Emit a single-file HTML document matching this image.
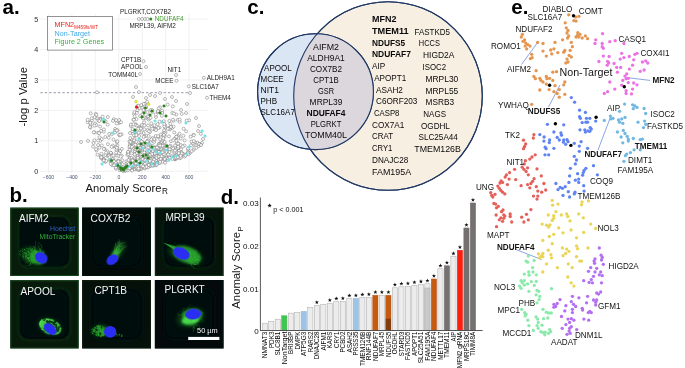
<!DOCTYPE html>
<html><head><meta charset="utf-8"><title>Figure</title>
<style>
html,body{margin:0;padding:0;background:#fff;}
body{width:685px;height:368px;overflow:hidden;font-family:"Liberation Sans",sans-serif;}
svg{display:block;font-family:"Liberation Sans",sans-serif;will-change:transform;}
</style></head><body>
<svg width="685" height="368" viewBox="0 0 685 368">
<rect width="685" height="368" fill="#fff"/>
<circle cx="388" cy="96" r="94.3" fill="#f8efe3" stroke="#1f3864" stroke-width="1.1"/>
<circle cx="315.5" cy="91.7" r="57.9" fill="#dbe6f5" stroke="#1f3864" stroke-width="1.1"/>
<clipPath id="vclip"><circle cx="388" cy="96" r="94.3"/></clipPath>
<circle cx="315.5" cy="91.7" r="57.9" fill="#dcd7dd" stroke="none" clip-path="url(#vclip)"/>
<circle cx="388" cy="96" r="94.3" fill="none" stroke="#1f3864" stroke-width="1.1"/>
<circle cx="315.5" cy="91.7" r="57.9" fill="none" stroke="#1f3864" stroke-width="1.1"/>
<text transform="translate(326.00,49.75)" font-size="8.8" text-anchor="middle" font-weight="normal" fill="#0a0a0a" textLength="26.0" lengthAdjust="spacingAndGlyphs">AIFM2</text>
<text transform="translate(326.00,60.75)" font-size="8.8" text-anchor="middle" font-weight="normal" fill="#0a0a0a" textLength="37.5" lengthAdjust="spacingAndGlyphs">ALDH9A1</text>
<text transform="translate(326.00,71.75)" font-size="8.8" text-anchor="middle" font-weight="normal" fill="#0a0a0a" textLength="32.1" lengthAdjust="spacingAndGlyphs">COX7B2</text>
<text transform="translate(326.00,82.75)" font-size="8.8" text-anchor="middle" font-weight="normal" fill="#0a0a0a" textLength="25.4" lengthAdjust="spacingAndGlyphs">CPT1B</text>
<text transform="translate(326.00,93.75)" font-size="8.8" text-anchor="middle" font-weight="normal" fill="#0a0a0a" textLength="16.0" lengthAdjust="spacingAndGlyphs">GSR</text>
<text transform="translate(326.00,104.75)" font-size="8.8" text-anchor="middle" font-weight="normal" fill="#0a0a0a" textLength="32.8" lengthAdjust="spacingAndGlyphs">MRPL39</text>
<text transform="translate(326.00,115.75)" font-size="8.8" text-anchor="middle" font-weight="bold" fill="#0a0a0a" textLength="38.9" lengthAdjust="spacingAndGlyphs">NDUFAF4</text>
<text transform="translate(326.00,126.75)" font-size="8.8" text-anchor="middle" font-weight="normal" fill="#0a0a0a" textLength="30.6" lengthAdjust="spacingAndGlyphs">PLGRKT</text>
<text transform="translate(326.00,137.75)" font-size="8.8" text-anchor="middle" font-weight="normal" fill="#0a0a0a" textLength="42.1" lengthAdjust="spacingAndGlyphs">TOMM40L</text>
<text transform="translate(264.00,71.15)" font-size="8.8" text-anchor="start" font-weight="normal" fill="#0a0a0a" textLength="27.8" lengthAdjust="spacingAndGlyphs">APOOL</text>
<text transform="translate(260.50,82.15)" font-size="8.8" text-anchor="start" font-weight="normal" fill="#0a0a0a" textLength="23.2" lengthAdjust="spacingAndGlyphs">MCEE</text>
<text transform="translate(260.50,93.15)" font-size="8.8" text-anchor="start" font-weight="normal" fill="#0a0a0a" textLength="18.5" lengthAdjust="spacingAndGlyphs">NIT1</text>
<text transform="translate(260.50,104.15)" font-size="8.8" text-anchor="start" font-weight="normal" fill="#0a0a0a" textLength="16.5" lengthAdjust="spacingAndGlyphs">PHB</text>
<text transform="translate(260.50,115.15)" font-size="8.8" text-anchor="start" font-weight="normal" fill="#0a0a0a" textLength="34.4" lengthAdjust="spacingAndGlyphs">SLC16A7</text>
<text transform="translate(372.00,21.75)" font-size="8.8" text-anchor="start" font-weight="bold" fill="#0a0a0a" textLength="24.5" lengthAdjust="spacingAndGlyphs">MFN2</text>
<text transform="translate(372.00,34.25)" font-size="8.8" text-anchor="start" font-weight="bold" fill="#0a0a0a" textLength="36.7" lengthAdjust="spacingAndGlyphs">TMEM11</text>
<text transform="translate(372.00,45.75)" font-size="8.8" text-anchor="start" font-weight="bold" fill="#0a0a0a" textLength="33.1" lengthAdjust="spacingAndGlyphs">NDUFS5</text>
<text transform="translate(372.00,57.25)" font-size="8.8" text-anchor="start" font-weight="bold" fill="#0a0a0a" textLength="38.9" lengthAdjust="spacingAndGlyphs">NDUFAF7</text>
<text transform="translate(372.00,69.25)" font-size="8.8" text-anchor="start" font-weight="normal" fill="#0a0a0a" textLength="13.2" lengthAdjust="spacingAndGlyphs">AIP</text>
<text transform="translate(374.20,81.25)" font-size="8.8" text-anchor="start" font-weight="normal" fill="#0a0a0a" textLength="32.0" lengthAdjust="spacingAndGlyphs">APOPT1</text>
<text transform="translate(376.00,92.75)" font-size="8.8" text-anchor="start" font-weight="normal" fill="#0a0a0a" textLength="26.9" lengthAdjust="spacingAndGlyphs">ASAH2</text>
<text transform="translate(376.00,104.25)" font-size="8.8" text-anchor="start" font-weight="normal" fill="#0a0a0a" textLength="41.4" lengthAdjust="spacingAndGlyphs">C6ORF203</text>
<text transform="translate(374.00,116.25)" font-size="8.8" text-anchor="start" font-weight="normal" fill="#0a0a0a" textLength="25.4" lengthAdjust="spacingAndGlyphs">CASP8</text>
<text transform="translate(372.00,127.75)" font-size="8.8" text-anchor="start" font-weight="normal" fill="#0a0a0a" textLength="32.4" lengthAdjust="spacingAndGlyphs">COX7A1</text>
<text transform="translate(372.00,139.25)" font-size="8.8" text-anchor="start" font-weight="normal" fill="#0a0a0a" textLength="21.0" lengthAdjust="spacingAndGlyphs">CRAT</text>
<text transform="translate(372.00,151.25)" font-size="8.8" text-anchor="start" font-weight="normal" fill="#0a0a0a" textLength="20.3" lengthAdjust="spacingAndGlyphs">CRY1</text>
<text transform="translate(372.00,163.25)" font-size="8.8" text-anchor="start" font-weight="normal" fill="#0a0a0a" textLength="36.3" lengthAdjust="spacingAndGlyphs">DNAJC28</text>
<text transform="translate(372.00,175.25)" font-size="8.8" text-anchor="start" font-weight="normal" fill="#0a0a0a" textLength="39.1" lengthAdjust="spacingAndGlyphs">FAM195A</text>
<text transform="translate(414.50,34.55)" font-size="8.8" text-anchor="start" font-weight="normal" fill="#0a0a0a" textLength="35.5" lengthAdjust="spacingAndGlyphs">FASTKD5</text>
<text transform="translate(418.80,46.35)" font-size="8.8" text-anchor="start" font-weight="normal" fill="#0a0a0a" textLength="21.1" lengthAdjust="spacingAndGlyphs">HCCS</text>
<text transform="translate(423.00,57.75)" font-size="8.8" text-anchor="start" font-weight="normal" fill="#0a0a0a" textLength="31.4" lengthAdjust="spacingAndGlyphs">HIGD2A</text>
<text transform="translate(422.50,69.75)" font-size="8.8" text-anchor="start" font-weight="normal" fill="#0a0a0a" textLength="23.6" lengthAdjust="spacingAndGlyphs">ISOC2</text>
<text transform="translate(425.50,81.75)" font-size="8.8" text-anchor="start" font-weight="normal" fill="#0a0a0a" textLength="32.8" lengthAdjust="spacingAndGlyphs">MRPL30</text>
<text transform="translate(425.50,93.75)" font-size="8.8" text-anchor="start" font-weight="normal" fill="#0a0a0a" textLength="32.8" lengthAdjust="spacingAndGlyphs">MRPL55</text>
<text transform="translate(425.50,105.25)" font-size="8.8" text-anchor="start" font-weight="normal" fill="#0a0a0a" textLength="28.5" lengthAdjust="spacingAndGlyphs">MSRB3</text>
<text transform="translate(423.30,116.75)" font-size="8.8" text-anchor="start" font-weight="normal" fill="#0a0a0a" textLength="22.7" lengthAdjust="spacingAndGlyphs">NAGS</text>
<text transform="translate(421.00,128.75)" font-size="8.8" text-anchor="start" font-weight="normal" fill="#0a0a0a" textLength="28.9" lengthAdjust="spacingAndGlyphs">OGDHL</text>
<text transform="translate(418.50,140.25)" font-size="8.8" text-anchor="start" font-weight="normal" fill="#0a0a0a" textLength="39.4" lengthAdjust="spacingAndGlyphs">SLC25A44</text>
<text transform="translate(414.30,151.75)" font-size="8.8" text-anchor="start" font-weight="normal" fill="#0a0a0a" textLength="46.6" lengthAdjust="spacingAndGlyphs">TMEM126B</text>
<text transform="translate(247.30,13.80)" font-size="20.5" text-anchor="start" font-weight="bold" fill="#000">c.</text>
<line x1="48.45" y1="14" x2="48.45" y2="173.30" stroke="#ebebeb" stroke-width="0.7"/>
<line x1="71.90" y1="14" x2="71.90" y2="173.30" stroke="#ebebeb" stroke-width="0.7"/>
<line x1="95.35" y1="14" x2="95.35" y2="173.30" stroke="#ebebeb" stroke-width="0.7"/>
<line x1="118.80" y1="14" x2="118.80" y2="173.30" stroke="#ebebeb" stroke-width="0.7"/>
<line x1="142.25" y1="14" x2="142.25" y2="173.30" stroke="#ebebeb" stroke-width="0.7"/>
<line x1="165.70" y1="14" x2="165.70" y2="173.30" stroke="#ebebeb" stroke-width="0.7"/>
<line x1="189.15" y1="14" x2="189.15" y2="173.30" stroke="#ebebeb" stroke-width="0.7"/>
 <line x1="39.7" y1="171.30" x2="208" y2="171.30" stroke="#ebebeb" stroke-width="0.7"/>
 <line x1="39.7" y1="140.85" x2="208" y2="140.85" stroke="#ebebeb" stroke-width="0.7"/>
 <line x1="39.7" y1="110.40" x2="208" y2="110.40" stroke="#ebebeb" stroke-width="0.7"/>
 <line x1="39.7" y1="79.95" x2="208" y2="79.95" stroke="#ebebeb" stroke-width="0.7"/>
 <line x1="39.7" y1="49.50" x2="208" y2="49.50" stroke="#ebebeb" stroke-width="0.7"/>
 <line x1="39.7" y1="19.05" x2="208" y2="19.05" stroke="#ebebeb" stroke-width="0.7"/>
<line x1="40.4" y1="92.6" x2="188.5" y2="92.6" stroke="#a9acb8" stroke-width="1.25" stroke-dasharray="2.3,2.1"/>
<text transform="translate(38.20,173.90)" font-size="7.2" text-anchor="end" font-weight="normal" fill="#2a2a2a">0</text>
<text transform="translate(38.20,143.45)" font-size="7.2" text-anchor="end" font-weight="normal" fill="#2a2a2a">1</text>
<text transform="translate(38.20,113.00)" font-size="7.2" text-anchor="end" font-weight="normal" fill="#2a2a2a">2</text>
<text transform="translate(38.20,82.55)" font-size="7.2" text-anchor="end" font-weight="normal" fill="#2a2a2a">3</text>
<text transform="translate(38.20,52.10)" font-size="7.2" text-anchor="end" font-weight="normal" fill="#2a2a2a">4</text>
<text transform="translate(38.20,21.65)" font-size="7.2" text-anchor="end" font-weight="normal" fill="#2a2a2a">5</text>
<text transform="translate(48.45,179.00)" font-size="5.1" text-anchor="middle" font-weight="normal" fill="#465672">−600</text>
<text transform="translate(71.90,179.00)" font-size="5.1" text-anchor="middle" font-weight="normal" fill="#465672">−400</text>
<text transform="translate(95.35,179.00)" font-size="5.1" text-anchor="middle" font-weight="normal" fill="#465672">−200</text>
<text transform="translate(118.80,179.00)" font-size="5.1" text-anchor="middle" font-weight="normal" fill="#465672">0</text>
<text transform="translate(142.25,179.00)" font-size="5.1" text-anchor="middle" font-weight="normal" fill="#465672">200</text>
<text transform="translate(165.70,179.00)" font-size="5.1" text-anchor="middle" font-weight="normal" fill="#465672">400</text>
<text transform="translate(189.15,179.00)" font-size="5.1" text-anchor="middle" font-weight="normal" fill="#465672">600</text>
<text transform="translate(27.30,96.80) rotate(-90)" font-size="11.3" text-anchor="middle" font-weight="normal" fill="#111">-log p Value</text>
<text transform="translate(85.50,192.10)" font-size="11.2" text-anchor="start" font-weight="normal" fill="#111">Anomaly Score<tspan font-size="8.2" dy="2.3" dx="0.6">R</tspan></text>
<circle cx="157.5" cy="159.1" r="1.5" fill="#fff" stroke="#707070" stroke-width="0.5"/>
<circle cx="126.3" cy="161.4" r="1.5" fill="#fff" stroke="#707070" stroke-width="0.5"/>
<circle cx="170.5" cy="145.7" r="1.5" fill="#fff" stroke="#707070" stroke-width="0.5"/>
<circle cx="167.7" cy="104.5" r="1.5" fill="#fff" stroke="#707070" stroke-width="0.5"/>
<circle cx="139.5" cy="148.6" r="1.5" fill="#fff" stroke="#707070" stroke-width="0.5"/>
<circle cx="148.4" cy="141.9" r="1.5" fill="#fff" stroke="#707070" stroke-width="0.5"/>
<circle cx="147.2" cy="156.8" r="1.5" fill="#fff" stroke="#707070" stroke-width="0.5"/>
<circle cx="135.0" cy="135.0" r="1.5" fill="#fff" stroke="#707070" stroke-width="0.5"/>
<circle cx="177.6" cy="154.7" r="1.5" fill="#fff" stroke="#707070" stroke-width="0.5"/>
<circle cx="160.1" cy="160.1" r="1.5" fill="#fff" stroke="#707070" stroke-width="0.5"/>
<circle cx="161.6" cy="147.5" r="1.5" fill="#fff" stroke="#707070" stroke-width="0.5"/>
<circle cx="154.3" cy="147.8" r="1.5" fill="#fff" stroke="#707070" stroke-width="0.5"/>
<circle cx="160.6" cy="112.0" r="1.5" fill="#fff" stroke="#707070" stroke-width="0.5"/>
<circle cx="127.4" cy="154.9" r="1.5" fill="#fff" stroke="#707070" stroke-width="0.5"/>
<circle cx="127.0" cy="164.3" r="1.5" fill="#fff" stroke="#707070" stroke-width="0.5"/>
<circle cx="154.9" cy="128.5" r="1.5" fill="#fff" stroke="#707070" stroke-width="0.5"/>
<circle cx="135.9" cy="124.3" r="1.5" fill="#fff" stroke="#707070" stroke-width="0.5"/>
<circle cx="130.9" cy="126.0" r="1.5" fill="#fff" stroke="#707070" stroke-width="0.5"/>
<circle cx="194.6" cy="143.9" r="1.5" fill="#fff" stroke="#707070" stroke-width="0.5"/>
<circle cx="160.9" cy="134.6" r="1.5" fill="#fff" stroke="#707070" stroke-width="0.5"/>
<circle cx="130.9" cy="124.5" r="1.5" fill="#fff" stroke="#707070" stroke-width="0.5"/>
<circle cx="124.4" cy="168.0" r="1.5" fill="#fff" stroke="#707070" stroke-width="0.5"/>
<circle cx="134.6" cy="138.8" r="1.5" fill="#fff" stroke="#707070" stroke-width="0.5"/>
<circle cx="193.7" cy="149.8" r="1.5" fill="#fff" stroke="#707070" stroke-width="0.5"/>
<circle cx="166.4" cy="155.7" r="1.5" fill="#fff" stroke="#707070" stroke-width="0.5"/>
<circle cx="190.0" cy="152.9" r="1.5" fill="#fff" stroke="#707070" stroke-width="0.5"/>
<circle cx="165.2" cy="125.4" r="1.5" fill="#fff" stroke="#707070" stroke-width="0.5"/>
<circle cx="187.0" cy="153.6" r="1.5" fill="#fff" stroke="#707070" stroke-width="0.5"/>
<circle cx="137.2" cy="156.4" r="1.5" fill="#fff" stroke="#707070" stroke-width="0.5"/>
<circle cx="158.3" cy="162.3" r="1.5" fill="#fff" stroke="#707070" stroke-width="0.5"/>
<circle cx="142.3" cy="141.9" r="1.5" fill="#fff" stroke="#707070" stroke-width="0.5"/>
<circle cx="161.6" cy="151.9" r="1.5" fill="#fff" stroke="#707070" stroke-width="0.5"/>
<circle cx="159.1" cy="143.8" r="1.5" fill="#fff" stroke="#707070" stroke-width="0.5"/>
<circle cx="164.8" cy="149.5" r="1.5" fill="#fff" stroke="#707070" stroke-width="0.5"/>
<circle cx="132.5" cy="131.6" r="1.5" fill="#fff" stroke="#707070" stroke-width="0.5"/>
<circle cx="135.2" cy="151.2" r="1.5" fill="#fff" stroke="#707070" stroke-width="0.5"/>
<circle cx="134.3" cy="163.1" r="1.5" fill="#fff" stroke="#707070" stroke-width="0.5"/>
<circle cx="140.6" cy="168.1" r="1.5" fill="#fff" stroke="#707070" stroke-width="0.5"/>
<circle cx="158.1" cy="136.9" r="1.5" fill="#fff" stroke="#707070" stroke-width="0.5"/>
<circle cx="149.8" cy="144.6" r="1.5" fill="#fff" stroke="#707070" stroke-width="0.5"/>
<circle cx="127.8" cy="170.4" r="1.5" fill="#fff" stroke="#707070" stroke-width="0.5"/>
<circle cx="169.6" cy="150.1" r="1.5" fill="#fff" stroke="#707070" stroke-width="0.5"/>
<circle cx="174.8" cy="157.3" r="1.5" fill="#fff" stroke="#707070" stroke-width="0.5"/>
<circle cx="142.2" cy="107.8" r="1.5" fill="#fff" stroke="#707070" stroke-width="0.5"/>
<circle cx="146.4" cy="135.8" r="1.5" fill="#fff" stroke="#707070" stroke-width="0.5"/>
<circle cx="150.8" cy="159.5" r="1.5" fill="#fff" stroke="#707070" stroke-width="0.5"/>
<circle cx="128.3" cy="153.0" r="1.5" fill="#fff" stroke="#707070" stroke-width="0.5"/>
<circle cx="194.3" cy="147.9" r="1.5" fill="#fff" stroke="#707070" stroke-width="0.5"/>
<circle cx="135.5" cy="131.9" r="1.5" fill="#fff" stroke="#707070" stroke-width="0.5"/>
<circle cx="148.0" cy="125.5" r="1.5" fill="#fff" stroke="#707070" stroke-width="0.5"/>
<circle cx="139.1" cy="136.1" r="1.5" fill="#fff" stroke="#707070" stroke-width="0.5"/>
<circle cx="166.2" cy="153.7" r="1.5" fill="#fff" stroke="#707070" stroke-width="0.5"/>
<circle cx="134.8" cy="151.8" r="1.5" fill="#fff" stroke="#707070" stroke-width="0.5"/>
<circle cx="178.8" cy="149.6" r="1.5" fill="#fff" stroke="#707070" stroke-width="0.5"/>
<circle cx="178.7" cy="135.0" r="1.5" fill="#fff" stroke="#707070" stroke-width="0.5"/>
<circle cx="188.3" cy="153.5" r="1.5" fill="#fff" stroke="#707070" stroke-width="0.5"/>
<circle cx="166.7" cy="147.1" r="1.5" fill="#fff" stroke="#707070" stroke-width="0.5"/>
<circle cx="144.4" cy="152.1" r="1.5" fill="#fff" stroke="#707070" stroke-width="0.5"/>
<circle cx="178.9" cy="154.8" r="1.5" fill="#fff" stroke="#707070" stroke-width="0.5"/>
<circle cx="147.6" cy="140.6" r="1.5" fill="#fff" stroke="#707070" stroke-width="0.5"/>
<circle cx="138.9" cy="169.9" r="1.5" fill="#fff" stroke="#707070" stroke-width="0.5"/>
<circle cx="159.7" cy="121.6" r="1.5" fill="#fff" stroke="#707070" stroke-width="0.5"/>
<circle cx="145.2" cy="103.5" r="1.5" fill="#fff" stroke="#707070" stroke-width="0.5"/>
<circle cx="144.4" cy="136.5" r="1.5" fill="#fff" stroke="#707070" stroke-width="0.5"/>
<circle cx="159.7" cy="153.8" r="1.5" fill="#fff" stroke="#707070" stroke-width="0.5"/>
<circle cx="133.0" cy="133.8" r="1.5" fill="#fff" stroke="#707070" stroke-width="0.5"/>
<circle cx="144.0" cy="146.9" r="1.5" fill="#fff" stroke="#707070" stroke-width="0.5"/>
<circle cx="168.5" cy="128.2" r="1.5" fill="#fff" stroke="#707070" stroke-width="0.5"/>
<circle cx="134.0" cy="113.8" r="1.5" fill="#fff" stroke="#707070" stroke-width="0.5"/>
<circle cx="161.5" cy="142.0" r="1.5" fill="#fff" stroke="#707070" stroke-width="0.5"/>
<circle cx="160.2" cy="139.4" r="1.5" fill="#fff" stroke="#707070" stroke-width="0.5"/>
<circle cx="198.4" cy="146.2" r="1.5" fill="#fff" stroke="#707070" stroke-width="0.5"/>
<circle cx="157.2" cy="148.8" r="1.5" fill="#fff" stroke="#707070" stroke-width="0.5"/>
<circle cx="188.3" cy="152.8" r="1.5" fill="#fff" stroke="#707070" stroke-width="0.5"/>
<circle cx="139.4" cy="169.3" r="1.5" fill="#fff" stroke="#707070" stroke-width="0.5"/>
<circle cx="140.8" cy="154.4" r="1.5" fill="#fff" stroke="#707070" stroke-width="0.5"/>
<circle cx="137.8" cy="166.9" r="1.5" fill="#fff" stroke="#707070" stroke-width="0.5"/>
<circle cx="132.7" cy="168.9" r="1.5" fill="#fff" stroke="#707070" stroke-width="0.5"/>
<circle cx="151.9" cy="158.7" r="1.5" fill="#fff" stroke="#707070" stroke-width="0.5"/>
<circle cx="153.2" cy="165.7" r="1.5" fill="#fff" stroke="#707070" stroke-width="0.5"/>
<circle cx="152.6" cy="164.1" r="1.5" fill="#fff" stroke="#707070" stroke-width="0.5"/>
<circle cx="156.4" cy="158.0" r="1.5" fill="#fff" stroke="#707070" stroke-width="0.5"/>
<circle cx="127.7" cy="165.8" r="1.5" fill="#fff" stroke="#707070" stroke-width="0.5"/>
<circle cx="148.6" cy="119.7" r="1.5" fill="#fff" stroke="#707070" stroke-width="0.5"/>
<circle cx="144.4" cy="106.0" r="1.5" fill="#fff" stroke="#707070" stroke-width="0.5"/>
<circle cx="163.6" cy="150.7" r="1.5" fill="#fff" stroke="#707070" stroke-width="0.5"/>
<circle cx="135.1" cy="163.2" r="1.5" fill="#fff" stroke="#707070" stroke-width="0.5"/>
<circle cx="153.2" cy="161.9" r="1.5" fill="#fff" stroke="#707070" stroke-width="0.5"/>
<circle cx="140.5" cy="126.4" r="1.5" fill="#fff" stroke="#707070" stroke-width="0.5"/>
<circle cx="176.3" cy="114.5" r="1.5" fill="#fff" stroke="#707070" stroke-width="0.5"/>
<circle cx="149.5" cy="148.5" r="1.5" fill="#fff" stroke="#707070" stroke-width="0.5"/>
<circle cx="148.3" cy="140.5" r="1.5" fill="#fff" stroke="#707070" stroke-width="0.5"/>
<circle cx="156.9" cy="161.8" r="1.5" fill="#fff" stroke="#707070" stroke-width="0.5"/>
<circle cx="156.0" cy="163.1" r="1.5" fill="#fff" stroke="#707070" stroke-width="0.5"/>
<circle cx="129.8" cy="144.5" r="1.5" fill="#fff" stroke="#707070" stroke-width="0.5"/>
<circle cx="132.9" cy="167.4" r="1.5" fill="#fff" stroke="#707070" stroke-width="0.5"/>
<circle cx="154.5" cy="164.7" r="1.5" fill="#fff" stroke="#707070" stroke-width="0.5"/>
<circle cx="155.9" cy="160.5" r="1.5" fill="#fff" stroke="#707070" stroke-width="0.5"/>
<circle cx="165.2" cy="127.4" r="1.5" fill="#fff" stroke="#707070" stroke-width="0.5"/>
<circle cx="157.6" cy="147.1" r="1.5" fill="#fff" stroke="#707070" stroke-width="0.5"/>
<circle cx="135.8" cy="167.0" r="1.5" fill="#fff" stroke="#707070" stroke-width="0.5"/>
<circle cx="166.3" cy="145.5" r="1.5" fill="#fff" stroke="#707070" stroke-width="0.5"/>
<circle cx="155.0" cy="157.0" r="1.5" fill="#fff" stroke="#707070" stroke-width="0.5"/>
<circle cx="152.2" cy="154.7" r="1.5" fill="#fff" stroke="#707070" stroke-width="0.5"/>
<circle cx="137.1" cy="153.2" r="1.5" fill="#fff" stroke="#707070" stroke-width="0.5"/>
<circle cx="170.8" cy="147.5" r="1.5" fill="#fff" stroke="#707070" stroke-width="0.5"/>
<circle cx="134.8" cy="144.0" r="1.5" fill="#fff" stroke="#707070" stroke-width="0.5"/>
<circle cx="139.3" cy="144.6" r="1.5" fill="#fff" stroke="#707070" stroke-width="0.5"/>
<circle cx="133.6" cy="167.0" r="1.5" fill="#fff" stroke="#707070" stroke-width="0.5"/>
<circle cx="156.0" cy="117.0" r="1.5" fill="#fff" stroke="#707070" stroke-width="0.5"/>
<circle cx="126.5" cy="163.6" r="1.5" fill="#fff" stroke="#707070" stroke-width="0.5"/>
<circle cx="160.9" cy="153.0" r="1.5" fill="#fff" stroke="#707070" stroke-width="0.5"/>
<circle cx="158.5" cy="156.4" r="1.5" fill="#fff" stroke="#707070" stroke-width="0.5"/>
<circle cx="140.4" cy="162.9" r="1.5" fill="#fff" stroke="#707070" stroke-width="0.5"/>
<circle cx="149.5" cy="162.9" r="1.5" fill="#fff" stroke="#707070" stroke-width="0.5"/>
<circle cx="142.2" cy="164.9" r="1.5" fill="#fff" stroke="#707070" stroke-width="0.5"/>
<circle cx="161.2" cy="160.0" r="1.5" fill="#fff" stroke="#707070" stroke-width="0.5"/>
<circle cx="152.5" cy="158.5" r="1.5" fill="#fff" stroke="#707070" stroke-width="0.5"/>
<circle cx="139.5" cy="108.0" r="1.5" fill="#fff" stroke="#707070" stroke-width="0.5"/>
<circle cx="174.8" cy="159.0" r="1.5" fill="#fff" stroke="#707070" stroke-width="0.5"/>
<circle cx="146.2" cy="107.1" r="1.5" fill="#fff" stroke="#707070" stroke-width="0.5"/>
<circle cx="148.8" cy="130.3" r="1.5" fill="#fff" stroke="#707070" stroke-width="0.5"/>
<circle cx="164.1" cy="160.9" r="1.5" fill="#fff" stroke="#707070" stroke-width="0.5"/>
<circle cx="158.5" cy="155.3" r="1.5" fill="#fff" stroke="#707070" stroke-width="0.5"/>
<circle cx="180.6" cy="138.5" r="1.5" fill="#fff" stroke="#707070" stroke-width="0.5"/>
<circle cx="163.0" cy="157.0" r="1.5" fill="#fff" stroke="#707070" stroke-width="0.5"/>
<circle cx="144.0" cy="167.5" r="1.5" fill="#fff" stroke="#707070" stroke-width="0.5"/>
<circle cx="140.2" cy="150.0" r="1.5" fill="#fff" stroke="#707070" stroke-width="0.5"/>
<circle cx="131.6" cy="145.5" r="1.5" fill="#fff" stroke="#707070" stroke-width="0.5"/>
<circle cx="155.1" cy="163.7" r="1.5" fill="#fff" stroke="#707070" stroke-width="0.5"/>
<circle cx="151.3" cy="123.4" r="1.5" fill="#fff" stroke="#707070" stroke-width="0.5"/>
<circle cx="138.1" cy="169.7" r="1.5" fill="#fff" stroke="#707070" stroke-width="0.5"/>
<circle cx="130.9" cy="168.8" r="1.5" fill="#fff" stroke="#707070" stroke-width="0.5"/>
<circle cx="188.1" cy="152.4" r="1.5" fill="#fff" stroke="#707070" stroke-width="0.5"/>
<circle cx="138.7" cy="145.6" r="1.5" fill="#fff" stroke="#707070" stroke-width="0.5"/>
<circle cx="139.5" cy="127.8" r="1.5" fill="#fff" stroke="#707070" stroke-width="0.5"/>
<circle cx="155.4" cy="156.6" r="1.5" fill="#fff" stroke="#707070" stroke-width="0.5"/>
<circle cx="163.8" cy="145.2" r="1.5" fill="#fff" stroke="#707070" stroke-width="0.5"/>
<circle cx="134.2" cy="143.2" r="1.5" fill="#fff" stroke="#707070" stroke-width="0.5"/>
<circle cx="148.3" cy="144.9" r="1.5" fill="#fff" stroke="#707070" stroke-width="0.5"/>
<circle cx="157.1" cy="155.9" r="1.5" fill="#fff" stroke="#707070" stroke-width="0.5"/>
<circle cx="160.1" cy="144.4" r="1.5" fill="#fff" stroke="#707070" stroke-width="0.5"/>
<circle cx="167.1" cy="151.3" r="1.5" fill="#fff" stroke="#707070" stroke-width="0.5"/>
<circle cx="175.2" cy="159.3" r="1.5" fill="#fff" stroke="#707070" stroke-width="0.5"/>
<circle cx="139.8" cy="148.9" r="1.5" fill="#fff" stroke="#707070" stroke-width="0.5"/>
<circle cx="157.2" cy="149.9" r="1.5" fill="#fff" stroke="#707070" stroke-width="0.5"/>
<circle cx="141.1" cy="168.9" r="1.5" fill="#fff" stroke="#707070" stroke-width="0.5"/>
<circle cx="175.2" cy="158.5" r="1.5" fill="#fff" stroke="#707070" stroke-width="0.5"/>
<circle cx="132.8" cy="159.6" r="1.5" fill="#fff" stroke="#707070" stroke-width="0.5"/>
<circle cx="175.1" cy="147.1" r="1.5" fill="#fff" stroke="#707070" stroke-width="0.5"/>
<circle cx="191.1" cy="145.3" r="1.5" fill="#fff" stroke="#707070" stroke-width="0.5"/>
<circle cx="138.8" cy="149.5" r="1.5" fill="#fff" stroke="#707070" stroke-width="0.5"/>
<circle cx="134.0" cy="135.3" r="1.5" fill="#fff" stroke="#707070" stroke-width="0.5"/>
<circle cx="175.1" cy="145.5" r="1.5" fill="#fff" stroke="#707070" stroke-width="0.5"/>
<circle cx="155.8" cy="136.0" r="1.5" fill="#fff" stroke="#707070" stroke-width="0.5"/>
<circle cx="176.5" cy="156.6" r="1.5" fill="#fff" stroke="#707070" stroke-width="0.5"/>
<circle cx="174.9" cy="156.1" r="1.5" fill="#fff" stroke="#707070" stroke-width="0.5"/>
<circle cx="140.0" cy="147.7" r="1.5" fill="#fff" stroke="#707070" stroke-width="0.5"/>
<circle cx="147.4" cy="130.2" r="1.5" fill="#fff" stroke="#707070" stroke-width="0.5"/>
<circle cx="130.9" cy="146.1" r="1.5" fill="#fff" stroke="#707070" stroke-width="0.5"/>
<circle cx="132.5" cy="169.1" r="1.5" fill="#fff" stroke="#707070" stroke-width="0.5"/>
<circle cx="142.5" cy="152.4" r="1.5" fill="#fff" stroke="#707070" stroke-width="0.5"/>
<circle cx="174.4" cy="150.7" r="1.5" fill="#fff" stroke="#707070" stroke-width="0.5"/>
<circle cx="176.2" cy="158.4" r="1.5" fill="#fff" stroke="#707070" stroke-width="0.5"/>
<circle cx="148.2" cy="152.2" r="1.5" fill="#fff" stroke="#707070" stroke-width="0.5"/>
<circle cx="193.5" cy="134.8" r="1.5" fill="#fff" stroke="#707070" stroke-width="0.5"/>
<circle cx="152.8" cy="141.1" r="1.5" fill="#fff" stroke="#707070" stroke-width="0.5"/>
<circle cx="169.3" cy="120.9" r="1.5" fill="#fff" stroke="#707070" stroke-width="0.5"/>
<circle cx="189.1" cy="120.3" r="1.5" fill="#fff" stroke="#707070" stroke-width="0.5"/>
<circle cx="184.5" cy="156.6" r="1.5" fill="#fff" stroke="#707070" stroke-width="0.5"/>
<circle cx="129.7" cy="157.7" r="1.5" fill="#fff" stroke="#707070" stroke-width="0.5"/>
<circle cx="137.4" cy="150.1" r="1.5" fill="#fff" stroke="#707070" stroke-width="0.5"/>
<circle cx="135.4" cy="142.7" r="1.5" fill="#fff" stroke="#707070" stroke-width="0.5"/>
<circle cx="125.3" cy="170.8" r="1.5" fill="#fff" stroke="#707070" stroke-width="0.5"/>
<circle cx="162.6" cy="140.6" r="1.5" fill="#fff" stroke="#707070" stroke-width="0.5"/>
<circle cx="137.4" cy="106.0" r="1.5" fill="#fff" stroke="#707070" stroke-width="0.5"/>
<circle cx="171.8" cy="128.4" r="1.5" fill="#fff" stroke="#707070" stroke-width="0.5"/>
<circle cx="135.7" cy="169.1" r="1.5" fill="#fff" stroke="#707070" stroke-width="0.5"/>
<circle cx="151.5" cy="164.5" r="1.5" fill="#fff" stroke="#707070" stroke-width="0.5"/>
<circle cx="149.2" cy="118.4" r="1.5" fill="#fff" stroke="#707070" stroke-width="0.5"/>
<circle cx="134.3" cy="148.5" r="1.5" fill="#fff" stroke="#707070" stroke-width="0.5"/>
<circle cx="181.7" cy="113.9" r="1.5" fill="#fff" stroke="#707070" stroke-width="0.5"/>
<circle cx="150.5" cy="158.8" r="1.5" fill="#fff" stroke="#707070" stroke-width="0.5"/>
<circle cx="144.5" cy="129.4" r="1.5" fill="#fff" stroke="#707070" stroke-width="0.5"/>
<circle cx="144.9" cy="160.0" r="1.5" fill="#fff" stroke="#707070" stroke-width="0.5"/>
<circle cx="136.3" cy="135.1" r="1.5" fill="#fff" stroke="#707070" stroke-width="0.5"/>
<circle cx="196.3" cy="147.8" r="1.5" fill="#fff" stroke="#707070" stroke-width="0.5"/>
<circle cx="150.6" cy="110.0" r="1.5" fill="#fff" stroke="#707070" stroke-width="0.5"/>
<circle cx="140.5" cy="140.9" r="1.5" fill="#fff" stroke="#707070" stroke-width="0.5"/>
<circle cx="137.4" cy="155.1" r="1.5" fill="#fff" stroke="#707070" stroke-width="0.5"/>
<circle cx="138.7" cy="105.7" r="1.5" fill="#fff" stroke="#707070" stroke-width="0.5"/>
<circle cx="127.9" cy="152.4" r="1.5" fill="#fff" stroke="#707070" stroke-width="0.5"/>
<circle cx="193.8" cy="135.3" r="1.5" fill="#fff" stroke="#707070" stroke-width="0.5"/>
<circle cx="130.5" cy="150.0" r="1.5" fill="#fff" stroke="#707070" stroke-width="0.5"/>
<circle cx="131.0" cy="162.2" r="1.5" fill="#fff" stroke="#707070" stroke-width="0.5"/>
<circle cx="163.2" cy="135.8" r="1.5" fill="#fff" stroke="#707070" stroke-width="0.5"/>
<circle cx="132.6" cy="129.0" r="1.5" fill="#fff" stroke="#707070" stroke-width="0.5"/>
<circle cx="152.6" cy="138.0" r="1.5" fill="#fff" stroke="#707070" stroke-width="0.5"/>
<circle cx="158.2" cy="136.1" r="1.5" fill="#fff" stroke="#707070" stroke-width="0.5"/>
<circle cx="134.0" cy="169.3" r="1.5" fill="#fff" stroke="#707070" stroke-width="0.5"/>
<circle cx="144.4" cy="148.5" r="1.5" fill="#fff" stroke="#707070" stroke-width="0.5"/>
<circle cx="146.3" cy="117.4" r="1.5" fill="#fff" stroke="#707070" stroke-width="0.5"/>
<circle cx="167.6" cy="160.0" r="1.5" fill="#fff" stroke="#707070" stroke-width="0.5"/>
<circle cx="169.5" cy="146.5" r="1.5" fill="#fff" stroke="#707070" stroke-width="0.5"/>
<circle cx="154.1" cy="141.9" r="1.5" fill="#fff" stroke="#707070" stroke-width="0.5"/>
<circle cx="151.6" cy="161.6" r="1.5" fill="#fff" stroke="#707070" stroke-width="0.5"/>
<circle cx="128.0" cy="162.3" r="1.5" fill="#fff" stroke="#707070" stroke-width="0.5"/>
<circle cx="158.8" cy="152.6" r="1.5" fill="#fff" stroke="#707070" stroke-width="0.5"/>
<circle cx="141.1" cy="168.6" r="1.5" fill="#fff" stroke="#707070" stroke-width="0.5"/>
<circle cx="183.8" cy="154.3" r="1.5" fill="#fff" stroke="#707070" stroke-width="0.5"/>
<circle cx="133.0" cy="162.3" r="1.5" fill="#fff" stroke="#707070" stroke-width="0.5"/>
<circle cx="160.3" cy="151.7" r="1.5" fill="#fff" stroke="#707070" stroke-width="0.5"/>
<circle cx="154.7" cy="139.7" r="1.5" fill="#fff" stroke="#707070" stroke-width="0.5"/>
<circle cx="149.1" cy="156.3" r="1.5" fill="#fff" stroke="#707070" stroke-width="0.5"/>
<circle cx="163.7" cy="131.7" r="1.5" fill="#fff" stroke="#707070" stroke-width="0.5"/>
<circle cx="149.2" cy="160.3" r="1.5" fill="#fff" stroke="#707070" stroke-width="0.5"/>
<circle cx="178.3" cy="137.6" r="1.5" fill="#fff" stroke="#707070" stroke-width="0.5"/>
<circle cx="190.6" cy="136.7" r="1.5" fill="#fff" stroke="#707070" stroke-width="0.5"/>
<circle cx="164.7" cy="136.1" r="1.5" fill="#fff" stroke="#707070" stroke-width="0.5"/>
<circle cx="156.4" cy="156.3" r="1.5" fill="#fff" stroke="#707070" stroke-width="0.5"/>
<circle cx="147.6" cy="160.2" r="1.5" fill="#fff" stroke="#707070" stroke-width="0.5"/>
<circle cx="169.9" cy="129.4" r="1.5" fill="#fff" stroke="#707070" stroke-width="0.5"/>
<circle cx="135.4" cy="154.3" r="1.5" fill="#fff" stroke="#707070" stroke-width="0.5"/>
<circle cx="165.6" cy="158.9" r="1.5" fill="#fff" stroke="#707070" stroke-width="0.5"/>
<circle cx="149.1" cy="151.2" r="1.5" fill="#fff" stroke="#707070" stroke-width="0.5"/>
<circle cx="136.5" cy="119.1" r="1.5" fill="#fff" stroke="#707070" stroke-width="0.5"/>
<circle cx="159.6" cy="127.6" r="1.5" fill="#fff" stroke="#707070" stroke-width="0.5"/>
<circle cx="158.8" cy="144.3" r="1.5" fill="#fff" stroke="#707070" stroke-width="0.5"/>
<circle cx="126.1" cy="166.6" r="1.5" fill="#fff" stroke="#707070" stroke-width="0.5"/>
<circle cx="148.5" cy="164.3" r="1.5" fill="#fff" stroke="#707070" stroke-width="0.5"/>
<circle cx="162.5" cy="156.7" r="1.5" fill="#fff" stroke="#707070" stroke-width="0.5"/>
<circle cx="136.8" cy="125.6" r="1.5" fill="#fff" stroke="#707070" stroke-width="0.5"/>
<circle cx="154.3" cy="128.8" r="1.5" fill="#fff" stroke="#707070" stroke-width="0.5"/>
<circle cx="132.7" cy="159.0" r="1.5" fill="#fff" stroke="#707070" stroke-width="0.5"/>
<circle cx="159.1" cy="159.8" r="1.5" fill="#fff" stroke="#707070" stroke-width="0.5"/>
<circle cx="139.7" cy="168.0" r="1.5" fill="#fff" stroke="#707070" stroke-width="0.5"/>
<circle cx="141.3" cy="132.4" r="1.5" fill="#fff" stroke="#707070" stroke-width="0.5"/>
<circle cx="144.8" cy="155.2" r="1.5" fill="#fff" stroke="#707070" stroke-width="0.5"/>
<circle cx="131.5" cy="140.2" r="1.5" fill="#fff" stroke="#707070" stroke-width="0.5"/>
<circle cx="163.8" cy="121.2" r="1.5" fill="#fff" stroke="#707070" stroke-width="0.5"/>
<circle cx="148.2" cy="116.2" r="1.5" fill="#fff" stroke="#707070" stroke-width="0.5"/>
<circle cx="133.4" cy="119.8" r="1.5" fill="#fff" stroke="#707070" stroke-width="0.5"/>
<circle cx="178.6" cy="147.4" r="1.5" fill="#fff" stroke="#707070" stroke-width="0.5"/>
<circle cx="143.0" cy="160.5" r="1.5" fill="#fff" stroke="#707070" stroke-width="0.5"/>
<circle cx="169.5" cy="151.2" r="1.5" fill="#fff" stroke="#707070" stroke-width="0.5"/>
<circle cx="158.4" cy="148.9" r="1.5" fill="#fff" stroke="#707070" stroke-width="0.5"/>
<circle cx="186.6" cy="120.5" r="1.5" fill="#fff" stroke="#707070" stroke-width="0.5"/>
<circle cx="193.0" cy="143.4" r="1.5" fill="#fff" stroke="#707070" stroke-width="0.5"/>
<circle cx="139.8" cy="165.4" r="1.5" fill="#fff" stroke="#707070" stroke-width="0.5"/>
<circle cx="129.6" cy="149.7" r="1.5" fill="#fff" stroke="#707070" stroke-width="0.5"/>
<circle cx="174.3" cy="132.4" r="1.5" fill="#fff" stroke="#707070" stroke-width="0.5"/>
<circle cx="180.5" cy="157.6" r="1.5" fill="#fff" stroke="#707070" stroke-width="0.5"/>
<circle cx="175.1" cy="138.9" r="1.5" fill="#fff" stroke="#707070" stroke-width="0.5"/>
<circle cx="134.2" cy="140.3" r="1.5" fill="#fff" stroke="#707070" stroke-width="0.5"/>
<circle cx="160.5" cy="154.8" r="1.5" fill="#fff" stroke="#707070" stroke-width="0.5"/>
<circle cx="138.8" cy="150.2" r="1.5" fill="#fff" stroke="#707070" stroke-width="0.5"/>
<circle cx="152.4" cy="112.0" r="1.5" fill="#fff" stroke="#707070" stroke-width="0.5"/>
<circle cx="123.4" cy="170.9" r="1.5" fill="#fff" stroke="#707070" stroke-width="0.5"/>
<circle cx="174.3" cy="158.6" r="1.5" fill="#fff" stroke="#707070" stroke-width="0.5"/>
<circle cx="163.3" cy="135.7" r="1.5" fill="#fff" stroke="#707070" stroke-width="0.5"/>
<circle cx="147.2" cy="141.5" r="1.5" fill="#fff" stroke="#707070" stroke-width="0.5"/>
<circle cx="138.2" cy="151.7" r="1.5" fill="#fff" stroke="#707070" stroke-width="0.5"/>
<circle cx="173.6" cy="158.0" r="1.5" fill="#fff" stroke="#707070" stroke-width="0.5"/>
<circle cx="178.3" cy="143.6" r="1.5" fill="#fff" stroke="#707070" stroke-width="0.5"/>
<circle cx="162.2" cy="146.3" r="1.5" fill="#fff" stroke="#707070" stroke-width="0.5"/>
<circle cx="150.8" cy="163.3" r="1.5" fill="#fff" stroke="#707070" stroke-width="0.5"/>
<circle cx="138.1" cy="148.5" r="1.5" fill="#fff" stroke="#707070" stroke-width="0.5"/>
<circle cx="129.5" cy="147.2" r="1.5" fill="#fff" stroke="#707070" stroke-width="0.5"/>
<circle cx="169.1" cy="128.3" r="1.5" fill="#fff" stroke="#707070" stroke-width="0.5"/>
<circle cx="137.4" cy="163.6" r="1.5" fill="#fff" stroke="#707070" stroke-width="0.5"/>
<circle cx="131.8" cy="161.6" r="1.5" fill="#fff" stroke="#707070" stroke-width="0.5"/>
<circle cx="130.3" cy="138.0" r="1.5" fill="#fff" stroke="#707070" stroke-width="0.5"/>
<circle cx="162.9" cy="139.6" r="1.5" fill="#fff" stroke="#707070" stroke-width="0.5"/>
<circle cx="130.9" cy="159.4" r="1.5" fill="#fff" stroke="#707070" stroke-width="0.5"/>
<circle cx="136.6" cy="168.6" r="1.5" fill="#fff" stroke="#707070" stroke-width="0.5"/>
<circle cx="142.0" cy="126.6" r="1.5" fill="#fff" stroke="#707070" stroke-width="0.5"/>
<circle cx="131.8" cy="166.2" r="1.5" fill="#fff" stroke="#707070" stroke-width="0.5"/>
<circle cx="191.6" cy="141.6" r="1.5" fill="#fff" stroke="#707070" stroke-width="0.5"/>
<circle cx="155.0" cy="162.4" r="1.5" fill="#fff" stroke="#707070" stroke-width="0.5"/>
<circle cx="140.3" cy="163.9" r="1.5" fill="#fff" stroke="#707070" stroke-width="0.5"/>
<circle cx="154.5" cy="125.3" r="1.5" fill="#fff" stroke="#707070" stroke-width="0.5"/>
<circle cx="170.3" cy="123.9" r="1.5" fill="#fff" stroke="#707070" stroke-width="0.5"/>
<circle cx="151.4" cy="139.4" r="1.5" fill="#fff" stroke="#707070" stroke-width="0.5"/>
<circle cx="141.9" cy="125.0" r="1.5" fill="#fff" stroke="#707070" stroke-width="0.5"/>
<circle cx="147.4" cy="112.1" r="1.5" fill="#fff" stroke="#707070" stroke-width="0.5"/>
<circle cx="150.6" cy="165.9" r="1.5" fill="#fff" stroke="#707070" stroke-width="0.5"/>
<circle cx="152.0" cy="155.4" r="1.5" fill="#fff" stroke="#707070" stroke-width="0.5"/>
<circle cx="145.3" cy="118.4" r="1.5" fill="#fff" stroke="#707070" stroke-width="0.5"/>
<circle cx="140.5" cy="128.6" r="1.5" fill="#fff" stroke="#707070" stroke-width="0.5"/>
<circle cx="202.0" cy="143.0" r="1.5" fill="#fff" stroke="#707070" stroke-width="0.5"/>
<circle cx="143.7" cy="133.1" r="1.5" fill="#fff" stroke="#707070" stroke-width="0.5"/>
<circle cx="129.9" cy="158.2" r="1.5" fill="#fff" stroke="#707070" stroke-width="0.5"/>
<circle cx="176.7" cy="143.0" r="1.5" fill="#fff" stroke="#707070" stroke-width="0.5"/>
<circle cx="185.5" cy="155.5" r="1.5" fill="#fff" stroke="#707070" stroke-width="0.5"/>
<circle cx="176.6" cy="155.4" r="1.5" fill="#fff" stroke="#707070" stroke-width="0.5"/>
<circle cx="163.7" cy="145.5" r="1.5" fill="#fff" stroke="#707070" stroke-width="0.5"/>
<circle cx="200.5" cy="144.8" r="1.5" fill="#fff" stroke="#707070" stroke-width="0.5"/>
<circle cx="140.4" cy="140.7" r="1.5" fill="#fff" stroke="#707070" stroke-width="0.5"/>
<circle cx="139.8" cy="163.2" r="1.5" fill="#fff" stroke="#707070" stroke-width="0.5"/>
<circle cx="147.1" cy="101.7" r="1.5" fill="#fff" stroke="#707070" stroke-width="0.5"/>
<circle cx="136.4" cy="148.8" r="1.5" fill="#fff" stroke="#707070" stroke-width="0.5"/>
<circle cx="150.5" cy="165.7" r="1.5" fill="#fff" stroke="#707070" stroke-width="0.5"/>
<circle cx="187.8" cy="149.3" r="1.5" fill="#fff" stroke="#707070" stroke-width="0.5"/>
<circle cx="137.3" cy="149.0" r="1.5" fill="#fff" stroke="#707070" stroke-width="0.5"/>
<circle cx="183.4" cy="135.8" r="1.5" fill="#fff" stroke="#707070" stroke-width="0.5"/>
<circle cx="154.3" cy="129.3" r="1.5" fill="#fff" stroke="#707070" stroke-width="0.5"/>
<circle cx="143.5" cy="143.7" r="1.5" fill="#fff" stroke="#707070" stroke-width="0.5"/>
<circle cx="142.4" cy="114.2" r="1.5" fill="#fff" stroke="#707070" stroke-width="0.5"/>
<circle cx="174.4" cy="153.1" r="1.5" fill="#fff" stroke="#707070" stroke-width="0.5"/>
<circle cx="173.1" cy="148.4" r="1.5" fill="#fff" stroke="#707070" stroke-width="0.5"/>
<circle cx="174.4" cy="138.8" r="1.5" fill="#fff" stroke="#707070" stroke-width="0.5"/>
<circle cx="161.5" cy="151.6" r="1.5" fill="#fff" stroke="#707070" stroke-width="0.5"/>
<circle cx="161.8" cy="115.8" r="1.5" fill="#fff" stroke="#707070" stroke-width="0.5"/>
<circle cx="166.0" cy="158.2" r="1.5" fill="#fff" stroke="#707070" stroke-width="0.5"/>
<circle cx="136.7" cy="158.8" r="1.5" fill="#fff" stroke="#707070" stroke-width="0.5"/>
<circle cx="154.0" cy="159.5" r="1.5" fill="#fff" stroke="#707070" stroke-width="0.5"/>
<circle cx="165.5" cy="132.4" r="1.5" fill="#fff" stroke="#707070" stroke-width="0.5"/>
<circle cx="188.4" cy="154.3" r="1.5" fill="#fff" stroke="#707070" stroke-width="0.5"/>
<circle cx="142.5" cy="159.6" r="1.5" fill="#fff" stroke="#707070" stroke-width="0.5"/>
<circle cx="173.5" cy="126.6" r="1.5" fill="#fff" stroke="#707070" stroke-width="0.5"/>
<circle cx="138.3" cy="169.5" r="1.5" fill="#fff" stroke="#707070" stroke-width="0.5"/>
<circle cx="153.2" cy="147.6" r="1.5" fill="#fff" stroke="#707070" stroke-width="0.5"/>
<circle cx="128.3" cy="154.1" r="1.5" fill="#fff" stroke="#707070" stroke-width="0.5"/>
<circle cx="164.7" cy="159.0" r="1.5" fill="#fff" stroke="#707070" stroke-width="0.5"/>
<circle cx="183.6" cy="128.7" r="1.5" fill="#fff" stroke="#707070" stroke-width="0.5"/>
<circle cx="184.6" cy="140.4" r="1.5" fill="#fff" stroke="#707070" stroke-width="0.5"/>
<circle cx="178.7" cy="150.8" r="1.5" fill="#fff" stroke="#707070" stroke-width="0.5"/>
<circle cx="123.0" cy="170.7" r="1.5" fill="#fff" stroke="#707070" stroke-width="0.5"/>
<circle cx="144.1" cy="122.4" r="1.5" fill="#fff" stroke="#707070" stroke-width="0.5"/>
<circle cx="139.0" cy="165.7" r="1.5" fill="#fff" stroke="#707070" stroke-width="0.5"/>
<circle cx="159.2" cy="162.8" r="1.5" fill="#fff" stroke="#707070" stroke-width="0.5"/>
<circle cx="158.3" cy="145.7" r="1.5" fill="#fff" stroke="#707070" stroke-width="0.5"/>
<circle cx="168.8" cy="157.2" r="1.5" fill="#fff" stroke="#707070" stroke-width="0.5"/>
<circle cx="178.1" cy="148.3" r="1.5" fill="#fff" stroke="#707070" stroke-width="0.5"/>
<circle cx="139.9" cy="159.9" r="1.5" fill="#fff" stroke="#707070" stroke-width="0.5"/>
<circle cx="156.7" cy="147.1" r="1.5" fill="#fff" stroke="#707070" stroke-width="0.5"/>
<circle cx="141.7" cy="141.6" r="1.5" fill="#fff" stroke="#707070" stroke-width="0.5"/>
<circle cx="149.3" cy="160.2" r="1.5" fill="#fff" stroke="#707070" stroke-width="0.5"/>
<circle cx="158.0" cy="148.5" r="1.5" fill="#fff" stroke="#707070" stroke-width="0.5"/>
<circle cx="151.2" cy="153.7" r="1.5" fill="#fff" stroke="#707070" stroke-width="0.5"/>
<circle cx="162.5" cy="161.8" r="1.5" fill="#fff" stroke="#707070" stroke-width="0.5"/>
<circle cx="144.9" cy="163.9" r="1.5" fill="#fff" stroke="#707070" stroke-width="0.5"/>
<circle cx="141.2" cy="166.1" r="1.5" fill="#fff" stroke="#707070" stroke-width="0.5"/>
<circle cx="150.0" cy="132.1" r="1.5" fill="#fff" stroke="#707070" stroke-width="0.5"/>
<circle cx="130.5" cy="146.2" r="1.5" fill="#fff" stroke="#707070" stroke-width="0.5"/>
<circle cx="162.1" cy="110.7" r="1.5" fill="#fff" stroke="#707070" stroke-width="0.5"/>
<circle cx="163.4" cy="138.3" r="1.5" fill="#fff" stroke="#707070" stroke-width="0.5"/>
<circle cx="164.3" cy="126.2" r="1.5" fill="#fff" stroke="#707070" stroke-width="0.5"/>
<circle cx="155.8" cy="114.5" r="1.5" fill="#fff" stroke="#707070" stroke-width="0.5"/>
<circle cx="142.3" cy="162.3" r="1.5" fill="#fff" stroke="#707070" stroke-width="0.5"/>
<circle cx="169.6" cy="149.3" r="1.5" fill="#fff" stroke="#707070" stroke-width="0.5"/>
<circle cx="129.5" cy="141.4" r="1.5" fill="#fff" stroke="#707070" stroke-width="0.5"/>
<circle cx="171.6" cy="156.1" r="1.5" fill="#fff" stroke="#707070" stroke-width="0.5"/>
<circle cx="179.6" cy="158.2" r="1.5" fill="#fff" stroke="#707070" stroke-width="0.5"/>
<circle cx="156.5" cy="129.1" r="1.5" fill="#fff" stroke="#707070" stroke-width="0.5"/>
<circle cx="142.7" cy="152.5" r="1.5" fill="#fff" stroke="#707070" stroke-width="0.5"/>
<circle cx="135.0" cy="124.6" r="1.5" fill="#fff" stroke="#707070" stroke-width="0.5"/>
<circle cx="184.5" cy="145.5" r="1.5" fill="#fff" stroke="#707070" stroke-width="0.5"/>
<circle cx="132.1" cy="169.2" r="1.5" fill="#fff" stroke="#707070" stroke-width="0.5"/>
<circle cx="143.3" cy="159.9" r="1.5" fill="#fff" stroke="#707070" stroke-width="0.5"/>
<circle cx="138.8" cy="132.7" r="1.5" fill="#fff" stroke="#707070" stroke-width="0.5"/>
<circle cx="179.0" cy="150.8" r="1.5" fill="#fff" stroke="#707070" stroke-width="0.5"/>
<circle cx="131.6" cy="158.1" r="1.5" fill="#fff" stroke="#707070" stroke-width="0.5"/>
<circle cx="173.6" cy="120.9" r="1.5" fill="#fff" stroke="#707070" stroke-width="0.5"/>
<circle cx="144.9" cy="150.1" r="1.5" fill="#fff" stroke="#707070" stroke-width="0.5"/>
<circle cx="177.0" cy="157.7" r="1.5" fill="#fff" stroke="#707070" stroke-width="0.5"/>
<circle cx="144.9" cy="168.5" r="1.5" fill="#fff" stroke="#707070" stroke-width="0.5"/>
<circle cx="141.0" cy="163.6" r="1.5" fill="#fff" stroke="#707070" stroke-width="0.5"/>
<circle cx="138.1" cy="159.4" r="1.5" fill="#fff" stroke="#707070" stroke-width="0.5"/>
<circle cx="137.0" cy="167.6" r="1.5" fill="#fff" stroke="#707070" stroke-width="0.5"/>
<circle cx="182.6" cy="153.6" r="1.5" fill="#fff" stroke="#707070" stroke-width="0.5"/>
<circle cx="171.0" cy="141.2" r="1.5" fill="#fff" stroke="#707070" stroke-width="0.5"/>
<circle cx="154.9" cy="153.4" r="1.5" fill="#fff" stroke="#707070" stroke-width="0.5"/>
<circle cx="145.7" cy="154.5" r="1.5" fill="#fff" stroke="#707070" stroke-width="0.5"/>
<circle cx="176.0" cy="157.6" r="1.5" fill="#fff" stroke="#707070" stroke-width="0.5"/>
<circle cx="181.1" cy="149.4" r="1.5" fill="#fff" stroke="#707070" stroke-width="0.5"/>
<circle cx="165.1" cy="162.7" r="1.5" fill="#fff" stroke="#707070" stroke-width="0.5"/>
<circle cx="148.0" cy="167.5" r="1.5" fill="#fff" stroke="#707070" stroke-width="0.5"/>
<circle cx="149.0" cy="131.3" r="1.5" fill="#fff" stroke="#707070" stroke-width="0.5"/>
<circle cx="139.3" cy="165.0" r="1.5" fill="#fff" stroke="#707070" stroke-width="0.5"/>
<circle cx="144.4" cy="117.4" r="1.5" fill="#fff" stroke="#707070" stroke-width="0.5"/>
<circle cx="167.8" cy="153.9" r="1.5" fill="#fff" stroke="#707070" stroke-width="0.5"/>
<circle cx="156.6" cy="157.8" r="1.5" fill="#fff" stroke="#707070" stroke-width="0.5"/>
<circle cx="133.5" cy="124.2" r="1.5" fill="#fff" stroke="#707070" stroke-width="0.5"/>
<circle cx="173.0" cy="119.7" r="1.5" fill="#fff" stroke="#707070" stroke-width="0.5"/>
<circle cx="172.3" cy="158.9" r="1.5" fill="#fff" stroke="#707070" stroke-width="0.5"/>
<circle cx="140.1" cy="116.0" r="1.5" fill="#fff" stroke="#707070" stroke-width="0.5"/>
<circle cx="128.5" cy="160.0" r="1.5" fill="#fff" stroke="#707070" stroke-width="0.5"/>
<circle cx="133.9" cy="119.7" r="1.5" fill="#fff" stroke="#707070" stroke-width="0.5"/>
<circle cx="140.5" cy="156.7" r="1.5" fill="#fff" stroke="#707070" stroke-width="0.5"/>
<circle cx="164.1" cy="130.3" r="1.5" fill="#fff" stroke="#707070" stroke-width="0.5"/>
<circle cx="174.5" cy="151.8" r="1.5" fill="#fff" stroke="#707070" stroke-width="0.5"/>
<circle cx="138.2" cy="128.8" r="1.5" fill="#fff" stroke="#707070" stroke-width="0.5"/>
<circle cx="138.5" cy="152.6" r="1.5" fill="#fff" stroke="#707070" stroke-width="0.5"/>
<circle cx="144.3" cy="125.4" r="1.5" fill="#fff" stroke="#707070" stroke-width="0.5"/>
<circle cx="151.8" cy="164.3" r="1.5" fill="#fff" stroke="#707070" stroke-width="0.5"/>
<circle cx="160.0" cy="107.3" r="1.5" fill="#fff" stroke="#707070" stroke-width="0.5"/>
<circle cx="135.2" cy="155.6" r="1.5" fill="#fff" stroke="#707070" stroke-width="0.5"/>
<circle cx="169.0" cy="136.3" r="1.5" fill="#fff" stroke="#707070" stroke-width="0.5"/>
<circle cx="170.8" cy="127.1" r="1.5" fill="#fff" stroke="#707070" stroke-width="0.5"/>
<circle cx="162.5" cy="145.7" r="1.5" fill="#fff" stroke="#707070" stroke-width="0.5"/>
<circle cx="142.6" cy="164.8" r="1.5" fill="#fff" stroke="#707070" stroke-width="0.5"/>
<circle cx="131.1" cy="142.3" r="1.5" fill="#fff" stroke="#707070" stroke-width="0.5"/>
<circle cx="175.0" cy="150.5" r="1.5" fill="#fff" stroke="#707070" stroke-width="0.5"/>
<circle cx="128.1" cy="151.8" r="1.5" fill="#fff" stroke="#707070" stroke-width="0.5"/>
<circle cx="179.6" cy="133.7" r="1.5" fill="#fff" stroke="#707070" stroke-width="0.5"/>
<circle cx="197.5" cy="142.8" r="1.5" fill="#fff" stroke="#707070" stroke-width="0.5"/>
<circle cx="142.3" cy="166.5" r="1.5" fill="#fff" stroke="#707070" stroke-width="0.5"/>
<circle cx="144.2" cy="111.0" r="1.5" fill="#fff" stroke="#707070" stroke-width="0.5"/>
<circle cx="137.9" cy="157.7" r="1.5" fill="#fff" stroke="#707070" stroke-width="0.5"/>
<circle cx="168.4" cy="158.7" r="1.5" fill="#fff" stroke="#707070" stroke-width="0.5"/>
<circle cx="131.6" cy="169.8" r="1.5" fill="#fff" stroke="#707070" stroke-width="0.5"/>
<circle cx="191.6" cy="151.2" r="1.5" fill="#fff" stroke="#707070" stroke-width="0.5"/>
<circle cx="158.0" cy="162.8" r="1.5" fill="#fff" stroke="#707070" stroke-width="0.5"/>
<circle cx="149.6" cy="155.1" r="1.5" fill="#fff" stroke="#707070" stroke-width="0.5"/>
<circle cx="148.4" cy="144.8" r="1.5" fill="#fff" stroke="#707070" stroke-width="0.5"/>
<circle cx="156.1" cy="165.3" r="1.5" fill="#fff" stroke="#707070" stroke-width="0.5"/>
<circle cx="143.0" cy="118.4" r="1.5" fill="#fff" stroke="#707070" stroke-width="0.5"/>
<circle cx="179.8" cy="121.7" r="1.5" fill="#fff" stroke="#707070" stroke-width="0.5"/>
<circle cx="152.3" cy="110.2" r="1.5" fill="#fff" stroke="#707070" stroke-width="0.5"/>
<circle cx="156.2" cy="149.3" r="1.5" fill="#fff" stroke="#707070" stroke-width="0.5"/>
<circle cx="177.8" cy="119.9" r="1.5" fill="#fff" stroke="#707070" stroke-width="0.5"/>
<circle cx="138.2" cy="164.7" r="1.5" fill="#fff" stroke="#707070" stroke-width="0.5"/>
<circle cx="137.4" cy="110.3" r="1.5" fill="#fff" stroke="#707070" stroke-width="0.5"/>
<circle cx="176.3" cy="140.7" r="1.5" fill="#fff" stroke="#707070" stroke-width="0.5"/>
<circle cx="152.6" cy="145.9" r="1.5" fill="#fff" stroke="#707070" stroke-width="0.5"/>
<circle cx="158.8" cy="108.5" r="1.5" fill="#fff" stroke="#707070" stroke-width="0.5"/>
<circle cx="131.6" cy="167.5" r="1.5" fill="#fff" stroke="#707070" stroke-width="0.5"/>
<circle cx="162.2" cy="112.9" r="1.5" fill="#fff" stroke="#707070" stroke-width="0.5"/>
<circle cx="176.4" cy="136.8" r="1.5" fill="#fff" stroke="#707070" stroke-width="0.5"/>
<circle cx="161.3" cy="152.9" r="1.5" fill="#fff" stroke="#707070" stroke-width="0.5"/>
<circle cx="155.7" cy="148.6" r="1.5" fill="#fff" stroke="#707070" stroke-width="0.5"/>
<circle cx="136.3" cy="141.9" r="1.5" fill="#fff" stroke="#707070" stroke-width="0.5"/>
<circle cx="156.2" cy="163.5" r="1.5" fill="#fff" stroke="#707070" stroke-width="0.5"/>
<circle cx="144.7" cy="167.4" r="1.5" fill="#fff" stroke="#707070" stroke-width="0.5"/>
<circle cx="126.8" cy="165.4" r="1.5" fill="#fff" stroke="#707070" stroke-width="0.5"/>
<circle cx="176.4" cy="136.7" r="1.5" fill="#fff" stroke="#707070" stroke-width="0.5"/>
<circle cx="142.6" cy="147.1" r="1.5" fill="#fff" stroke="#707070" stroke-width="0.5"/>
<circle cx="128.8" cy="164.2" r="1.5" fill="#fff" stroke="#707070" stroke-width="0.5"/>
<circle cx="137.5" cy="149.5" r="1.5" fill="#fff" stroke="#707070" stroke-width="0.5"/>
<circle cx="177.9" cy="157.2" r="1.5" fill="#fff" stroke="#707070" stroke-width="0.5"/>
<circle cx="156.0" cy="130.1" r="1.5" fill="#fff" stroke="#707070" stroke-width="0.5"/>
<circle cx="194.7" cy="142.1" r="1.5" fill="#fff" stroke="#707070" stroke-width="0.5"/>
<circle cx="131.9" cy="166.8" r="1.5" fill="#fff" stroke="#707070" stroke-width="0.5"/>
<circle cx="143.8" cy="103.9" r="1.5" fill="#fff" stroke="#707070" stroke-width="0.5"/>
<circle cx="138.0" cy="166.4" r="1.5" fill="#fff" stroke="#707070" stroke-width="0.5"/>
<circle cx="141.4" cy="157.0" r="1.5" fill="#fff" stroke="#707070" stroke-width="0.5"/>
<circle cx="130.3" cy="141.9" r="1.5" fill="#fff" stroke="#707070" stroke-width="0.5"/>
<circle cx="180.9" cy="157.5" r="1.5" fill="#fff" stroke="#707070" stroke-width="0.5"/>
<circle cx="166.5" cy="151.8" r="1.5" fill="#fff" stroke="#707070" stroke-width="0.5"/>
<circle cx="148.2" cy="147.4" r="1.5" fill="#fff" stroke="#707070" stroke-width="0.5"/>
<circle cx="172.8" cy="106.4" r="1.5" fill="#fff" stroke="#707070" stroke-width="0.5"/>
<circle cx="152.4" cy="151.2" r="1.5" fill="#fff" stroke="#707070" stroke-width="0.5"/>
<circle cx="181.3" cy="155.1" r="1.5" fill="#fff" stroke="#707070" stroke-width="0.5"/>
<circle cx="199.5" cy="144.2" r="1.5" fill="#fff" stroke="#707070" stroke-width="0.5"/>
<circle cx="160.1" cy="145.5" r="1.5" fill="#fff" stroke="#707070" stroke-width="0.5"/>
<circle cx="125.6" cy="170.2" r="1.5" fill="#fff" stroke="#707070" stroke-width="0.5"/>
<circle cx="186.1" cy="131.3" r="1.5" fill="#fff" stroke="#707070" stroke-width="0.5"/>
<circle cx="157.6" cy="124.2" r="1.5" fill="#fff" stroke="#707070" stroke-width="0.5"/>
<circle cx="181.6" cy="152.5" r="1.5" fill="#fff" stroke="#707070" stroke-width="0.5"/>
<circle cx="138.5" cy="168.5" r="1.5" fill="#fff" stroke="#707070" stroke-width="0.5"/>
<circle cx="134.8" cy="161.1" r="1.5" fill="#fff" stroke="#707070" stroke-width="0.5"/>
<circle cx="136.8" cy="153.2" r="1.5" fill="#fff" stroke="#707070" stroke-width="0.5"/>
<circle cx="193.7" cy="141.1" r="1.5" fill="#fff" stroke="#707070" stroke-width="0.5"/>
<circle cx="151.6" cy="127.0" r="1.5" fill="#fff" stroke="#707070" stroke-width="0.5"/>
<circle cx="141.2" cy="165.0" r="1.5" fill="#fff" stroke="#707070" stroke-width="0.5"/>
<circle cx="143.4" cy="146.9" r="1.5" fill="#fff" stroke="#707070" stroke-width="0.5"/>
<circle cx="151.0" cy="160.3" r="1.5" fill="#fff" stroke="#707070" stroke-width="0.5"/>
<circle cx="178.3" cy="146.7" r="1.5" fill="#fff" stroke="#707070" stroke-width="0.5"/>
<circle cx="150.5" cy="156.0" r="1.5" fill="#fff" stroke="#707070" stroke-width="0.5"/>
<circle cx="150.6" cy="117.8" r="1.5" fill="#fff" stroke="#707070" stroke-width="0.5"/>
<circle cx="141.2" cy="105.1" r="1.5" fill="#fff" stroke="#707070" stroke-width="0.5"/>
<circle cx="156.9" cy="163.0" r="1.5" fill="#fff" stroke="#707070" stroke-width="0.5"/>
<circle cx="132.8" cy="165.4" r="1.5" fill="#fff" stroke="#707070" stroke-width="0.5"/>
<circle cx="164.8" cy="133.5" r="1.5" fill="#fff" stroke="#707070" stroke-width="0.5"/>
<circle cx="181.6" cy="153.5" r="1.5" fill="#fff" stroke="#707070" stroke-width="0.5"/>
<circle cx="143.6" cy="136.9" r="1.5" fill="#fff" stroke="#707070" stroke-width="0.5"/>
<circle cx="145.0" cy="159.9" r="1.5" fill="#fff" stroke="#707070" stroke-width="0.5"/>
<circle cx="126.8" cy="167.5" r="1.5" fill="#fff" stroke="#707070" stroke-width="0.5"/>
<circle cx="188.2" cy="148.5" r="1.5" fill="#fff" stroke="#707070" stroke-width="0.5"/>
<circle cx="150.2" cy="154.8" r="1.5" fill="#fff" stroke="#707070" stroke-width="0.5"/>
<circle cx="148.6" cy="136.1" r="1.5" fill="#fff" stroke="#707070" stroke-width="0.5"/>
<circle cx="134.4" cy="112.1" r="1.5" fill="#fff" stroke="#707070" stroke-width="0.5"/>
<circle cx="151.5" cy="149.4" r="1.5" fill="#fff" stroke="#707070" stroke-width="0.5"/>
<circle cx="135.1" cy="161.8" r="1.5" fill="#fff" stroke="#707070" stroke-width="0.5"/>
<circle cx="167.8" cy="128.8" r="1.5" fill="#fff" stroke="#707070" stroke-width="0.5"/>
<circle cx="132.0" cy="164.2" r="1.5" fill="#fff" stroke="#707070" stroke-width="0.5"/>
<circle cx="152.4" cy="165.3" r="1.5" fill="#fff" stroke="#707070" stroke-width="0.5"/>
<circle cx="135.7" cy="149.3" r="1.5" fill="#fff" stroke="#707070" stroke-width="0.5"/>
<circle cx="134.6" cy="116.3" r="1.5" fill="#fff" stroke="#707070" stroke-width="0.5"/>
<circle cx="144.3" cy="152.4" r="1.5" fill="#fff" stroke="#707070" stroke-width="0.5"/>
<circle cx="129.9" cy="166.1" r="1.5" fill="#fff" stroke="#707070" stroke-width="0.5"/>
<circle cx="180.9" cy="145.1" r="1.5" fill="#fff" stroke="#707070" stroke-width="0.5"/>
<circle cx="158.3" cy="127.9" r="1.5" fill="#fff" stroke="#707070" stroke-width="0.5"/>
<circle cx="136.9" cy="112.9" r="1.5" fill="#fff" stroke="#707070" stroke-width="0.5"/>
<circle cx="151.5" cy="152.7" r="1.5" fill="#fff" stroke="#707070" stroke-width="0.5"/>
<circle cx="166.2" cy="148.7" r="1.5" fill="#fff" stroke="#707070" stroke-width="0.5"/>
<circle cx="158.8" cy="156.6" r="1.5" fill="#fff" stroke="#707070" stroke-width="0.5"/>
<circle cx="159.8" cy="163.0" r="1.5" fill="#fff" stroke="#707070" stroke-width="0.5"/>
<circle cx="154.1" cy="149.4" r="1.5" fill="#fff" stroke="#707070" stroke-width="0.5"/>
<circle cx="169.5" cy="152.1" r="1.5" fill="#fff" stroke="#707070" stroke-width="0.5"/>
<circle cx="199.1" cy="144.0" r="1.5" fill="#fff" stroke="#707070" stroke-width="0.5"/>
<circle cx="144.1" cy="143.7" r="1.5" fill="#fff" stroke="#707070" stroke-width="0.5"/>
<circle cx="134.8" cy="154.4" r="1.5" fill="#fff" stroke="#707070" stroke-width="0.5"/>
<circle cx="158.9" cy="151.9" r="1.5" fill="#fff" stroke="#707070" stroke-width="0.5"/>
<circle cx="182.8" cy="146.4" r="1.5" fill="#fff" stroke="#707070" stroke-width="0.5"/>
<circle cx="163.2" cy="151.6" r="1.5" fill="#fff" stroke="#707070" stroke-width="0.5"/>
<circle cx="169.7" cy="157.8" r="1.5" fill="#fff" stroke="#707070" stroke-width="0.5"/>
<circle cx="160.1" cy="161.7" r="1.5" fill="#fff" stroke="#707070" stroke-width="0.5"/>
<circle cx="200.9" cy="133.8" r="1.5" fill="#fff" stroke="#707070" stroke-width="0.5"/>
<circle cx="133.3" cy="145.5" r="1.5" fill="#fff" stroke="#707070" stroke-width="0.5"/>
<circle cx="143.1" cy="158.3" r="1.5" fill="#fff" stroke="#707070" stroke-width="0.5"/>
<circle cx="161.6" cy="156.2" r="1.5" fill="#fff" stroke="#707070" stroke-width="0.5"/>
<circle cx="178.8" cy="153.2" r="1.5" fill="#fff" stroke="#707070" stroke-width="0.5"/>
<circle cx="160.7" cy="158.8" r="1.5" fill="#fff" stroke="#707070" stroke-width="0.5"/>
<circle cx="168.2" cy="154.5" r="1.5" fill="#fff" stroke="#707070" stroke-width="0.5"/>
<circle cx="135.9" cy="163.4" r="1.5" fill="#fff" stroke="#707070" stroke-width="0.5"/>
<circle cx="154.3" cy="139.1" r="1.5" fill="#fff" stroke="#707070" stroke-width="0.5"/>
<circle cx="132.2" cy="159.8" r="1.5" fill="#fff" stroke="#707070" stroke-width="0.5"/>
<circle cx="156.8" cy="164.5" r="1.5" fill="#fff" stroke="#707070" stroke-width="0.5"/>
<circle cx="130.9" cy="166.6" r="1.5" fill="#fff" stroke="#707070" stroke-width="0.5"/>
<circle cx="131.6" cy="153.4" r="1.5" fill="#fff" stroke="#707070" stroke-width="0.5"/>
<circle cx="143.5" cy="110.1" r="1.5" fill="#fff" stroke="#707070" stroke-width="0.5"/>
<circle cx="142.5" cy="158.9" r="1.5" fill="#fff" stroke="#707070" stroke-width="0.5"/>
<circle cx="150.2" cy="154.7" r="1.5" fill="#fff" stroke="#707070" stroke-width="0.5"/>
<circle cx="172.3" cy="112.9" r="1.5" fill="#fff" stroke="#707070" stroke-width="0.5"/>
<circle cx="129.8" cy="146.4" r="1.5" fill="#fff" stroke="#707070" stroke-width="0.5"/>
<circle cx="149.3" cy="165.1" r="1.5" fill="#fff" stroke="#707070" stroke-width="0.5"/>
<circle cx="157.9" cy="111.9" r="1.5" fill="#fff" stroke="#707070" stroke-width="0.5"/>
<circle cx="132.6" cy="160.6" r="1.5" fill="#fff" stroke="#707070" stroke-width="0.5"/>
<circle cx="135.4" cy="144.7" r="1.5" fill="#fff" stroke="#707070" stroke-width="0.5"/>
<circle cx="164.3" cy="124.0" r="1.5" fill="#fff" stroke="#707070" stroke-width="0.5"/>
<circle cx="136.4" cy="147.9" r="1.5" fill="#fff" stroke="#707070" stroke-width="0.5"/>
<circle cx="140.9" cy="128.5" r="1.5" fill="#fff" stroke="#707070" stroke-width="0.5"/>
<circle cx="158.0" cy="111.1" r="1.5" fill="#fff" stroke="#707070" stroke-width="0.5"/>
<circle cx="163.9" cy="134.9" r="1.5" fill="#fff" stroke="#707070" stroke-width="0.5"/>
<circle cx="146.6" cy="166.8" r="1.5" fill="#fff" stroke="#707070" stroke-width="0.5"/>
<circle cx="152.8" cy="150.9" r="1.5" fill="#fff" stroke="#707070" stroke-width="0.5"/>
<circle cx="153.9" cy="148.0" r="1.5" fill="#fff" stroke="#707070" stroke-width="0.5"/>
<circle cx="148.8" cy="165.0" r="1.5" fill="#fff" stroke="#707070" stroke-width="0.5"/>
<circle cx="164.6" cy="142.0" r="1.5" fill="#fff" stroke="#707070" stroke-width="0.5"/>
<circle cx="157.0" cy="147.5" r="1.5" fill="#fff" stroke="#707070" stroke-width="0.5"/>
<circle cx="180.6" cy="155.8" r="1.5" fill="#fff" stroke="#707070" stroke-width="0.5"/>
<circle cx="143.0" cy="166.2" r="1.5" fill="#fff" stroke="#707070" stroke-width="0.5"/>
<circle cx="162.3" cy="152.3" r="1.5" fill="#fff" stroke="#707070" stroke-width="0.5"/>
<circle cx="152.2" cy="154.0" r="1.5" fill="#fff" stroke="#707070" stroke-width="0.5"/>
<circle cx="179.7" cy="119.5" r="1.5" fill="#fff" stroke="#707070" stroke-width="0.5"/>
<circle cx="149.8" cy="160.9" r="1.5" fill="#fff" stroke="#707070" stroke-width="0.5"/>
<circle cx="174.0" cy="113.5" r="1.5" fill="#fff" stroke="#707070" stroke-width="0.5"/>
<circle cx="178.1" cy="143.7" r="1.5" fill="#fff" stroke="#707070" stroke-width="0.5"/>
<circle cx="139.0" cy="161.2" r="1.5" fill="#fff" stroke="#707070" stroke-width="0.5"/>
<circle cx="132.1" cy="170.5" r="1.5" fill="#fff" stroke="#707070" stroke-width="0.5"/>
<circle cx="170.9" cy="127.0" r="1.5" fill="#fff" stroke="#707070" stroke-width="0.5"/>
<circle cx="144.7" cy="155.5" r="1.5" fill="#fff" stroke="#707070" stroke-width="0.5"/>
<circle cx="130.0" cy="133.0" r="1.5" fill="#fff" stroke="#707070" stroke-width="0.5"/>
<circle cx="153.2" cy="161.6" r="1.5" fill="#fff" stroke="#707070" stroke-width="0.5"/>
<circle cx="173.2" cy="140.3" r="1.5" fill="#fff" stroke="#707070" stroke-width="0.5"/>
<circle cx="129.5" cy="168.3" r="1.5" fill="#fff" stroke="#707070" stroke-width="0.5"/>
<circle cx="131.9" cy="146.9" r="1.5" fill="#fff" stroke="#707070" stroke-width="0.5"/>
<circle cx="152.3" cy="128.7" r="1.5" fill="#fff" stroke="#707070" stroke-width="0.5"/>
<circle cx="100.4" cy="155.8" r="1.5" fill="#fff" stroke="#707070" stroke-width="0.5"/>
<circle cx="110.8" cy="153.4" r="1.5" fill="#fff" stroke="#707070" stroke-width="0.5"/>
<circle cx="98.1" cy="145.0" r="1.5" fill="#fff" stroke="#707070" stroke-width="0.5"/>
<circle cx="104.6" cy="148.9" r="1.5" fill="#fff" stroke="#707070" stroke-width="0.5"/>
<circle cx="117.7" cy="151.0" r="1.5" fill="#fff" stroke="#707070" stroke-width="0.5"/>
<circle cx="122.0" cy="169.9" r="1.5" fill="#fff" stroke="#707070" stroke-width="0.5"/>
<circle cx="90.7" cy="121.9" r="1.5" fill="#fff" stroke="#707070" stroke-width="0.5"/>
<circle cx="102.9" cy="159.5" r="1.5" fill="#fff" stroke="#707070" stroke-width="0.5"/>
<circle cx="103.9" cy="158.9" r="1.5" fill="#fff" stroke="#707070" stroke-width="0.5"/>
<circle cx="105.6" cy="121.3" r="1.5" fill="#fff" stroke="#707070" stroke-width="0.5"/>
<circle cx="119.4" cy="135.4" r="1.5" fill="#fff" stroke="#707070" stroke-width="0.5"/>
<circle cx="93.0" cy="146.6" r="1.5" fill="#fff" stroke="#707070" stroke-width="0.5"/>
<circle cx="105.4" cy="161.9" r="1.5" fill="#fff" stroke="#707070" stroke-width="0.5"/>
<circle cx="107.9" cy="144.2" r="1.5" fill="#fff" stroke="#707070" stroke-width="0.5"/>
<circle cx="100.3" cy="140.8" r="1.5" fill="#fff" stroke="#707070" stroke-width="0.5"/>
<circle cx="110.8" cy="153.3" r="1.5" fill="#fff" stroke="#707070" stroke-width="0.5"/>
<circle cx="107.2" cy="155.8" r="1.5" fill="#fff" stroke="#707070" stroke-width="0.5"/>
<circle cx="118.3" cy="163.9" r="1.5" fill="#fff" stroke="#707070" stroke-width="0.5"/>
<circle cx="95.6" cy="117.5" r="1.5" fill="#fff" stroke="#707070" stroke-width="0.5"/>
<circle cx="113.8" cy="119.2" r="1.5" fill="#fff" stroke="#707070" stroke-width="0.5"/>
<circle cx="101.1" cy="130.9" r="1.5" fill="#fff" stroke="#707070" stroke-width="0.5"/>
<circle cx="119.9" cy="170.2" r="1.5" fill="#fff" stroke="#707070" stroke-width="0.5"/>
<circle cx="104.1" cy="120.2" r="1.5" fill="#fff" stroke="#707070" stroke-width="0.5"/>
<circle cx="113.4" cy="155.5" r="1.5" fill="#fff" stroke="#707070" stroke-width="0.5"/>
<circle cx="105.3" cy="137.0" r="1.5" fill="#fff" stroke="#707070" stroke-width="0.5"/>
<circle cx="110.9" cy="161.6" r="1.5" fill="#fff" stroke="#707070" stroke-width="0.5"/>
<circle cx="115.1" cy="128.9" r="1.5" fill="#fff" stroke="#707070" stroke-width="0.5"/>
<circle cx="97.6" cy="154.7" r="1.5" fill="#fff" stroke="#707070" stroke-width="0.5"/>
<circle cx="94.6" cy="117.3" r="1.5" fill="#fff" stroke="#707070" stroke-width="0.5"/>
<circle cx="93.5" cy="143.0" r="1.5" fill="#fff" stroke="#707070" stroke-width="0.5"/>
<circle cx="108.6" cy="155.0" r="1.5" fill="#fff" stroke="#707070" stroke-width="0.5"/>
<circle cx="96.6" cy="150.4" r="1.5" fill="#fff" stroke="#707070" stroke-width="0.5"/>
<circle cx="116.8" cy="141.7" r="1.5" fill="#fff" stroke="#707070" stroke-width="0.5"/>
<circle cx="105.4" cy="155.0" r="1.5" fill="#fff" stroke="#707070" stroke-width="0.5"/>
<circle cx="117.4" cy="148.6" r="1.5" fill="#fff" stroke="#707070" stroke-width="0.5"/>
<circle cx="117.2" cy="145.4" r="1.5" fill="#fff" stroke="#707070" stroke-width="0.5"/>
<circle cx="119.2" cy="122.9" r="1.5" fill="#fff" stroke="#707070" stroke-width="0.5"/>
<circle cx="111.0" cy="153.1" r="1.5" fill="#fff" stroke="#707070" stroke-width="0.5"/>
<circle cx="118.1" cy="164.4" r="1.5" fill="#fff" stroke="#707070" stroke-width="0.5"/>
<circle cx="94.2" cy="132.4" r="1.5" fill="#fff" stroke="#707070" stroke-width="0.5"/>
<circle cx="119.2" cy="134.6" r="1.5" fill="#fff" stroke="#707070" stroke-width="0.5"/>
<circle cx="95.7" cy="113.9" r="1.5" fill="#fff" stroke="#707070" stroke-width="0.5"/>
<circle cx="121.7" cy="134.4" r="1.5" fill="#fff" stroke="#707070" stroke-width="0.5"/>
<circle cx="115.2" cy="131.2" r="1.5" fill="#fff" stroke="#707070" stroke-width="0.5"/>
<circle cx="109.9" cy="160.2" r="1.5" fill="#fff" stroke="#707070" stroke-width="0.5"/>
<circle cx="112.3" cy="165.2" r="1.5" fill="#fff" stroke="#707070" stroke-width="0.5"/>
<circle cx="116.5" cy="149.8" r="1.5" fill="#fff" stroke="#707070" stroke-width="0.5"/>
<circle cx="116.0" cy="147.1" r="1.5" fill="#fff" stroke="#707070" stroke-width="0.5"/>
<circle cx="93.8" cy="132.3" r="1.5" fill="#fff" stroke="#707070" stroke-width="0.5"/>
<circle cx="96.1" cy="149.1" r="1.5" fill="#fff" stroke="#707070" stroke-width="0.5"/>
<circle cx="116.8" cy="147.8" r="1.5" fill="#fff" stroke="#707070" stroke-width="0.5"/>
<circle cx="119.8" cy="151.7" r="1.5" fill="#fff" stroke="#707070" stroke-width="0.5"/>
<circle cx="111.0" cy="159.7" r="1.5" fill="#fff" stroke="#707070" stroke-width="0.5"/>
<circle cx="116.0" cy="168.7" r="1.5" fill="#fff" stroke="#707070" stroke-width="0.5"/>
<circle cx="115.8" cy="167.7" r="1.5" fill="#fff" stroke="#707070" stroke-width="0.5"/>
<circle cx="92.0" cy="120.4" r="1.5" fill="#fff" stroke="#707070" stroke-width="0.5"/>
<circle cx="113.0" cy="146.7" r="1.5" fill="#fff" stroke="#707070" stroke-width="0.5"/>
<circle cx="116.9" cy="142.4" r="1.5" fill="#fff" stroke="#707070" stroke-width="0.5"/>
<circle cx="117.6" cy="160.9" r="1.5" fill="#fff" stroke="#707070" stroke-width="0.5"/>
<circle cx="122.2" cy="160.3" r="1.5" fill="#fff" stroke="#707070" stroke-width="0.5"/>
<circle cx="112.3" cy="162.6" r="1.5" fill="#fff" stroke="#707070" stroke-width="0.5"/>
<circle cx="115.5" cy="130.6" r="1.5" fill="#fff" stroke="#707070" stroke-width="0.5"/>
<circle cx="104.0" cy="160.6" r="1.5" fill="#fff" stroke="#707070" stroke-width="0.5"/>
<circle cx="119.9" cy="122.1" r="1.5" fill="#fff" stroke="#707070" stroke-width="0.5"/>
<circle cx="101.8" cy="139.0" r="1.5" fill="#fff" stroke="#707070" stroke-width="0.5"/>
<circle cx="113.5" cy="158.8" r="1.5" fill="#fff" stroke="#707070" stroke-width="0.5"/>
<circle cx="120.3" cy="134.7" r="1.5" fill="#fff" stroke="#707070" stroke-width="0.5"/>
<circle cx="110.7" cy="164.0" r="1.5" fill="#fff" stroke="#707070" stroke-width="0.5"/>
<circle cx="118.6" cy="160.8" r="1.5" fill="#fff" stroke="#707070" stroke-width="0.5"/>
<circle cx="116.8" cy="155.6" r="1.5" fill="#fff" stroke="#707070" stroke-width="0.5"/>
<circle cx="120.3" cy="168.3" r="1.5" fill="#fff" stroke="#707070" stroke-width="0.5"/>
<circle cx="100.1" cy="118.8" r="1.5" fill="#fff" stroke="#707070" stroke-width="0.5"/>
<circle cx="99.5" cy="137.2" r="1.5" fill="#fff" stroke="#707070" stroke-width="0.5"/>
<circle cx="107.7" cy="124.7" r="1.5" fill="#fff" stroke="#707070" stroke-width="0.5"/>
<circle cx="116.1" cy="165.0" r="1.5" fill="#fff" stroke="#707070" stroke-width="0.5"/>
<circle cx="117.6" cy="130.3" r="1.5" fill="#fff" stroke="#707070" stroke-width="0.5"/>
<circle cx="107.3" cy="151.1" r="1.5" fill="#fff" stroke="#707070" stroke-width="0.5"/>
<circle cx="95.0" cy="123.5" r="1.5" fill="#fff" stroke="#707070" stroke-width="0.5"/>
<circle cx="100.9" cy="157.9" r="1.5" fill="#fff" stroke="#707070" stroke-width="0.5"/>
<circle cx="94.4" cy="140.3" r="1.5" fill="#fff" stroke="#707070" stroke-width="0.5"/>
<circle cx="109.0" cy="155.5" r="1.5" fill="#fff" stroke="#707070" stroke-width="0.5"/>
<circle cx="98.0" cy="132.7" r="1.5" fill="#fff" stroke="#707070" stroke-width="0.5"/>
<circle cx="91.7" cy="118.2" r="1.5" fill="#fff" stroke="#707070" stroke-width="0.5"/>
<circle cx="112.8" cy="145.6" r="1.5" fill="#fff" stroke="#707070" stroke-width="0.5"/>
<circle cx="122.6" cy="168.9" r="1.5" fill="#fff" stroke="#707070" stroke-width="0.5"/>
<circle cx="96.5" cy="125.0" r="1.5" fill="#fff" stroke="#707070" stroke-width="0.5"/>
<circle cx="100.1" cy="119.6" r="1.5" fill="#fff" stroke="#707070" stroke-width="0.5"/>
<circle cx="119.1" cy="120.0" r="1.5" fill="#fff" stroke="#707070" stroke-width="0.5"/>
<circle cx="101.8" cy="156.8" r="1.5" fill="#fff" stroke="#707070" stroke-width="0.5"/>
<circle cx="104.2" cy="160.4" r="1.5" fill="#fff" stroke="#707070" stroke-width="0.5"/>
<circle cx="122.4" cy="168.9" r="1.5" fill="#fff" stroke="#707070" stroke-width="0.5"/>
<circle cx="96.4" cy="114.9" r="1.5" fill="#fff" stroke="#707070" stroke-width="0.5"/>
<circle cx="111.6" cy="146.9" r="1.5" fill="#fff" stroke="#707070" stroke-width="0.5"/>
<circle cx="118.4" cy="155.7" r="1.5" fill="#fff" stroke="#707070" stroke-width="0.5"/>
<circle cx="90.6" cy="124.9" r="1.5" fill="#fff" stroke="#707070" stroke-width="0.5"/>
<circle cx="100.1" cy="126.6" r="1.5" fill="#fff" stroke="#707070" stroke-width="0.5"/>
<circle cx="119.6" cy="167.9" r="1.5" fill="#fff" stroke="#707070" stroke-width="0.5"/>
<circle cx="103.9" cy="131.6" r="1.5" fill="#fff" stroke="#707070" stroke-width="0.5"/>
<circle cx="120.4" cy="161.9" r="1.5" fill="#fff" stroke="#707070" stroke-width="0.5"/>
<circle cx="119.2" cy="163.1" r="1.5" fill="#fff" stroke="#707070" stroke-width="0.5"/>
<circle cx="113.5" cy="139.6" r="1.5" fill="#fff" stroke="#707070" stroke-width="0.5"/>
<circle cx="121.9" cy="148.9" r="1.5" fill="#fff" stroke="#707070" stroke-width="0.5"/>
<circle cx="121.8" cy="155.6" r="1.5" fill="#fff" stroke="#707070" stroke-width="0.5"/>
<circle cx="121.0" cy="122.3" r="1.5" fill="#fff" stroke="#707070" stroke-width="0.5"/>
<circle cx="101.2" cy="157.3" r="1.5" fill="#fff" stroke="#707070" stroke-width="0.5"/>
<circle cx="106.2" cy="152.7" r="1.5" fill="#fff" stroke="#707070" stroke-width="0.5"/>
<circle cx="102.7" cy="116.6" r="1.5" fill="#fff" stroke="#707070" stroke-width="0.5"/>
<circle cx="120.1" cy="151.1" r="1.5" fill="#fff" stroke="#707070" stroke-width="0.5"/>
<circle cx="87.7" cy="122.2" r="1.5" fill="#fff" stroke="#707070" stroke-width="0.5"/>
<circle cx="106.3" cy="161.0" r="1.5" fill="#fff" stroke="#707070" stroke-width="0.5"/>
<circle cx="115.0" cy="132.6" r="1.5" fill="#fff" stroke="#707070" stroke-width="0.5"/>
<circle cx="97.4" cy="118.4" r="1.5" fill="#fff" stroke="#707070" stroke-width="0.5"/>
<circle cx="110.8" cy="152.7" r="1.5" fill="#fff" stroke="#707070" stroke-width="0.5"/>
<circle cx="90.3" cy="122.8" r="1.5" fill="#fff" stroke="#707070" stroke-width="0.5"/>
<circle cx="114.0" cy="165.2" r="1.5" fill="#fff" stroke="#707070" stroke-width="0.5"/>
<circle cx="116.1" cy="120.1" r="1.5" fill="#fff" stroke="#707070" stroke-width="0.5"/>
<circle cx="118.8" cy="153.2" r="1.5" fill="#fff" stroke="#707070" stroke-width="0.5"/>
<circle cx="112.4" cy="159.3" r="1.5" fill="#fff" stroke="#707070" stroke-width="0.5"/>
<circle cx="98.3" cy="120.4" r="1.5" fill="#fff" stroke="#707070" stroke-width="0.5"/>
<circle cx="119.3" cy="166.8" r="1.5" fill="#fff" stroke="#707070" stroke-width="0.5"/>
<circle cx="90.5" cy="127.6" r="1.5" fill="#fff" stroke="#707070" stroke-width="0.5"/>
<circle cx="103.7" cy="160.4" r="1.5" fill="#fff" stroke="#707070" stroke-width="0.5"/>
<circle cx="116.8" cy="130.5" r="1.5" fill="#fff" stroke="#707070" stroke-width="0.5"/>
<circle cx="101.8" cy="145.4" r="1.5" fill="#fff" stroke="#707070" stroke-width="0.5"/>
<circle cx="120.7" cy="156.6" r="1.5" fill="#fff" stroke="#707070" stroke-width="0.5"/>
<circle cx="116.1" cy="152.6" r="1.5" fill="#fff" stroke="#707070" stroke-width="0.5"/>
<circle cx="113.5" cy="161.1" r="1.5" fill="#fff" stroke="#707070" stroke-width="0.5"/>
<circle cx="87.7" cy="119.8" r="1.5" fill="#fff" stroke="#707070" stroke-width="0.5"/>
<circle cx="114.0" cy="161.2" r="1.5" fill="#fff" stroke="#707070" stroke-width="0.5"/>
<circle cx="94.5" cy="125.6" r="1.5" fill="#fff" stroke="#707070" stroke-width="0.5"/>
<circle cx="103.9" cy="129.4" r="1.5" fill="#fff" stroke="#707070" stroke-width="0.5"/>
<circle cx="103.9" cy="148.9" r="1.5" fill="#fff" stroke="#707070" stroke-width="0.5"/>
<circle cx="117.4" cy="141.3" r="1.5" fill="#fff" stroke="#707070" stroke-width="0.5"/>
<circle cx="99.4" cy="147.8" r="1.5" fill="#fff" stroke="#707070" stroke-width="0.5"/>
<circle cx="122.5" cy="164.2" r="1.5" fill="#fff" stroke="#707070" stroke-width="0.5"/>
<circle cx="99.4" cy="121.0" r="1.5" fill="#fff" stroke="#707070" stroke-width="0.5"/>
<circle cx="108.8" cy="137.8" r="1.5" fill="#fff" stroke="#707070" stroke-width="0.5"/>
<circle cx="119.2" cy="164.5" r="1.5" fill="#fff" stroke="#707070" stroke-width="0.5"/>
<circle cx="109.1" cy="134.0" r="1.5" fill="#fff" stroke="#707070" stroke-width="0.5"/>
<circle cx="98.2" cy="140.5" r="1.5" fill="#fff" stroke="#707070" stroke-width="0.5"/>
<circle cx="101.5" cy="153.8" r="1.5" fill="#fff" stroke="#707070" stroke-width="0.5"/>
<circle cx="116.7" cy="123.4" r="1.5" fill="#fff" stroke="#707070" stroke-width="0.5"/>
<circle cx="111.8" cy="134.4" r="1.5" fill="#fff" stroke="#707070" stroke-width="0.5"/>
<circle cx="109.6" cy="157.2" r="1.5" fill="#fff" stroke="#707070" stroke-width="0.5"/>
<circle cx="121.4" cy="166.7" r="1.5" fill="#fff" stroke="#707070" stroke-width="0.5"/>
<circle cx="113.0" cy="120.9" r="1.5" fill="#fff" stroke="#707070" stroke-width="0.5"/>
<circle cx="99.1" cy="133.1" r="1.5" fill="#fff" stroke="#707070" stroke-width="0.5"/>
<circle cx="90.7" cy="113.3" r="1.5" fill="#fff" stroke="#707070" stroke-width="0.5"/>
<circle cx="118.4" cy="161.4" r="1.5" fill="#fff" stroke="#707070" stroke-width="0.5"/>
<circle cx="107.8" cy="117.0" r="1.5" fill="#fff" stroke="#707070" stroke-width="0.5"/>
<circle cx="136.0" cy="87.0" r="1.5" fill="#fff" stroke="#707070" stroke-width="0.5"/>
<circle cx="139.0" cy="92.0" r="1.5" fill="#fff" stroke="#707070" stroke-width="0.5"/>
<circle cx="143.5" cy="61.2" r="1.5" fill="#fff" stroke="#707070" stroke-width="0.5"/>
<circle cx="146.0" cy="67.0" r="1.5" fill="#fff" stroke="#707070" stroke-width="0.5"/>
<circle cx="140.0" cy="74.0" r="1.5" fill="#fff" stroke="#707070" stroke-width="0.5"/>
<circle cx="176.0" cy="75.0" r="1.5" fill="#fff" stroke="#707070" stroke-width="0.5"/>
<circle cx="176.5" cy="80.8" r="1.5" fill="#fff" stroke="#707070" stroke-width="0.5"/>
<circle cx="203.8" cy="77.8" r="1.5" fill="#fff" stroke="#707070" stroke-width="0.5"/>
<circle cx="188.8" cy="86.3" r="1.5" fill="#fff" stroke="#707070" stroke-width="0.5"/>
<circle cx="207.0" cy="97.8" r="1.5" fill="#fff" stroke="#707070" stroke-width="0.5"/>
<circle cx="138.8" cy="19.0" r="1.5" fill="#fff" stroke="#707070" stroke-width="0.5"/>
<circle cx="142.0" cy="19.0" r="1.5" fill="#fff" stroke="#707070" stroke-width="0.5"/>
<circle cx="145.0" cy="19.0" r="1.5" fill="#fff" stroke="#707070" stroke-width="0.5"/>
<circle cx="147.5" cy="19.0" r="1.5" fill="#fff" stroke="#707070" stroke-width="0.5"/>
<circle cx="150.0" cy="95.0" r="1.5" fill="#fff" stroke="#707070" stroke-width="0.5"/>
<circle cx="160.0" cy="93.0" r="1.5" fill="#fff" stroke="#707070" stroke-width="0.5"/>
<circle cx="172.0" cy="97.0" r="1.5" fill="#fff" stroke="#707070" stroke-width="0.5"/>
<circle cx="190.0" cy="93.0" r="1.5" fill="#fff" stroke="#707070" stroke-width="0.5"/>
<circle cx="187.0" cy="104.0" r="1.5" fill="#fff" stroke="#707070" stroke-width="0.5"/>
<circle cx="196.0" cy="118.0" r="1.5" fill="#fff" stroke="#707070" stroke-width="0.5"/>
<circle cx="199.0" cy="126.0" r="1.5" fill="#fff" stroke="#707070" stroke-width="0.5"/>
<circle cx="203.0" cy="139.0" r="1.5" fill="#fff" stroke="#707070" stroke-width="0.5"/>
<circle cx="201.0" cy="145.0" r="1.5" fill="#fff" stroke="#707070" stroke-width="0.5"/>
<circle cx="198.0" cy="131.0" r="1.5" fill="#fff" stroke="#707070" stroke-width="0.5"/>
<circle cx="88.0" cy="141.0" r="1.5" fill="#fff" stroke="#707070" stroke-width="0.5"/>
<circle cx="90.0" cy="127.0" r="1.5" fill="#fff" stroke="#707070" stroke-width="0.5"/>
<circle cx="81.0" cy="142.0" r="1.5" fill="#fff" stroke="#707070" stroke-width="0.5"/>
<circle cx="97.0" cy="92.3" r="1.5" fill="#fff" stroke="#707070" stroke-width="0.5"/>
<circle cx="133.0" cy="97.0" r="1.5" fill="#fff" stroke="#707070" stroke-width="0.5"/>
<circle cx="146.0" cy="98.0" r="1.5" fill="#fff" stroke="#707070" stroke-width="0.5"/>
<circle cx="155.0" cy="96.0" r="1.5" fill="#fff" stroke="#707070" stroke-width="0.5"/>
<circle cx="165.0" cy="99.0" r="1.5" fill="#fff" stroke="#707070" stroke-width="0.5"/>
<circle cx="176.0" cy="101.0" r="1.5" fill="#fff" stroke="#707070" stroke-width="0.5"/>
<circle cx="181.0" cy="110.0" r="1.5" fill="#fff" stroke="#707070" stroke-width="0.5"/>
<circle cx="186.0" cy="113.0" r="1.5" fill="#fff" stroke="#707070" stroke-width="0.5"/>
<circle cx="103.5" cy="119.5" r="1.3" fill="#7fe9ee" stroke="#5ccdd6" stroke-width="0.4"/>
<circle cx="112.0" cy="133.0" r="1.3" fill="#7fe9ee" stroke="#5ccdd6" stroke-width="0.4"/>
<circle cx="110.0" cy="160.0" r="1.3" fill="#7fe9ee" stroke="#5ccdd6" stroke-width="0.4"/>
<circle cx="102.0" cy="164.0" r="1.3" fill="#7fe9ee" stroke="#5ccdd6" stroke-width="0.4"/>
<circle cx="117.0" cy="165.0" r="1.3" fill="#7fe9ee" stroke="#5ccdd6" stroke-width="0.4"/>
<circle cx="120.0" cy="166.5" r="1.3" fill="#7fe9ee" stroke="#5ccdd6" stroke-width="0.4"/>
<circle cx="128.0" cy="166.5" r="1.3" fill="#7fe9ee" stroke="#5ccdd6" stroke-width="0.4"/>
<circle cx="132.0" cy="166.0" r="1.3" fill="#7fe9ee" stroke="#5ccdd6" stroke-width="0.4"/>
<circle cx="138.0" cy="164.5" r="1.3" fill="#7fe9ee" stroke="#5ccdd6" stroke-width="0.4"/>
<circle cx="141.0" cy="162.0" r="1.3" fill="#7fe9ee" stroke="#5ccdd6" stroke-width="0.4"/>
<circle cx="147.0" cy="161.0" r="1.3" fill="#7fe9ee" stroke="#5ccdd6" stroke-width="0.4"/>
<circle cx="152.0" cy="164.0" r="1.3" fill="#7fe9ee" stroke="#5ccdd6" stroke-width="0.4"/>
<circle cx="157.0" cy="163.0" r="1.3" fill="#7fe9ee" stroke="#5ccdd6" stroke-width="0.4"/>
<circle cx="135.0" cy="132.0" r="1.3" fill="#7fe9ee" stroke="#5ccdd6" stroke-width="0.4"/>
<circle cx="139.0" cy="139.0" r="1.3" fill="#7fe9ee" stroke="#5ccdd6" stroke-width="0.4"/>
<circle cx="143.0" cy="148.0" r="1.3" fill="#7fe9ee" stroke="#5ccdd6" stroke-width="0.4"/>
<circle cx="149.0" cy="144.0" r="1.3" fill="#7fe9ee" stroke="#5ccdd6" stroke-width="0.4"/>
<circle cx="153.0" cy="149.0" r="1.3" fill="#7fe9ee" stroke="#5ccdd6" stroke-width="0.4"/>
<circle cx="156.0" cy="152.0" r="1.3" fill="#7fe9ee" stroke="#5ccdd6" stroke-width="0.4"/>
<circle cx="160.0" cy="153.0" r="1.3" fill="#7fe9ee" stroke="#5ccdd6" stroke-width="0.4"/>
<circle cx="166.0" cy="150.0" r="1.3" fill="#7fe9ee" stroke="#5ccdd6" stroke-width="0.4"/>
<circle cx="172.0" cy="157.0" r="1.3" fill="#7fe9ee" stroke="#5ccdd6" stroke-width="0.4"/>
<circle cx="176.0" cy="156.0" r="1.3" fill="#7fe9ee" stroke="#5ccdd6" stroke-width="0.4"/>
<circle cx="169.0" cy="160.0" r="1.3" fill="#7fe9ee" stroke="#5ccdd6" stroke-width="0.4"/>
<circle cx="186.0" cy="123.0" r="1.3" fill="#7fe9ee" stroke="#5ccdd6" stroke-width="0.4"/>
<circle cx="202.0" cy="131.0" r="1.3" fill="#7fe9ee" stroke="#5ccdd6" stroke-width="0.4"/>
<circle cx="205.0" cy="136.0" r="1.3" fill="#7fe9ee" stroke="#5ccdd6" stroke-width="0.4"/>
<circle cx="189.0" cy="147.0" r="1.3" fill="#7fe9ee" stroke="#5ccdd6" stroke-width="0.4"/>
<circle cx="187.0" cy="154.0" r="1.3" fill="#7fe9ee" stroke="#5ccdd6" stroke-width="0.4"/>
<circle cx="162.0" cy="122.0" r="1.3" fill="#7fe9ee" stroke="#5ccdd6" stroke-width="0.4"/>
<circle cx="155.0" cy="121.0" r="1.3" fill="#7fe9ee" stroke="#5ccdd6" stroke-width="0.4"/>
<circle cx="148.0" cy="151.0" r="1.3" fill="#7fe9ee" stroke="#5ccdd6" stroke-width="0.4"/>
<circle cx="104.0" cy="122.0" r="1.35" fill="#2f8a1f" stroke="#226b16" stroke-width="0.3"/>
<circle cx="111.5" cy="160.5" r="1.35" fill="#2f8a1f" stroke="#226b16" stroke-width="0.3"/>
<circle cx="118.0" cy="165.5" r="1.35" fill="#2f8a1f" stroke="#226b16" stroke-width="0.3"/>
<circle cx="120.5" cy="167.5" r="1.35" fill="#2f8a1f" stroke="#226b16" stroke-width="0.3"/>
<circle cx="122.0" cy="168.5" r="1.35" fill="#2f8a1f" stroke="#226b16" stroke-width="0.3"/>
<circle cx="123.5" cy="169.5" r="1.35" fill="#2f8a1f" stroke="#226b16" stroke-width="0.3"/>
<circle cx="125.0" cy="168.0" r="1.35" fill="#2f8a1f" stroke="#226b16" stroke-width="0.3"/>
<circle cx="126.0" cy="167.0" r="1.35" fill="#2f8a1f" stroke="#226b16" stroke-width="0.3"/>
<circle cx="121.0" cy="169.5" r="1.35" fill="#2f8a1f" stroke="#226b16" stroke-width="0.3"/>
<circle cx="124.0" cy="170.0" r="1.35" fill="#2f8a1f" stroke="#226b16" stroke-width="0.3"/>
<circle cx="127.0" cy="166.0" r="1.35" fill="#2f8a1f" stroke="#226b16" stroke-width="0.3"/>
<circle cx="131.0" cy="163.0" r="1.35" fill="#2f8a1f" stroke="#226b16" stroke-width="0.3"/>
<circle cx="136.0" cy="161.0" r="1.35" fill="#2f8a1f" stroke="#226b16" stroke-width="0.3"/>
<circle cx="140.0" cy="163.0" r="1.35" fill="#2f8a1f" stroke="#226b16" stroke-width="0.3"/>
<circle cx="139.0" cy="152.0" r="1.35" fill="#2f8a1f" stroke="#226b16" stroke-width="0.3"/>
<circle cx="143.0" cy="156.0" r="1.35" fill="#2f8a1f" stroke="#226b16" stroke-width="0.3"/>
<circle cx="146.0" cy="155.0" r="1.35" fill="#2f8a1f" stroke="#226b16" stroke-width="0.3"/>
<circle cx="137.0" cy="148.0" r="1.35" fill="#2f8a1f" stroke="#226b16" stroke-width="0.3"/>
<circle cx="141.0" cy="144.0" r="1.35" fill="#2f8a1f" stroke="#226b16" stroke-width="0.3"/>
<circle cx="145.0" cy="143.0" r="1.35" fill="#2f8a1f" stroke="#226b16" stroke-width="0.3"/>
<circle cx="148.0" cy="158.0" r="1.35" fill="#2f8a1f" stroke="#226b16" stroke-width="0.3"/>
<circle cx="152.0" cy="147.0" r="1.35" fill="#2f8a1f" stroke="#226b16" stroke-width="0.3"/>
<circle cx="135.0" cy="130.0" r="1.35" fill="#2f8a1f" stroke="#226b16" stroke-width="0.3"/>
<circle cx="142.0" cy="117.0" r="1.35" fill="#2f8a1f" stroke="#226b16" stroke-width="0.3"/>
<circle cx="144.0" cy="113.0" r="1.35" fill="#2f8a1f" stroke="#226b16" stroke-width="0.3"/>
<circle cx="145.5" cy="108.0" r="1.35" fill="#2f8a1f" stroke="#226b16" stroke-width="0.3"/>
<circle cx="152.0" cy="111.0" r="1.35" fill="#2f8a1f" stroke="#226b16" stroke-width="0.3"/>
<circle cx="150.0" cy="115.0" r="1.35" fill="#2f8a1f" stroke="#226b16" stroke-width="0.3"/>
<circle cx="164.0" cy="106.0" r="1.35" fill="#2f8a1f" stroke="#226b16" stroke-width="0.3"/>
<circle cx="166.0" cy="116.0" r="1.35" fill="#2f8a1f" stroke="#226b16" stroke-width="0.3"/>
<circle cx="167.0" cy="146.0" r="1.35" fill="#2f8a1f" stroke="#226b16" stroke-width="0.3"/>
<circle cx="160.0" cy="113.0" r="1.35" fill="#2f8a1f" stroke="#226b16" stroke-width="0.3"/>
<circle cx="136.0" cy="101.6" r="1.35" fill="#f2ee2e" stroke="#b5b020" stroke-width="0.4"/>
<circle cx="148.7" cy="104.2" r="1.35" fill="#f2ee2e" stroke="#b5b020" stroke-width="0.4"/>
<circle cx="136.6" cy="107.2" r="1.4" fill="#ee1c14" stroke="#b01010" stroke-width="0.3"/>
<circle cx="150.75" cy="19" r="1.5" fill="#2f8a1f"/>
<text transform="translate(120.00,14.30)" font-size="6.3" text-anchor="start" font-weight="normal" fill="#222">PLGRKT,COX7B2</text>
<text transform="translate(154.80,21.40)" font-size="6.3" text-anchor="start" font-weight="normal" fill="#3e9a2a">NDUFAF4</text>
<text transform="translate(129.50,27.80)" font-size="6.3" text-anchor="start" font-weight="normal" fill="#222">MRPL39, AIFM2</text>
<text transform="translate(141.30,62.20)" font-size="6.3" text-anchor="end" font-weight="normal" fill="#222">CPT1B</text>
<text transform="translate(142.80,69.30)" font-size="6.3" text-anchor="end" font-weight="normal" fill="#222">APOOL</text>
<text transform="translate(138.00,76.50)" font-size="6.3" text-anchor="end" font-weight="normal" fill="#222">TOMM40L</text>
<text transform="translate(167.50,72.00)" font-size="6.3" text-anchor="start" font-weight="normal" fill="#222">NIT1</text>
<text transform="translate(173.50,83.20)" font-size="6.3" text-anchor="end" font-weight="normal" fill="#222">MCEE</text>
<text transform="translate(206.80,80.00)" font-size="6.3" text-anchor="start" font-weight="normal" fill="#222">ALDH9A1</text>
<text transform="translate(191.80,88.50)" font-size="6.3" text-anchor="start" font-weight="normal" fill="#222">SLC16A7</text>
<text transform="translate(209.50,100.00)" font-size="6.3" text-anchor="start" font-weight="normal" fill="#222">THEM4</text>
<rect x="47.6" y="16.5" width="64.8" height="33.6" fill="#fff" stroke="#666" stroke-width="0.7"/>
<text transform="translate(54.50,27.30)" font-size="7.2" text-anchor="start" font-weight="normal" fill="#e8201a">MFN2<tspan font-size="4.7" dy="1.5">M459fs/WT</tspan></text>
<text transform="translate(54.50,35.70)" font-size="7.2" text-anchor="start" font-weight="normal" fill="#3fa9e8">Non-Target</text>
<text transform="translate(54.50,44.20)" font-size="7.2" text-anchor="start" font-weight="normal" fill="#36b338">Figure 2 Genes</text>
<text transform="translate(2.50,13.80)" font-size="20.5" text-anchor="start" font-weight="bold" fill="#000">a.</text>
<defs>
<filter id="bl1" x="-50%" y="-50%" width="200%" height="200%"><feGaussianBlur stdDeviation="1.0"/></filter>
<filter id="bl2" x="-50%" y="-50%" width="200%" height="200%"><feGaussianBlur stdDeviation="0.55"/></filter>
<filter id="bl3" x="-50%" y="-50%" width="200%" height="200%"><feGaussianBlur stdDeviation="2.0"/></filter>
<filter id="bl4" x="-50%" y="-50%" width="200%" height="200%"><feGaussianBlur stdDeviation="1.4"/></filter>
<filter id="bl5" x="-50%" y="-50%" width="200%" height="200%"><feGaussianBlur stdDeviation="0.5"/></filter>
</defs>
<clipPath id="clip0"><rect x="10.2" y="207.6" width="68.55" height="68.50"/></clipPath>
<g clip-path="url(#clip0)">
<rect x="10.2" y="207.6" width="68.55" height="68.50" fill="#081c0b"/>
<rect x="10.2" y="207.6" width="68.55" height="68.50" fill="none" stroke="#16441c" stroke-width="2.4" filter="url(#bl2)"/>
<rect x="18.7" y="216.1" width="51.55" height="51.50" rx="9" ry="9" fill="#03080a" stroke="#103616" stroke-width="1.3" filter="url(#bl1)"/>
<rect x="21.2" y="218.6" width="46.55" height="46.50" rx="8" ry="8" fill="#02070a" filter="url(#bl4)"/>
</g>
<clipPath id="clip1"><rect x="82.1" y="207.6" width="68.90" height="68.50"/></clipPath>
<g clip-path="url(#clip1)">
<rect x="82.1" y="207.6" width="68.90" height="68.50" fill="#040c0a"/>
<rect x="82.1" y="207.6" width="68.90" height="68.50" fill="none" stroke="#06130d" stroke-width="2.4" filter="url(#bl2)"/>
<rect x="90.6" y="216.1" width="51.90" height="51.50" rx="9" ry="9" fill="#03080a" stroke="#05100c" stroke-width="1.3" filter="url(#bl1)"/>
<rect x="93.1" y="218.6" width="46.90" height="46.50" rx="8" ry="8" fill="#02070a" filter="url(#bl4)"/>
</g>
<clipPath id="clip2"><rect x="154.8" y="207.6" width="68.80" height="68.50"/></clipPath>
<g clip-path="url(#clip2)">
<rect x="154.8" y="207.6" width="68.80" height="68.50" fill="#06140b"/>
<rect x="154.8" y="207.6" width="68.80" height="68.50" fill="none" stroke="#0f2d15" stroke-width="2.4" filter="url(#bl2)"/>
<rect x="163.3" y="216.1" width="51.80" height="51.50" rx="9" ry="9" fill="#03080a" stroke="#0b2511" stroke-width="1.3" filter="url(#bl1)"/>
<rect x="165.8" y="218.6" width="46.80" height="46.50" rx="8" ry="8" fill="#02070a" filter="url(#bl4)"/>
</g>
<clipPath id="clip3"><rect x="10.2" y="280.1" width="68.55" height="68.50"/></clipPath>
<g clip-path="url(#clip3)">
<rect x="10.2" y="280.1" width="68.55" height="68.50" fill="#081b0b"/>
<rect x="10.2" y="280.1" width="68.55" height="68.50" fill="none" stroke="#15411b" stroke-width="2.4" filter="url(#bl2)"/>
<rect x="18.7" y="288.6" width="51.55" height="51.50" rx="9" ry="9" fill="#03080a" stroke="#0f3415" stroke-width="1.3" filter="url(#bl1)"/>
<rect x="21.2" y="291.1" width="46.55" height="46.50" rx="8" ry="8" fill="#02070a" filter="url(#bl4)"/>
</g>
<clipPath id="clip4"><rect x="82.1" y="280.1" width="68.90" height="68.50"/></clipPath>
<g clip-path="url(#clip4)">
<rect x="82.1" y="280.1" width="68.90" height="68.50" fill="#05100a"/>
<rect x="82.1" y="280.1" width="68.90" height="68.50" fill="none" stroke="#0a1f11" stroke-width="2.4" filter="url(#bl2)"/>
<rect x="90.6" y="288.6" width="51.90" height="51.50" rx="9" ry="9" fill="#03080a" stroke="#08190f" stroke-width="1.3" filter="url(#bl1)"/>
<rect x="93.1" y="291.1" width="46.90" height="46.50" rx="8" ry="8" fill="#02070a" filter="url(#bl4)"/>
</g>
<clipPath id="clip5"><rect x="154.8" y="280.1" width="68.80" height="68.50"/></clipPath>
<g clip-path="url(#clip5)">
<rect x="154.8" y="280.1" width="68.80" height="68.50" fill="#040a0a"/>
<rect x="154.8" y="280.1" width="68.80" height="68.50" fill="none" stroke="#050f0c" stroke-width="2.4" filter="url(#bl2)"/>
<rect x="163.3" y="288.6" width="51.80" height="51.50" rx="9" ry="9" fill="#03080a" stroke="#050e0b" stroke-width="1.3" filter="url(#bl1)"/>
<rect x="165.8" y="291.1" width="46.80" height="46.50" rx="8" ry="8" fill="#02070a" filter="url(#bl4)"/>
</g>
<g clip-path="url(#clip0)">
<ellipse cx="33" cy="256" rx="13" ry="8.5" fill="#186a1c" opacity="0.55" filter="url(#bl3)" transform="rotate(18 33 256)"/>
<ellipse cx="37.5" cy="257.5" rx="8.5" ry="6.8" fill="#2fae31" opacity="0.75" filter="url(#bl1)" transform="rotate(20 37.5 257.5)"/>
<g filter="url(#bl5)">
<path d="M35.4 256.2 L32.5 255.9 L30.0 252.5 L27.4 255.0 L24.9 255.1" fill="none" stroke="#2fae31" stroke-width="0.66" stroke-opacity="0.45" stroke-linecap="round"/>
<path d="M37.5 257.8 L35.9 259.6 L33.0 259.6 L31.3 261.1 L30.0 263.9" fill="none" stroke="#2fae31" stroke-width="0.74" stroke-opacity="0.48" stroke-linecap="round"/>
<path d="M37.2 257.7 L34.9 257.7 L32.7 256.2 L31.8 257.0 L29.4 258.0" fill="none" stroke="#2fae31" stroke-width="0.71" stroke-opacity="0.31" stroke-linecap="round"/>
<path d="M36.0 258.5 L34.1 262.2 L32.4 263.8 L30.3 265.4 L25.2 265.8" fill="none" stroke="#2fae31" stroke-width="0.49" stroke-opacity="0.31" stroke-linecap="round"/>
<path d="M40.6 252.7 L41.6 251.3 L41.7 250.8 L41.7 249.7 L39.2 248.6" fill="none" stroke="#2fae31" stroke-width="0.50" stroke-opacity="0.44" stroke-linecap="round"/>
<path d="M35.8 257.6 L32.0 257.9 L29.5 254.3 L27.6 253.8 L24.9 252.4" fill="none" stroke="#2fae31" stroke-width="0.57" stroke-opacity="0.24" stroke-linecap="round"/>
<path d="M34.1 261.7 L33.8 261.3 L32.8 261.5 L33.9 262.9 L34.2 263.3" fill="none" stroke="#2fae31" stroke-width="0.41" stroke-opacity="0.31" stroke-linecap="round"/>
<path d="M37.7 256.4 L36.7 257.3 L35.1 255.7 L32.2 255.3 L32.6 254.3" fill="none" stroke="#2fae31" stroke-width="0.41" stroke-opacity="0.45" stroke-linecap="round"/>
<path d="M34.6 254.6 L34.7 254.7 L33.6 254.5 L31.9 254.9 L31.4 252.6" fill="none" stroke="#2fae31" stroke-width="0.75" stroke-opacity="0.43" stroke-linecap="round"/>
<path d="M36.5 255.3 L37.1 253.3 L34.3 252.2 L33.2 249.6 L31.6 247.9" fill="none" stroke="#2fae31" stroke-width="0.59" stroke-opacity="0.29" stroke-linecap="round"/>
<path d="M37.5 253.3 L36.2 252.2 L35.0 251.4 L34.7 248.5 L33.5 246.3" fill="none" stroke="#2fae31" stroke-width="0.72" stroke-opacity="0.57" stroke-linecap="round"/>
<path d="M38.2 254.5 L40.3 252.7 L40.1 249.7 L38.6 247.4 L39.0 245.7" fill="none" stroke="#2fae31" stroke-width="0.53" stroke-opacity="0.54" stroke-linecap="round"/>
<path d="M40.0 253.4 L40.7 253.3 L40.3 252.3 L39.9 252.4 L39.7 250.2" fill="none" stroke="#2fae31" stroke-width="0.65" stroke-opacity="0.38" stroke-linecap="round"/>
<path d="M37.2 253.2 L34.2 251.5 L33.4 249.9 L30.6 249.5 L30.4 246.9" fill="none" stroke="#2fae31" stroke-width="0.56" stroke-opacity="0.52" stroke-linecap="round"/>
<path d="M38.7 255.8 L40.3 252.3 L40.6 249.6 L42.1 246.3 L38.9 242.7" fill="none" stroke="#2fae31" stroke-width="0.66" stroke-opacity="0.49" stroke-linecap="round"/>
<path d="M33.6 258.4 L32.1 260.8 L28.3 260.9 L26.6 260.8 L25.4 263.9" fill="none" stroke="#2fae31" stroke-width="0.72" stroke-opacity="0.27" stroke-linecap="round"/>
<path d="M34.1 258.2 L33.8 257.1 L33.5 256.5 L32.3 257.5 L31.9 256.4" fill="none" stroke="#2fae31" stroke-width="0.74" stroke-opacity="0.42" stroke-linecap="round"/>
<path d="M35.5 257.6 L33.3 256.5 L30.4 258.6 L26.7 257.8 L24.4 257.9" fill="none" stroke="#2fae31" stroke-width="0.63" stroke-opacity="0.40" stroke-linecap="round"/>
<path d="M38.9 256.9 L36.7 253.6 L36.2 252.6 L34.3 249.3 L34.6 246.7" fill="none" stroke="#2fae31" stroke-width="0.71" stroke-opacity="0.21" stroke-linecap="round"/>
<path d="M36.7 258.6 L35.0 259.2 L31.4 259.4 L29.2 260.5 L27.0 261.6" fill="none" stroke="#2fae31" stroke-width="0.48" stroke-opacity="0.45" stroke-linecap="round"/>
<path d="M37.4 254.0 L36.1 252.7 L32.6 251.4 L31.5 249.7 L28.1 247.8" fill="none" stroke="#2fae31" stroke-width="0.50" stroke-opacity="0.24" stroke-linecap="round"/>
<path d="M38.0 254.7 L36.7 252.2 L40.1 248.3 L38.1 246.4 L37.9 242.9" fill="none" stroke="#2fae31" stroke-width="0.44" stroke-opacity="0.21" stroke-linecap="round"/>
<path d="M35.3 255.2 L35.8 254.1 L31.6 254.5 L31.7 251.3 L29.8 250.3" fill="none" stroke="#2fae31" stroke-width="0.64" stroke-opacity="0.21" stroke-linecap="round"/>
<path d="M36.8 252.7 L35.1 252.7 L35.5 252.9 L36.8 251.1 L35.3 250.7" fill="none" stroke="#2fae31" stroke-width="0.79" stroke-opacity="0.52" stroke-linecap="round"/>
<path d="M33.9 257.6 L32.1 257.8 L29.9 257.8 L26.9 258.0 L25.0 259.5" fill="none" stroke="#2fae31" stroke-width="0.66" stroke-opacity="0.45" stroke-linecap="round"/>
<path d="M33.8 259.2 L31.5 259.9 L30.3 259.5 L27.3 258.0 L26.1 259.0" fill="none" stroke="#2fae31" stroke-width="0.42" stroke-opacity="0.28" stroke-linecap="round"/>
<path d="M37.5 257.0 L35.9 257.1 L34.5 255.7 L32.8 255.3 L30.5 254.5" fill="none" stroke="#2fae31" stroke-width="0.47" stroke-opacity="0.40" stroke-linecap="round"/>
<path d="M38.0 256.6 L35.1 254.2 L33.1 251.4 L29.5 248.9 L26.2 248.5" fill="none" stroke="#2fae31" stroke-width="0.56" stroke-opacity="0.56" stroke-linecap="round"/>
<path d="M38.1 256.7 L37.1 253.6 L35.2 250.4 L35.7 246.4 L35.6 241.4" fill="none" stroke="#2fae31" stroke-width="0.65" stroke-opacity="0.38" stroke-linecap="round"/>
<path d="M37.6 258.4 L34.9 258.9 L33.4 259.6 L30.9 258.8 L28.0 262.6" fill="none" stroke="#2fae31" stroke-width="0.71" stroke-opacity="0.45" stroke-linecap="round"/>
<path d="M36.7 257.3 L33.5 255.9 L32.4 255.7 L28.0 257.7 L26.4 255.6" fill="none" stroke="#2fae31" stroke-width="0.62" stroke-opacity="0.23" stroke-linecap="round"/>
<path d="M35.1 259.9 L34.2 262.1 L31.3 260.7 L30.7 262.7 L30.4 264.9" fill="none" stroke="#2fae31" stroke-width="0.72" stroke-opacity="0.35" stroke-linecap="round"/>
<path d="M36.0 253.3 L34.7 251.5 L34.9 250.0 L34.3 250.8 L33.5 249.7" fill="none" stroke="#2fae31" stroke-width="0.49" stroke-opacity="0.46" stroke-linecap="round"/>
<path d="M36.4 258.4 L35.3 260.7 L33.8 263.3 L30.3 263.0 L29.1 265.4" fill="none" stroke="#2fae31" stroke-width="0.53" stroke-opacity="0.36" stroke-linecap="round"/>
<path d="M37.6 261.7 L37.5 261.8 L37.7 262.5 L36.6 262.1 L37.2 262.6" fill="none" stroke="#2fae31" stroke-width="0.41" stroke-opacity="0.41" stroke-linecap="round"/>
<path d="M41.9 259.0 L43.1 259.8 L44.7 261.0 L45.8 260.5 L45.7 263.2" fill="none" stroke="#2fae31" stroke-width="0.49" stroke-opacity="0.51" stroke-linecap="round"/>
<path d="M43.3 259.8 L43.0 260.5 L43.8 260.7 L43.7 262.0 L44.5 262.4" fill="none" stroke="#2fae31" stroke-width="0.78" stroke-opacity="0.46" stroke-linecap="round"/>
<path d="M42.1 259.0 L43.6 260.5 L43.9 260.1 L45.9 260.3 L45.5 261.8" fill="none" stroke="#2fae31" stroke-width="0.71" stroke-opacity="0.27" stroke-linecap="round"/>
<path d="M40.4 255.1 L40.8 253.8 L42.8 253.5 L42.1 251.8 L44.1 252.6" fill="none" stroke="#2fae31" stroke-width="0.73" stroke-opacity="0.39" stroke-linecap="round"/>
<path d="M43.4 256.9 L44.0 255.5 L46.1 257.0 L46.5 255.5 L47.9 256.8" fill="none" stroke="#2fae31" stroke-width="0.40" stroke-opacity="0.39" stroke-linecap="round"/>
<path d="M42.6 257.6 L43.7 258.3 L45.2 259.0 L46.0 257.1 L45.9 259.8" fill="none" stroke="#2fae31" stroke-width="0.74" stroke-opacity="0.53" stroke-linecap="round"/>
<path d="M40.2 255.8 L42.0 256.1 L42.7 253.6 L43.6 254.3 L43.9 251.4" fill="none" stroke="#2fae31" stroke-width="0.46" stroke-opacity="0.53" stroke-linecap="round"/>
<path d="M41.2 257.5 L42.3 256.5 L42.7 257.8 L43.8 257.0 L44.6 256.5" fill="none" stroke="#2fae31" stroke-width="0.63" stroke-opacity="0.38" stroke-linecap="round"/>
<path d="M41.3 252.7 L41.9 252.1 L41.9 252.0 L41.8 251.2 L43.6 250.4" fill="none" stroke="#2fae31" stroke-width="0.69" stroke-opacity="0.33" stroke-linecap="round"/>
<path d="M39.5 259.2 L39.2 260.4 L38.3 260.5 L39.1 261.8 L40.7 262.8" fill="none" stroke="#2fae31" stroke-width="0.60" stroke-opacity="0.46" stroke-linecap="round"/>
<path d="M40.0 260.8 L40.5 263.0 L39.8 263.1 L41.1 262.8 L39.3 263.8" fill="none" stroke="#2fae31" stroke-width="0.60" stroke-opacity="0.52" stroke-linecap="round"/>
<path d="M39.4 261.0 L39.3 260.9 L39.5 262.1 L39.2 262.1 L38.3 262.6" fill="none" stroke="#2fae31" stroke-width="0.43" stroke-opacity="0.30" stroke-linecap="round"/>
<path d="M41.0 260.5 L43.4 259.5 L42.1 261.6 L42.6 262.2 L43.1 262.8" fill="none" stroke="#2fae31" stroke-width="0.45" stroke-opacity="0.53" stroke-linecap="round"/>
<circle cx="23.7" cy="258.6" r="0.46" fill="#2fae31" fill-opacity="0.72"/>
<circle cx="38.3" cy="253.4" r="0.60" fill="#2fae31" fill-opacity="0.44"/>
<circle cx="34.2" cy="253.7" r="0.65" fill="#2fae31" fill-opacity="0.81"/>
<circle cx="27.1" cy="255.3" r="0.71" fill="#2fae31" fill-opacity="0.41"/>
<circle cx="23.9" cy="252.3" r="0.41" fill="#2fae31" fill-opacity="0.61"/>
<circle cx="33.0" cy="251.2" r="0.58" fill="#2fae31" fill-opacity="0.55"/>
<circle cx="32.2" cy="253.3" r="0.64" fill="#2fae31" fill-opacity="0.42"/>
<circle cx="35.2" cy="251.6" r="0.78" fill="#2fae31" fill-opacity="0.73"/>
<circle cx="29.8" cy="253.6" r="0.63" fill="#2fae31" fill-opacity="0.78"/>
<circle cx="34.1" cy="260.3" r="0.57" fill="#2fae31" fill-opacity="0.95"/>
<circle cx="35.3" cy="262.2" r="0.53" fill="#2fae31" fill-opacity="0.64"/>
<circle cx="29.4" cy="260.8" r="0.59" fill="#2fae31" fill-opacity="0.69"/>
<circle cx="26.7" cy="259.8" r="0.49" fill="#2fae31" fill-opacity="0.43"/>
<circle cx="32.7" cy="262.0" r="0.68" fill="#2fae31" fill-opacity="0.73"/>
<circle cx="36.1" cy="254.3" r="0.62" fill="#2fae31" fill-opacity="0.44"/>
<circle cx="22.5" cy="251.5" r="0.58" fill="#2fae31" fill-opacity="0.62"/>
<circle cx="19.8" cy="254.2" r="0.59" fill="#2fae31" fill-opacity="0.53"/>
<circle cx="26.5" cy="252.2" r="0.46" fill="#2fae31" fill-opacity="0.44"/>
<circle cx="31.7" cy="261.1" r="0.54" fill="#2fae31" fill-opacity="0.84"/>
<circle cx="23.1" cy="256.2" r="0.61" fill="#2fae31" fill-opacity="0.90"/>
<circle cx="20.3" cy="255.8" r="0.41" fill="#2fae31" fill-opacity="0.70"/>
<circle cx="25.7" cy="250.4" r="0.50" fill="#2fae31" fill-opacity="0.43"/>
<circle cx="28.6" cy="252.3" r="0.61" fill="#2fae31" fill-opacity="0.43"/>
<circle cx="26.0" cy="253.5" r="0.77" fill="#2fae31" fill-opacity="0.94"/>
<circle cx="30.8" cy="250.9" r="0.48" fill="#2fae31" fill-opacity="0.91"/>
<circle cx="37.7" cy="255.6" r="0.56" fill="#2fae31" fill-opacity="0.49"/>
<circle cx="23.2" cy="254.5" r="0.44" fill="#2fae31" fill-opacity="0.88"/>
<circle cx="35.6" cy="254.2" r="0.76" fill="#2fae31" fill-opacity="0.88"/>
<circle cx="36.2" cy="251.8" r="0.66" fill="#2fae31" fill-opacity="0.92"/>
<circle cx="30.9" cy="249.0" r="0.45" fill="#2fae31" fill-opacity="0.57"/>
<circle cx="35.8" cy="252.6" r="0.43" fill="#2fae31" fill-opacity="0.53"/>
<circle cx="32.0" cy="260.1" r="0.52" fill="#2fae31" fill-opacity="0.76"/>
<circle cx="37.5" cy="259.1" r="0.45" fill="#2fae31" fill-opacity="0.57"/>
<circle cx="38.0" cy="260.4" r="0.47" fill="#2fae31" fill-opacity="0.75"/>
<circle cx="28.6" cy="254.9" r="0.59" fill="#2fae31" fill-opacity="0.42"/>
<circle cx="33.1" cy="252.9" r="0.46" fill="#2fae31" fill-opacity="0.84"/>
<circle cx="22.5" cy="249.1" r="0.69" fill="#2fae31" fill-opacity="0.54"/>
<circle cx="25.2" cy="254.0" r="0.43" fill="#2fae31" fill-opacity="0.89"/>
<circle cx="28.0" cy="258.0" r="0.52" fill="#2fae31" fill-opacity="0.91"/>
<circle cx="31.5" cy="250.8" r="0.60" fill="#2fae31" fill-opacity="0.75"/>
<circle cx="26.3" cy="256.0" r="0.70" fill="#2fae31" fill-opacity="0.68"/>
<circle cx="28.5" cy="259.6" r="0.66" fill="#2fae31" fill-opacity="0.69"/>
<circle cx="37.4" cy="252.7" r="0.62" fill="#2fae31" fill-opacity="0.53"/>
<circle cx="27.5" cy="258.1" r="0.70" fill="#2fae31" fill-opacity="0.84"/>
<circle cx="24.6" cy="252.9" r="0.45" fill="#2fae31" fill-opacity="0.72"/>
<circle cx="32.2" cy="248.9" r="0.62" fill="#2fae31" fill-opacity="0.79"/>
<circle cx="29.7" cy="260.5" r="0.43" fill="#2fae31" fill-opacity="0.48"/>
<circle cx="20.0" cy="251.3" r="0.55" fill="#2fae31" fill-opacity="0.64"/>
<circle cx="23.7" cy="257.1" r="0.38" fill="#2fae31" fill-opacity="0.90"/>
<circle cx="31.2" cy="256.1" r="0.71" fill="#2fae31" fill-opacity="0.53"/>
<circle cx="23.6" cy="249.9" r="0.37" fill="#2fae31" fill-opacity="0.57"/>
<circle cx="32.4" cy="256.2" r="0.47" fill="#2fae31" fill-opacity="0.72"/>
<circle cx="24.4" cy="249.3" r="0.42" fill="#2fae31" fill-opacity="0.78"/>
<circle cx="35.5" cy="261.3" r="0.38" fill="#2fae31" fill-opacity="0.63"/>
<circle cx="28.6" cy="250.2" r="0.79" fill="#2fae31" fill-opacity="0.42"/>
<circle cx="28.5" cy="258.4" r="0.79" fill="#2fae31" fill-opacity="0.48"/>
<circle cx="27.9" cy="257.9" r="0.37" fill="#2fae31" fill-opacity="0.53"/>
<circle cx="28.8" cy="251.5" r="0.54" fill="#2fae31" fill-opacity="0.44"/>
<circle cx="34.3" cy="260.1" r="0.45" fill="#2fae31" fill-opacity="0.54"/>
<circle cx="32.3" cy="252.0" r="0.56" fill="#2fae31" fill-opacity="0.91"/>
<circle cx="28.0" cy="251.8" r="0.79" fill="#2fae31" fill-opacity="0.74"/>
<circle cx="20.9" cy="250.3" r="0.64" fill="#2fae31" fill-opacity="0.43"/>
<circle cx="25.8" cy="256.4" r="0.74" fill="#2fae31" fill-opacity="0.72"/>
<circle cx="38.2" cy="257.4" r="0.53" fill="#2fae31" fill-opacity="0.86"/>
<circle cx="26.2" cy="257.8" r="0.45" fill="#2fae31" fill-opacity="0.59"/>
<circle cx="23.2" cy="253.3" r="0.42" fill="#2fae31" fill-opacity="0.51"/>
<circle cx="24.3" cy="252.4" r="0.49" fill="#2fae31" fill-opacity="0.65"/>
<circle cx="38.9" cy="253.8" r="0.52" fill="#2fae31" fill-opacity="0.44"/>
<circle cx="34.6" cy="254.6" r="0.47" fill="#2fae31" fill-opacity="0.41"/>
<circle cx="24.6" cy="249.5" r="0.53" fill="#2fae31" fill-opacity="0.91"/>
</g>
<ellipse cx="41.2" cy="257.8" rx="6.6" ry="5.3" fill="#2b2ff2" filter="url(#bl2)" transform="rotate(35 41.2 257.8)"/>
</g>
<g clip-path="url(#clip1)">
<ellipse cx="118.5" cy="250.5" rx="10" ry="4.6" fill="#186a1c" opacity="0.55" filter="url(#bl3)" transform="rotate(-58 118.5 250.5)"/>
<ellipse cx="115.5" cy="254.5" rx="5.5" ry="3.8" fill="#2fae31" opacity="0.7" filter="url(#bl1)" transform="rotate(-55 115.5 254.5)"/>
<g filter="url(#bl5)">
<path d="M114.3 256.7 L116.0 255.6 L116.1 252.4 L118.0 250.2 L120.7 249.1" fill="none" stroke="#3cae3c" stroke-width="0.49" stroke-opacity="0.36" stroke-linecap="round"/>
<path d="M112.6 257.0 L113.7 253.8 L114.6 250.0 L114.5 246.0 L117.7 243.0" fill="none" stroke="#3cae3c" stroke-width="0.65" stroke-opacity="0.35" stroke-linecap="round"/>
<path d="M112.8 256.4 L114.7 255.3 L114.9 253.5 L115.4 251.5 L117.8 250.2" fill="none" stroke="#3cae3c" stroke-width="0.57" stroke-opacity="0.29" stroke-linecap="round"/>
<path d="M113.7 256.2 L113.9 255.2 L114.5 254.6 L114.6 253.3 L115.3 252.7" fill="none" stroke="#3cae3c" stroke-width="0.60" stroke-opacity="0.50" stroke-linecap="round"/>
<path d="M112.8 257.8 L114.6 255.4 L116.5 252.9 L117.3 250.6 L120.2 248.8" fill="none" stroke="#3cae3c" stroke-width="0.42" stroke-opacity="0.46" stroke-linecap="round"/>
<path d="M116.2 254.5 L117.0 252.8 L117.2 251.6 L119.2 251.0 L117.8 247.9" fill="none" stroke="#3cae3c" stroke-width="0.46" stroke-opacity="0.41" stroke-linecap="round"/>
<path d="M113.9 257.3 L114.9 255.9 L116.3 254.9 L118.1 253.8 L120.2 252.8" fill="none" stroke="#3cae3c" stroke-width="0.47" stroke-opacity="0.65" stroke-linecap="round"/>
<path d="M115.0 255.2 L115.3 251.3 L117.3 248.3 L119.5 245.4 L118.8 241.3" fill="none" stroke="#3cae3c" stroke-width="0.53" stroke-opacity="0.31" stroke-linecap="round"/>
<path d="M112.6 257.5 L113.5 255.7 L114.6 254.2 L113.9 253.2 L114.7 251.2" fill="none" stroke="#3cae3c" stroke-width="0.60" stroke-opacity="0.40" stroke-linecap="round"/>
<path d="M114.9 254.7 L116.8 251.4 L118.4 247.5 L120.0 243.5 L119.0 239.3" fill="none" stroke="#3cae3c" stroke-width="0.69" stroke-opacity="0.31" stroke-linecap="round"/>
<path d="M114.8 256.8 L116.0 252.7 L117.3 250.3 L121.6 248.7 L121.0 243.8" fill="none" stroke="#3cae3c" stroke-width="0.48" stroke-opacity="0.39" stroke-linecap="round"/>
<path d="M115.8 255.2 L117.2 254.6 L118.1 252.4 L117.6 251.5 L119.0 249.6" fill="none" stroke="#3cae3c" stroke-width="0.46" stroke-opacity="0.26" stroke-linecap="round"/>
<path d="M113.1 257.3 L115.1 253.6 L117.1 250.2 L118.1 246.9 L123.1 246.0" fill="none" stroke="#3cae3c" stroke-width="0.52" stroke-opacity="0.44" stroke-linecap="round"/>
<path d="M114.7 256.8 L115.4 256.1 L116.1 255.9 L116.3 254.1 L116.2 252.8" fill="none" stroke="#3cae3c" stroke-width="0.48" stroke-opacity="0.59" stroke-linecap="round"/>
<path d="M114.2 255.1 L114.6 255.4 L114.7 254.9 L115.4 254.6 L114.9 253.0" fill="none" stroke="#3cae3c" stroke-width="0.60" stroke-opacity="0.36" stroke-linecap="round"/>
<path d="M113.2 257.9 L116.4 255.3 L118.6 252.5 L121.8 250.3 L123.4 246.3" fill="none" stroke="#3cae3c" stroke-width="0.61" stroke-opacity="0.50" stroke-linecap="round"/>
<path d="M113.4 257.2 L114.2 255.8 L115.3 255.3 L116.2 253.3 L117.1 253.4" fill="none" stroke="#3cae3c" stroke-width="0.50" stroke-opacity="0.68" stroke-linecap="round"/>
<path d="M113.2 256.1 L115.6 252.4 L116.5 248.3 L118.2 245.5 L118.1 241.5" fill="none" stroke="#3cae3c" stroke-width="0.65" stroke-opacity="0.53" stroke-linecap="round"/>
<path d="M114.9 255.7 L115.1 254.7 L115.3 253.7 L115.6 253.1 L116.5 252.1" fill="none" stroke="#3cae3c" stroke-width="0.68" stroke-opacity="0.32" stroke-linecap="round"/>
<path d="M115.4 254.1 L117.2 250.4 L119.9 248.5 L121.5 246.2 L123.5 243.0" fill="none" stroke="#3cae3c" stroke-width="0.70" stroke-opacity="0.28" stroke-linecap="round"/>
<path d="M115.8 255.8 L116.7 254.6 L117.3 253.6 L119.0 252.5 L120.4 252.0" fill="none" stroke="#3cae3c" stroke-width="0.54" stroke-opacity="0.66" stroke-linecap="round"/>
<path d="M113.1 257.2 L116.1 255.4 L116.5 253.4 L119.4 251.1 L121.3 250.5" fill="none" stroke="#3cae3c" stroke-width="0.66" stroke-opacity="0.58" stroke-linecap="round"/>
<path d="M113.4 254.5 L114.8 252.9 L115.7 250.3 L116.9 248.1 L116.5 245.8" fill="none" stroke="#3cae3c" stroke-width="0.48" stroke-opacity="0.34" stroke-linecap="round"/>
<path d="M115.4 255.6 L118.0 252.7 L121.6 251.4 L124.1 248.0 L126.7 246.4" fill="none" stroke="#3cae3c" stroke-width="0.45" stroke-opacity="0.64" stroke-linecap="round"/>
<path d="M115.0 254.0 L116.4 251.3 L115.8 247.5 L118.6 245.0 L120.6 242.4" fill="none" stroke="#3cae3c" stroke-width="0.49" stroke-opacity="0.31" stroke-linecap="round"/>
<path d="M114.4 257.5 L116.2 254.9 L118.1 253.6 L119.8 251.0 L121.7 249.1" fill="none" stroke="#3cae3c" stroke-width="0.36" stroke-opacity="0.53" stroke-linecap="round"/>
<path d="M114.0 256.5 L116.4 254.8 L116.8 251.5 L119.1 248.8 L119.3 246.5" fill="none" stroke="#3cae3c" stroke-width="0.43" stroke-opacity="0.70" stroke-linecap="round"/>
<path d="M113.7 255.8 L113.8 254.9 L114.6 254.0 L115.7 252.1 L115.0 251.3" fill="none" stroke="#3cae3c" stroke-width="0.68" stroke-opacity="0.65" stroke-linecap="round"/>
<path d="M112.9 256.5 L113.8 252.7 L114.6 249.7 L115.5 247.2 L115.4 243.2" fill="none" stroke="#3cae3c" stroke-width="0.43" stroke-opacity="0.45" stroke-linecap="round"/>
<path d="M114.4 255.6 L117.4 252.7 L119.7 249.2 L120.6 244.2 L125.4 242.1" fill="none" stroke="#3cae3c" stroke-width="0.40" stroke-opacity="0.49" stroke-linecap="round"/>
<path d="M113.3 257.7 L113.0 254.5 L113.4 253.0 L114.4 250.4 L116.9 248.4" fill="none" stroke="#3cae3c" stroke-width="0.53" stroke-opacity="0.66" stroke-linecap="round"/>
<path d="M113.4 256.5 L115.4 252.8 L116.8 249.5 L117.8 244.9 L120.4 241.1" fill="none" stroke="#3cae3c" stroke-width="0.48" stroke-opacity="0.39" stroke-linecap="round"/>
<path d="M113.1 256.9 L115.9 253.8 L118.8 250.3 L119.3 245.6 L122.3 242.3" fill="none" stroke="#3cae3c" stroke-width="0.53" stroke-opacity="0.59" stroke-linecap="round"/>
<path d="M113.1 257.3 L113.8 255.2 L114.0 253.7 L115.2 251.0 L116.4 249.3" fill="none" stroke="#3cae3c" stroke-width="0.37" stroke-opacity="0.59" stroke-linecap="round"/>
<path d="M114.2 254.6 L115.4 252.5 L114.2 249.0 L117.0 247.1 L115.4 243.2" fill="none" stroke="#3cae3c" stroke-width="0.61" stroke-opacity="0.42" stroke-linecap="round"/>
<path d="M114.2 255.6 L114.6 255.0 L114.9 253.6 L115.9 252.8 L116.8 252.2" fill="none" stroke="#3cae3c" stroke-width="0.54" stroke-opacity="0.63" stroke-linecap="round"/>
<path d="M113.5 253.6 L115.6 251.8 L115.9 250.0 L115.3 246.7 L117.0 245.1" fill="none" stroke="#3cae3c" stroke-width="0.41" stroke-opacity="0.41" stroke-linecap="round"/>
<path d="M114.9 255.8 L115.9 254.5 L116.9 251.5 L118.0 249.8 L118.5 248.0" fill="none" stroke="#3cae3c" stroke-width="0.48" stroke-opacity="0.57" stroke-linecap="round"/>
<path d="M115.3 255.5 L115.5 252.9 L116.1 250.0 L117.4 246.9 L120.0 244.5" fill="none" stroke="#3cae3c" stroke-width="0.68" stroke-opacity="0.59" stroke-linecap="round"/>
<path d="M113.2 257.7 L116.3 254.6 L120.0 251.2 L122.8 248.0 L126.0 244.6" fill="none" stroke="#3cae3c" stroke-width="0.60" stroke-opacity="0.37" stroke-linecap="round"/>
</g>
<ellipse cx="112.4" cy="259.7" rx="6.5" ry="4.6" fill="#2b2ff2" filter="url(#bl2)" transform="rotate(-35 112.4 259.7)"/>
</g>
<g clip-path="url(#clip2)">
<ellipse cx="185.5" cy="254.5" rx="18" ry="7.5" fill="#186a1c" opacity="0.55" filter="url(#bl3)" transform="rotate(17 185.5 254.5)"/>
<ellipse cx="187" cy="254.8" rx="14.5" ry="8" fill="#2fae31" opacity="0.78" filter="url(#bl1)" transform="rotate(20 187 254.8)"/>
<path d="M163 242.6 L175.5 246.6 L176.5 251.5 Z" fill="#2fae31" opacity="0.85" filter="url(#bl2)"/>
<g filter="url(#bl5)">
<path d="M184.0 254.0 L187.4 253.5 L190.3 253.8 L193.2 256.7 L197.1 256.5" fill="none" stroke="#2fae31" stroke-width="0.69" stroke-opacity="0.41" stroke-linecap="round"/>
<path d="M187.3 257.8 L190.9 258.3 L192.7 261.0 L193.7 264.6 L197.9 263.9" fill="none" stroke="#2fae31" stroke-width="0.44" stroke-opacity="0.58" stroke-linecap="round"/>
<path d="M184.5 254.5 L187.1 259.3 L193.0 257.8 L197.1 260.9 L199.2 266.7" fill="none" stroke="#2fae31" stroke-width="0.61" stroke-opacity="0.23" stroke-linecap="round"/>
<path d="M185.0 254.7 L187.4 256.8 L190.8 256.3 L192.3 259.9 L196.0 259.0" fill="none" stroke="#2fae31" stroke-width="0.78" stroke-opacity="0.59" stroke-linecap="round"/>
<path d="M184.5 259.6 L188.0 262.3 L190.1 264.3 L192.3 266.7 L196.4 269.1" fill="none" stroke="#2fae31" stroke-width="0.41" stroke-opacity="0.21" stroke-linecap="round"/>
<path d="M186.4 258.4 L187.9 258.9 L188.5 262.1 L191.2 261.5 L191.0 265.6" fill="none" stroke="#2fae31" stroke-width="0.61" stroke-opacity="0.33" stroke-linecap="round"/>
<path d="M185.0 256.2 L187.3 257.3 L188.2 258.0 L190.1 257.9 L189.5 260.5" fill="none" stroke="#2fae31" stroke-width="0.52" stroke-opacity="0.33" stroke-linecap="round"/>
<path d="M185.8 257.7 L189.1 258.5 L190.1 262.7 L193.6 265.0 L199.0 263.8" fill="none" stroke="#2fae31" stroke-width="0.54" stroke-opacity="0.52" stroke-linecap="round"/>
<path d="M185.4 255.7 L188.7 254.2 L192.4 254.0 L195.4 256.0 L196.7 260.3" fill="none" stroke="#2fae31" stroke-width="0.46" stroke-opacity="0.49" stroke-linecap="round"/>
<path d="M184.7 256.7 L184.4 257.6 L186.1 258.9 L187.1 259.0 L188.3 259.7" fill="none" stroke="#2fae31" stroke-width="0.45" stroke-opacity="0.41" stroke-linecap="round"/>
<path d="M187.3 255.4 L189.3 256.3 L193.0 259.7 L196.3 258.4 L200.0 260.8" fill="none" stroke="#2fae31" stroke-width="0.58" stroke-opacity="0.44" stroke-linecap="round"/>
<path d="M185.6 256.6 L185.7 257.6 L187.2 258.8 L187.9 259.0 L188.1 262.0" fill="none" stroke="#2fae31" stroke-width="0.59" stroke-opacity="0.27" stroke-linecap="round"/>
<path d="M185.6 253.2 L186.6 253.0 L187.9 252.9 L188.3 252.4 L189.8 251.5" fill="none" stroke="#2fae31" stroke-width="0.77" stroke-opacity="0.54" stroke-linecap="round"/>
<path d="M183.6 255.7 L185.3 258.7 L189.5 259.4 L191.4 261.3 L191.4 265.9" fill="none" stroke="#2fae31" stroke-width="0.61" stroke-opacity="0.35" stroke-linecap="round"/>
<path d="M186.6 253.3 L187.5 251.9 L190.3 252.2 L190.2 251.9 L192.6 250.6" fill="none" stroke="#2fae31" stroke-width="0.50" stroke-opacity="0.56" stroke-linecap="round"/>
<path d="M185.8 256.1 L189.3 256.1 L190.9 256.6 L193.7 260.7 L195.7 262.1" fill="none" stroke="#2fae31" stroke-width="0.68" stroke-opacity="0.52" stroke-linecap="round"/>
<path d="M184.2 256.5 L188.1 257.6 L189.6 263.0 L191.6 265.3 L194.6 268.8" fill="none" stroke="#2fae31" stroke-width="0.75" stroke-opacity="0.32" stroke-linecap="round"/>
<path d="M187.7 254.4 L190.0 255.1 L194.4 255.3 L197.8 253.8 L200.1 252.7" fill="none" stroke="#2fae31" stroke-width="0.41" stroke-opacity="0.26" stroke-linecap="round"/>
<path d="M184.8 256.3 L187.0 257.6 L189.5 261.8 L193.2 263.1 L196.0 264.6" fill="none" stroke="#2fae31" stroke-width="0.79" stroke-opacity="0.51" stroke-linecap="round"/>
<path d="M184.8 255.4 L188.3 255.6 L190.7 254.8 L193.7 254.0 L196.6 253.7" fill="none" stroke="#2fae31" stroke-width="0.78" stroke-opacity="0.46" stroke-linecap="round"/>
<path d="M186.8 254.6 L187.9 255.9 L189.4 256.8 L189.9 257.6 L191.7 258.0" fill="none" stroke="#2fae31" stroke-width="0.71" stroke-opacity="0.22" stroke-linecap="round"/>
<path d="M187.2 254.0 L188.6 254.7 L189.8 252.8 L192.2 253.9 L191.9 251.0" fill="none" stroke="#2fae31" stroke-width="0.68" stroke-opacity="0.38" stroke-linecap="round"/>
<path d="M186.1 254.5 L189.2 253.2 L191.3 253.0 L193.8 251.7 L197.2 250.8" fill="none" stroke="#2fae31" stroke-width="0.78" stroke-opacity="0.54" stroke-linecap="round"/>
<path d="M185.9 256.2 L189.1 255.8 L189.9 257.3 L192.3 256.9 L193.0 257.7" fill="none" stroke="#2fae31" stroke-width="0.58" stroke-opacity="0.33" stroke-linecap="round"/>
<path d="M185.5 256.3 L186.8 257.4 L189.1 259.3 L191.0 258.9 L192.9 259.7" fill="none" stroke="#2fae31" stroke-width="0.66" stroke-opacity="0.47" stroke-linecap="round"/>
<path d="M187.1 256.8 L188.8 254.8 L190.1 255.6 L190.3 256.8 L190.9 259.3" fill="none" stroke="#2fae31" stroke-width="0.42" stroke-opacity="0.43" stroke-linecap="round"/>
<path d="M186.8 258.8 L187.4 259.5 L188.5 261.2 L188.0 263.5 L192.2 263.1" fill="none" stroke="#2fae31" stroke-width="0.51" stroke-opacity="0.43" stroke-linecap="round"/>
<path d="M186.9 256.3 L188.1 255.8 L189.0 255.9 L190.5 257.4 L189.9 259.5" fill="none" stroke="#2fae31" stroke-width="0.43" stroke-opacity="0.32" stroke-linecap="round"/>
<path d="M186.4 256.7 L188.7 259.0 L191.4 261.4 L194.5 264.5 L198.7 262.5" fill="none" stroke="#2fae31" stroke-width="0.72" stroke-opacity="0.50" stroke-linecap="round"/>
<path d="M187.0 254.5 L190.1 254.2 L193.6 253.6 L195.9 254.5 L199.4 257.0" fill="none" stroke="#2fae31" stroke-width="0.79" stroke-opacity="0.29" stroke-linecap="round"/>
<path d="M177.3 253.3 L177.5 254.8 L175.9 253.4 L175.4 254.2 L174.9 252.9" fill="none" stroke="#2fae31" stroke-width="0.49" stroke-opacity="0.49" stroke-linecap="round"/>
<path d="M177.3 254.7 L176.5 255.5 L176.6 254.9 L175.9 255.4 L175.3 254.7" fill="none" stroke="#2fae31" stroke-width="0.67" stroke-opacity="0.48" stroke-linecap="round"/>
<path d="M177.9 253.3 L176.9 253.4 L176.1 254.3 L174.9 254.2 L174.8 252.8" fill="none" stroke="#2fae31" stroke-width="0.75" stroke-opacity="0.50" stroke-linecap="round"/>
<path d="M177.9 251.7 L177.1 251.2 L176.8 251.1 L174.2 250.2 L174.1 250.7" fill="none" stroke="#2fae31" stroke-width="0.51" stroke-opacity="0.28" stroke-linecap="round"/>
<path d="M179.4 250.1 L178.1 250.2 L179.5 248.7 L175.9 249.4 L176.9 246.8" fill="none" stroke="#2fae31" stroke-width="0.74" stroke-opacity="0.41" stroke-linecap="round"/>
<path d="M179.7 252.7 L179.4 250.9 L179.9 249.1 L178.7 246.4 L178.1 245.5" fill="none" stroke="#2fae31" stroke-width="0.49" stroke-opacity="0.38" stroke-linecap="round"/>
<path d="M178.2 252.3 L177.5 251.3 L176.7 251.9 L174.9 251.1 L174.5 251.3" fill="none" stroke="#2fae31" stroke-width="0.70" stroke-opacity="0.22" stroke-linecap="round"/>
<path d="M176.4 255.2 L177.4 255.1 L177.0 255.4 L176.1 256.0 L176.1 256.4" fill="none" stroke="#2fae31" stroke-width="0.73" stroke-opacity="0.30" stroke-linecap="round"/>
<path d="M179.6 252.2 L179.4 250.8 L177.0 251.0 L177.7 250.1 L176.4 248.4" fill="none" stroke="#2fae31" stroke-width="0.69" stroke-opacity="0.40" stroke-linecap="round"/>
<path d="M177.4 254.0 L176.9 254.0 L176.7 256.5 L175.6 256.2 L174.5 254.6" fill="none" stroke="#2fae31" stroke-width="0.48" stroke-opacity="0.49" stroke-linecap="round"/>
<path d="M176.8 256.1 L176.8 255.2 L175.5 255.2 L175.8 255.0 L176.9 255.9" fill="none" stroke="#2fae31" stroke-width="0.43" stroke-opacity="0.22" stroke-linecap="round"/>
<path d="M178.0 251.2 L177.2 249.9 L177.3 248.1 L176.6 247.0 L176.1 246.1" fill="none" stroke="#2fae31" stroke-width="0.59" stroke-opacity="0.22" stroke-linecap="round"/>
<circle cx="194.5" cy="254.2" r="0.50" fill="#2fae31" fill-opacity="0.41"/>
<circle cx="198.7" cy="260.3" r="0.53" fill="#2fae31" fill-opacity="0.70"/>
<circle cx="187.8" cy="257.8" r="0.52" fill="#2fae31" fill-opacity="0.79"/>
<circle cx="187.3" cy="252.7" r="0.69" fill="#2fae31" fill-opacity="0.83"/>
<circle cx="193.5" cy="262.4" r="0.43" fill="#2fae31" fill-opacity="0.62"/>
<circle cx="197.3" cy="261.9" r="0.40" fill="#2fae31" fill-opacity="0.94"/>
<circle cx="194.6" cy="262.1" r="0.51" fill="#2fae31" fill-opacity="0.73"/>
<circle cx="191.1" cy="261.1" r="0.80" fill="#2fae31" fill-opacity="0.86"/>
<circle cx="192.5" cy="262.4" r="0.41" fill="#2fae31" fill-opacity="0.62"/>
<circle cx="193.7" cy="253.2" r="0.70" fill="#2fae31" fill-opacity="0.43"/>
<circle cx="194.5" cy="255.2" r="0.50" fill="#2fae31" fill-opacity="0.73"/>
<circle cx="184.8" cy="253.6" r="0.74" fill="#2fae31" fill-opacity="0.94"/>
<circle cx="186.6" cy="253.3" r="0.66" fill="#2fae31" fill-opacity="0.50"/>
<circle cx="199.4" cy="256.0" r="0.60" fill="#2fae31" fill-opacity="0.59"/>
<circle cx="195.5" cy="253.0" r="0.67" fill="#2fae31" fill-opacity="0.53"/>
<circle cx="189.8" cy="258.7" r="0.74" fill="#2fae31" fill-opacity="0.91"/>
<circle cx="190.1" cy="254.0" r="0.53" fill="#2fae31" fill-opacity="0.57"/>
<circle cx="196.1" cy="257.9" r="0.66" fill="#2fae31" fill-opacity="0.48"/>
<circle cx="184.4" cy="255.5" r="0.42" fill="#2fae31" fill-opacity="0.42"/>
<circle cx="190.4" cy="252.6" r="0.68" fill="#2fae31" fill-opacity="0.71"/>
<circle cx="192.8" cy="262.7" r="0.38" fill="#2fae31" fill-opacity="0.45"/>
<circle cx="181.6" cy="252.6" r="0.72" fill="#2fae31" fill-opacity="0.78"/>
<circle cx="190.6" cy="260.5" r="0.52" fill="#2fae31" fill-opacity="0.46"/>
<circle cx="195.7" cy="252.7" r="0.45" fill="#2fae31" fill-opacity="0.42"/>
<circle cx="193.1" cy="252.9" r="0.62" fill="#2fae31" fill-opacity="0.85"/>
<circle cx="189.2" cy="251.4" r="0.65" fill="#2fae31" fill-opacity="0.80"/>
<circle cx="198.7" cy="259.9" r="0.61" fill="#2fae31" fill-opacity="0.87"/>
<circle cx="185.6" cy="257.7" r="0.63" fill="#2fae31" fill-opacity="0.66"/>
<circle cx="181.0" cy="252.6" r="0.47" fill="#2fae31" fill-opacity="0.73"/>
<circle cx="191.2" cy="256.7" r="0.38" fill="#2fae31" fill-opacity="0.47"/>
<circle cx="192.5" cy="259.2" r="0.80" fill="#2fae31" fill-opacity="0.84"/>
<circle cx="186.8" cy="254.5" r="0.58" fill="#2fae31" fill-opacity="0.84"/>
<circle cx="187.2" cy="260.1" r="0.57" fill="#2fae31" fill-opacity="0.62"/>
<circle cx="191.1" cy="254.9" r="0.80" fill="#2fae31" fill-opacity="0.43"/>
<circle cx="190.5" cy="251.4" r="0.66" fill="#2fae31" fill-opacity="0.48"/>
<circle cx="184.0" cy="253.1" r="0.62" fill="#2fae31" fill-opacity="0.82"/>
<circle cx="190.6" cy="254.0" r="0.52" fill="#2fae31" fill-opacity="0.89"/>
<circle cx="199.0" cy="259.2" r="0.41" fill="#2fae31" fill-opacity="0.47"/>
<circle cx="198.1" cy="262.0" r="0.38" fill="#2fae31" fill-opacity="0.77"/>
<circle cx="185.3" cy="253.8" r="0.62" fill="#2fae31" fill-opacity="0.43"/>
<circle cx="200.6" cy="258.1" r="0.41" fill="#2fae31" fill-opacity="0.83"/>
<circle cx="194.3" cy="257.3" r="0.76" fill="#2fae31" fill-opacity="0.83"/>
<circle cx="193.2" cy="257.0" r="0.49" fill="#2fae31" fill-opacity="0.90"/>
<circle cx="184.4" cy="255.8" r="0.38" fill="#2fae31" fill-opacity="0.91"/>
<circle cx="199.8" cy="261.1" r="0.49" fill="#2fae31" fill-opacity="0.80"/>
<circle cx="198.2" cy="262.6" r="0.37" fill="#2fae31" fill-opacity="0.68"/>
<circle cx="183.4" cy="254.3" r="0.78" fill="#2fae31" fill-opacity="0.88"/>
<circle cx="185.6" cy="255.1" r="0.49" fill="#2fae31" fill-opacity="0.49"/>
<circle cx="195.1" cy="261.0" r="0.50" fill="#2fae31" fill-opacity="0.63"/>
<circle cx="194.2" cy="260.3" r="0.56" fill="#2fae31" fill-opacity="0.47"/>
<circle cx="197.8" cy="258.9" r="0.64" fill="#2fae31" fill-opacity="0.60"/>
<circle cx="189.5" cy="252.2" r="0.79" fill="#2fae31" fill-opacity="0.73"/>
<circle cx="182.6" cy="255.8" r="0.62" fill="#2fae31" fill-opacity="0.74"/>
<circle cx="196.2" cy="259.7" r="0.74" fill="#2fae31" fill-opacity="0.93"/>
<circle cx="188.5" cy="257.3" r="0.52" fill="#2fae31" fill-opacity="0.63"/>
<circle cx="187.7" cy="257.0" r="0.51" fill="#2fae31" fill-opacity="0.59"/>
<circle cx="197.0" cy="262.2" r="0.65" fill="#2fae31" fill-opacity="0.86"/>
<circle cx="188.1" cy="257.1" r="0.46" fill="#2fae31" fill-opacity="0.57"/>
<circle cx="181.6" cy="256.6" r="0.76" fill="#2fae31" fill-opacity="0.57"/>
<circle cx="189.9" cy="251.6" r="0.41" fill="#2fae31" fill-opacity="0.75"/>
<circle cx="185.0" cy="257.3" r="0.45" fill="#2fae31" fill-opacity="0.88"/>
<circle cx="188.1" cy="255.1" r="0.44" fill="#2fae31" fill-opacity="0.56"/>
<circle cx="190.3" cy="253.6" r="0.68" fill="#2fae31" fill-opacity="0.42"/>
<circle cx="192.7" cy="260.7" r="0.50" fill="#2fae31" fill-opacity="0.51"/>
<circle cx="196.7" cy="259.8" r="0.36" fill="#2fae31" fill-opacity="0.65"/>
<circle cx="193.7" cy="255.4" r="0.37" fill="#2fae31" fill-opacity="0.63"/>
<circle cx="186.2" cy="260.3" r="0.51" fill="#2fae31" fill-opacity="0.91"/>
<circle cx="198.3" cy="260.0" r="0.41" fill="#2fae31" fill-opacity="0.84"/>
<circle cx="182.3" cy="254.0" r="0.39" fill="#2fae31" fill-opacity="0.45"/>
<circle cx="190.4" cy="252.3" r="0.80" fill="#2fae31" fill-opacity="0.72"/>
</g>
<ellipse cx="181.4" cy="253.4" rx="8.6" ry="5.7" fill="#2b2ff2" filter="url(#bl2)" transform="rotate(25 181.4 253.4)"/>
</g>
<g clip-path="url(#clip3)">
<ellipse cx="50" cy="326.5" rx="12.5" ry="7.5" fill="#186a1c" opacity="0.5" filter="url(#bl3)" transform="rotate(20 50 326.5)"/>
<ellipse cx="50.3" cy="326.6" rx="10.6" ry="6.6" fill="none" stroke="#4fe04f" stroke-width="1.7" opacity="0.85" filter="url(#bl2)" transform="rotate(24 50.3 326.6)" stroke-dasharray="9 2.5 5 1.5 12 3"/>
<ellipse cx="43.3" cy="324.2" rx="4.3" ry="3.2" fill="#4fe04f" opacity="0.85" filter="url(#bl2)" transform="rotate(40 43.3 324.2)"/>
<ellipse cx="47" cy="331.5" rx="4" ry="2" fill="#2fae31" opacity="0.8" filter="url(#bl2)" transform="rotate(35 47 331.5)"/>
<g filter="url(#bl5)">
<circle cx="54.7" cy="330.6" r="0.56" fill="#4fe04f" fill-opacity="0.83"/>
<circle cx="55.4" cy="323.5" r="0.59" fill="#4fe04f" fill-opacity="0.63"/>
<circle cx="49.2" cy="329.4" r="0.66" fill="#4fe04f" fill-opacity="0.71"/>
<circle cx="54.5" cy="333.2" r="0.39" fill="#4fe04f" fill-opacity="0.48"/>
<circle cx="60.8" cy="328.0" r="0.55" fill="#4fe04f" fill-opacity="0.66"/>
<circle cx="52.5" cy="324.2" r="0.70" fill="#4fe04f" fill-opacity="0.58"/>
<circle cx="55.8" cy="333.4" r="0.35" fill="#4fe04f" fill-opacity="0.70"/>
<circle cx="42.0" cy="319.8" r="0.70" fill="#4fe04f" fill-opacity="0.72"/>
<circle cx="54.0" cy="326.8" r="0.58" fill="#4fe04f" fill-opacity="0.51"/>
<circle cx="50.5" cy="323.0" r="0.65" fill="#4fe04f" fill-opacity="0.46"/>
<circle cx="43.9" cy="319.5" r="0.59" fill="#4fe04f" fill-opacity="0.72"/>
<circle cx="57.8" cy="327.8" r="0.42" fill="#4fe04f" fill-opacity="0.85"/>
<circle cx="53.8" cy="332.8" r="0.77" fill="#4fe04f" fill-opacity="0.51"/>
<circle cx="42.2" cy="329.4" r="0.76" fill="#4fe04f" fill-opacity="0.66"/>
<circle cx="42.8" cy="321.4" r="0.46" fill="#4fe04f" fill-opacity="0.76"/>
<circle cx="53.2" cy="332.0" r="0.55" fill="#4fe04f" fill-opacity="0.65"/>
<circle cx="50.0" cy="324.5" r="0.55" fill="#4fe04f" fill-opacity="0.78"/>
<circle cx="55.4" cy="326.1" r="0.61" fill="#4fe04f" fill-opacity="0.48"/>
<circle cx="40.9" cy="321.1" r="0.51" fill="#4fe04f" fill-opacity="0.42"/>
<circle cx="41.4" cy="321.9" r="0.77" fill="#4fe04f" fill-opacity="0.86"/>
<circle cx="48.2" cy="322.9" r="0.41" fill="#4fe04f" fill-opacity="0.72"/>
<circle cx="57.9" cy="327.9" r="0.43" fill="#4fe04f" fill-opacity="0.46"/>
<circle cx="43.1" cy="327.1" r="0.71" fill="#4fe04f" fill-opacity="0.45"/>
<circle cx="44.3" cy="321.4" r="0.70" fill="#4fe04f" fill-opacity="0.81"/>
<circle cx="46.0" cy="324.2" r="0.51" fill="#4fe04f" fill-opacity="0.66"/>
<circle cx="57.5" cy="325.9" r="0.71" fill="#4fe04f" fill-opacity="0.91"/>
<circle cx="49.7" cy="333.3" r="0.77" fill="#4fe04f" fill-opacity="0.49"/>
<circle cx="58.5" cy="324.2" r="0.49" fill="#4fe04f" fill-opacity="0.64"/>
<circle cx="56.3" cy="331.8" r="0.44" fill="#4fe04f" fill-opacity="0.89"/>
<circle cx="57.7" cy="329.8" r="0.37" fill="#4fe04f" fill-opacity="0.56"/>
<circle cx="46.0" cy="323.7" r="0.77" fill="#4fe04f" fill-opacity="0.73"/>
<circle cx="43.4" cy="327.3" r="0.50" fill="#4fe04f" fill-opacity="0.53"/>
<circle cx="47.9" cy="326.3" r="0.53" fill="#4fe04f" fill-opacity="0.71"/>
<circle cx="54.6" cy="325.9" r="0.57" fill="#4fe04f" fill-opacity="0.61"/>
<circle cx="46.7" cy="322.1" r="0.40" fill="#4fe04f" fill-opacity="0.42"/>
<circle cx="52.1" cy="320.1" r="0.75" fill="#4fe04f" fill-opacity="0.60"/>
<circle cx="48.7" cy="326.3" r="0.36" fill="#4fe04f" fill-opacity="0.46"/>
<circle cx="55.8" cy="329.7" r="0.57" fill="#4fe04f" fill-opacity="0.59"/>
<circle cx="55.3" cy="328.7" r="0.71" fill="#4fe04f" fill-opacity="0.86"/>
<circle cx="57.2" cy="332.8" r="0.65" fill="#4fe04f" fill-opacity="0.65"/>
<circle cx="50.3" cy="327.8" r="0.59" fill="#4fe04f" fill-opacity="0.85"/>
<circle cx="54.8" cy="330.2" r="0.62" fill="#4fe04f" fill-opacity="0.90"/>
<circle cx="40.5" cy="322.3" r="0.52" fill="#4fe04f" fill-opacity="0.92"/>
<circle cx="42.5" cy="324.4" r="0.41" fill="#4fe04f" fill-opacity="0.81"/>
<circle cx="48.5" cy="329.5" r="0.49" fill="#4fe04f" fill-opacity="0.89"/>
<circle cx="53.0" cy="333.4" r="0.70" fill="#4fe04f" fill-opacity="0.55"/>
<circle cx="40.0" cy="325.6" r="0.68" fill="#4fe04f" fill-opacity="0.43"/>
<circle cx="59.1" cy="330.6" r="0.37" fill="#4fe04f" fill-opacity="0.66"/>
<circle cx="48.6" cy="320.0" r="0.75" fill="#4fe04f" fill-opacity="0.91"/>
<circle cx="42.3" cy="322.6" r="0.47" fill="#4fe04f" fill-opacity="0.77"/>
<circle cx="42.6" cy="321.0" r="0.53" fill="#4fe04f" fill-opacity="0.66"/>
<circle cx="48.1" cy="327.2" r="0.77" fill="#4fe04f" fill-opacity="0.91"/>
<circle cx="45.5" cy="320.8" r="0.56" fill="#4fe04f" fill-opacity="0.75"/>
<circle cx="53.1" cy="325.5" r="0.80" fill="#4fe04f" fill-opacity="0.57"/>
<circle cx="42.6" cy="327.0" r="0.73" fill="#4fe04f" fill-opacity="0.42"/>
<circle cx="45.7" cy="320.9" r="0.70" fill="#4fe04f" fill-opacity="0.89"/>
<circle cx="47.0" cy="319.3" r="0.79" fill="#4fe04f" fill-opacity="0.93"/>
<circle cx="54.8" cy="328.0" r="0.69" fill="#4fe04f" fill-opacity="0.82"/>
<circle cx="51.4" cy="323.6" r="0.59" fill="#4fe04f" fill-opacity="0.76"/>
<circle cx="45.5" cy="326.8" r="0.42" fill="#4fe04f" fill-opacity="0.93"/>
</g>
<ellipse cx="50.1" cy="329.0" rx="7.3" ry="4.6" fill="#2b2ff2" filter="url(#bl2)" transform="rotate(40 50.1 329.0)"/>
</g>
<g clip-path="url(#clip4)">
<ellipse cx="101" cy="331" rx="9.5" ry="6" fill="#186a1c" opacity="0.55" filter="url(#bl3)"/>
<ellipse cx="101.5" cy="331" rx="6" ry="4.6" fill="#2fae31" opacity="0.6" filter="url(#bl1)"/>
<g filter="url(#bl5)">
<circle cx="95.0" cy="327.9" r="0.83" fill="#2fae31" fill-opacity="0.92"/>
<circle cx="104.9" cy="334.6" r="0.63" fill="#2fae31" fill-opacity="0.44"/>
<circle cx="103.1" cy="334.8" r="0.77" fill="#2fae31" fill-opacity="0.42"/>
<circle cx="92.7" cy="333.6" r="0.59" fill="#2fae31" fill-opacity="0.89"/>
<circle cx="107.2" cy="330.4" r="0.69" fill="#2fae31" fill-opacity="0.77"/>
<circle cx="102.5" cy="329.5" r="0.67" fill="#2fae31" fill-opacity="0.44"/>
<circle cx="105.7" cy="333.5" r="0.75" fill="#2fae31" fill-opacity="0.65"/>
<circle cx="94.9" cy="330.5" r="0.69" fill="#2fae31" fill-opacity="0.70"/>
<circle cx="97.9" cy="328.1" r="0.46" fill="#2fae31" fill-opacity="0.52"/>
<circle cx="98.2" cy="333.2" r="0.81" fill="#2fae31" fill-opacity="0.77"/>
<circle cx="101.2" cy="333.6" r="0.66" fill="#2fae31" fill-opacity="0.59"/>
<circle cx="97.0" cy="326.2" r="0.68" fill="#2fae31" fill-opacity="0.43"/>
<circle cx="102.3" cy="335.6" r="0.68" fill="#2fae31" fill-opacity="0.73"/>
<circle cx="98.9" cy="325.6" r="0.66" fill="#2fae31" fill-opacity="0.75"/>
<circle cx="105.2" cy="332.3" r="0.53" fill="#2fae31" fill-opacity="0.40"/>
<circle cx="104.7" cy="332.4" r="0.84" fill="#2fae31" fill-opacity="0.73"/>
<circle cx="105.0" cy="334.0" r="0.85" fill="#2fae31" fill-opacity="0.65"/>
<circle cx="105.7" cy="329.8" r="0.36" fill="#2fae31" fill-opacity="0.58"/>
<circle cx="97.9" cy="328.5" r="0.70" fill="#2fae31" fill-opacity="0.45"/>
<circle cx="96.5" cy="329.8" r="0.41" fill="#2fae31" fill-opacity="0.73"/>
<circle cx="98.3" cy="334.4" r="0.52" fill="#2fae31" fill-opacity="0.94"/>
<circle cx="94.8" cy="331.3" r="0.46" fill="#2fae31" fill-opacity="0.41"/>
<circle cx="96.4" cy="335.4" r="0.50" fill="#2fae31" fill-opacity="0.67"/>
<circle cx="99.9" cy="328.4" r="0.62" fill="#2fae31" fill-opacity="0.44"/>
<circle cx="97.2" cy="328.6" r="0.76" fill="#2fae31" fill-opacity="0.82"/>
<circle cx="102.6" cy="332.1" r="0.78" fill="#2fae31" fill-opacity="0.81"/>
<circle cx="103.4" cy="334.8" r="0.84" fill="#2fae31" fill-opacity="0.83"/>
<circle cx="94.2" cy="331.8" r="0.66" fill="#2fae31" fill-opacity="0.73"/>
<circle cx="99.7" cy="328.4" r="0.84" fill="#2fae31" fill-opacity="0.61"/>
<circle cx="92.8" cy="332.9" r="0.48" fill="#2fae31" fill-opacity="0.52"/>
<circle cx="96.4" cy="332.2" r="0.51" fill="#2fae31" fill-opacity="0.77"/>
<circle cx="95.6" cy="334.6" r="0.39" fill="#2fae31" fill-opacity="0.72"/>
<circle cx="102.9" cy="331.3" r="0.35" fill="#2fae31" fill-opacity="0.84"/>
<circle cx="104.5" cy="331.0" r="0.57" fill="#2fae31" fill-opacity="0.42"/>
<circle cx="99.9" cy="335.8" r="0.69" fill="#2fae31" fill-opacity="0.46"/>
<circle cx="102.9" cy="333.3" r="0.51" fill="#2fae31" fill-opacity="0.82"/>
<circle cx="100.7" cy="330.0" r="0.61" fill="#2fae31" fill-opacity="0.55"/>
<circle cx="96.2" cy="335.4" r="0.52" fill="#2fae31" fill-opacity="0.82"/>
<circle cx="97.4" cy="327.5" r="0.35" fill="#2fae31" fill-opacity="0.93"/>
<circle cx="100.9" cy="326.1" r="0.43" fill="#2fae31" fill-opacity="0.43"/>
<circle cx="101.3" cy="332.4" r="0.83" fill="#2fae31" fill-opacity="0.56"/>
<circle cx="95.3" cy="327.9" r="0.42" fill="#2fae31" fill-opacity="0.42"/>
<circle cx="99.4" cy="330.1" r="0.53" fill="#2fae31" fill-opacity="0.92"/>
<circle cx="96.6" cy="334.7" r="0.62" fill="#2fae31" fill-opacity="0.46"/>
<circle cx="92.2" cy="332.2" r="0.79" fill="#2fae31" fill-opacity="0.43"/>
<circle cx="102.7" cy="328.0" r="0.69" fill="#2fae31" fill-opacity="0.86"/>
<circle cx="103.0" cy="328.1" r="0.43" fill="#2fae31" fill-opacity="0.93"/>
<circle cx="100.1" cy="326.0" r="0.53" fill="#2fae31" fill-opacity="0.90"/>
<circle cx="92.7" cy="328.7" r="0.37" fill="#2fae31" fill-opacity="0.88"/>
<circle cx="97.2" cy="326.3" r="0.53" fill="#2fae31" fill-opacity="0.51"/>
<circle cx="98.5" cy="332.3" r="0.68" fill="#2fae31" fill-opacity="0.45"/>
<circle cx="100.0" cy="326.0" r="0.57" fill="#2fae31" fill-opacity="0.84"/>
<circle cx="95.8" cy="334.6" r="0.47" fill="#2fae31" fill-opacity="0.62"/>
<circle cx="100.3" cy="331.4" r="0.71" fill="#2fae31" fill-opacity="0.92"/>
<circle cx="102.5" cy="327.9" r="0.45" fill="#2fae31" fill-opacity="0.66"/>
<circle cx="96.1" cy="331.6" r="0.39" fill="#2fae31" fill-opacity="0.78"/>
<circle cx="98.2" cy="326.0" r="0.41" fill="#2fae31" fill-opacity="0.91"/>
<circle cx="97.8" cy="336.4" r="0.44" fill="#2fae31" fill-opacity="0.80"/>
<circle cx="101.2" cy="330.7" r="0.41" fill="#2fae31" fill-opacity="0.75"/>
<circle cx="101.0" cy="332.6" r="0.75" fill="#2fae31" fill-opacity="0.85"/>
<circle cx="93.8" cy="328.8" r="0.42" fill="#2fae31" fill-opacity="0.67"/>
<circle cx="102.3" cy="334.5" r="0.59" fill="#2fae31" fill-opacity="0.90"/>
<circle cx="104.7" cy="334.7" r="0.75" fill="#2fae31" fill-opacity="0.52"/>
<circle cx="97.1" cy="326.0" r="0.73" fill="#2fae31" fill-opacity="0.66"/>
<circle cx="98.4" cy="335.1" r="0.83" fill="#2fae31" fill-opacity="0.82"/>
<circle cx="95.9" cy="332.3" r="0.38" fill="#2fae31" fill-opacity="0.77"/>
<circle cx="106.6" cy="331.1" r="0.42" fill="#2fae31" fill-opacity="0.71"/>
<circle cx="92.7" cy="330.6" r="0.39" fill="#2fae31" fill-opacity="0.63"/>
<circle cx="104.5" cy="333.7" r="0.78" fill="#2fae31" fill-opacity="0.65"/>
<circle cx="98.6" cy="326.0" r="0.74" fill="#2fae31" fill-opacity="0.71"/>
<circle cx="98.1" cy="327.0" r="0.58" fill="#2fae31" fill-opacity="0.43"/>
<circle cx="98.3" cy="326.9" r="0.76" fill="#2fae31" fill-opacity="0.74"/>
<circle cx="105.2" cy="331.6" r="0.43" fill="#2fae31" fill-opacity="0.55"/>
<circle cx="104.8" cy="332.0" r="0.67" fill="#2fae31" fill-opacity="0.75"/>
<circle cx="98.4" cy="334.9" r="0.82" fill="#2fae31" fill-opacity="0.73"/>
<circle cx="100.4" cy="330.0" r="0.82" fill="#2fae31" fill-opacity="0.51"/>
<circle cx="91.9" cy="331.9" r="0.47" fill="#2fae31" fill-opacity="0.74"/>
<circle cx="105.9" cy="333.8" r="0.49" fill="#2fae31" fill-opacity="0.73"/>
<circle cx="96.2" cy="333.9" r="0.48" fill="#2fae31" fill-opacity="0.88"/>
<circle cx="102.3" cy="335.4" r="0.52" fill="#2fae31" fill-opacity="0.92"/>
<circle cx="100.8" cy="328.3" r="0.67" fill="#2fae31" fill-opacity="0.57"/>
<circle cx="101.2" cy="328.1" r="0.40" fill="#2fae31" fill-opacity="0.83"/>
<circle cx="93.9" cy="333.9" r="0.49" fill="#2fae31" fill-opacity="0.60"/>
<circle cx="101.1" cy="335.9" r="0.66" fill="#2fae31" fill-opacity="0.72"/>
<circle cx="96.8" cy="329.6" r="0.63" fill="#2fae31" fill-opacity="0.54"/>
<circle cx="101.7" cy="335.1" r="0.71" fill="#2fae31" fill-opacity="0.52"/>
<circle cx="92.1" cy="329.5" r="0.57" fill="#2fae31" fill-opacity="0.87"/>
<circle cx="100.2" cy="331.2" r="0.65" fill="#2fae31" fill-opacity="0.70"/>
<circle cx="102.3" cy="331.6" r="0.63" fill="#2fae31" fill-opacity="0.53"/>
<circle cx="93.6" cy="330.3" r="0.79" fill="#2fae31" fill-opacity="0.92"/>
<circle cx="96.3" cy="331.8" r="0.61" fill="#2fae31" fill-opacity="0.65"/>
<circle cx="94.5" cy="334.2" r="0.39" fill="#2fae31" fill-opacity="0.53"/>
<circle cx="96.0" cy="327.7" r="0.45" fill="#2fae31" fill-opacity="0.44"/>
<circle cx="99.9" cy="327.3" r="0.67" fill="#2fae31" fill-opacity="0.73"/>
<circle cx="101.4" cy="330.8" r="0.66" fill="#2fae31" fill-opacity="0.56"/>
<circle cx="98.9" cy="333.1" r="0.46" fill="#2fae31" fill-opacity="0.80"/>
<circle cx="100.8" cy="336.3" r="0.66" fill="#2fae31" fill-opacity="0.70"/>
<circle cx="103.7" cy="328.6" r="0.54" fill="#2fae31" fill-opacity="0.64"/>
<circle cx="103.2" cy="333.5" r="0.44" fill="#2fae31" fill-opacity="0.92"/>
<circle cx="107.0" cy="330.9" r="0.85" fill="#2fae31" fill-opacity="0.74"/>
<circle cx="97.7" cy="326.4" r="0.36" fill="#2fae31" fill-opacity="0.73"/>
<circle cx="102.9" cy="332.3" r="0.74" fill="#2fae31" fill-opacity="0.64"/>
<circle cx="103.3" cy="332.2" r="0.67" fill="#2fae31" fill-opacity="0.70"/>
<circle cx="102.1" cy="331.7" r="0.40" fill="#2fae31" fill-opacity="0.77"/>
<circle cx="102.7" cy="330.2" r="0.83" fill="#2fae31" fill-opacity="0.66"/>
<circle cx="94.3" cy="331.1" r="0.53" fill="#2fae31" fill-opacity="0.49"/>
<circle cx="102.8" cy="327.3" r="0.61" fill="#2fae31" fill-opacity="0.95"/>
<circle cx="105.9" cy="330.4" r="0.67" fill="#2fae31" fill-opacity="0.65"/>
<circle cx="94.3" cy="329.4" r="0.57" fill="#2fae31" fill-opacity="0.88"/>
<circle cx="93.5" cy="331.4" r="0.59" fill="#2fae31" fill-opacity="0.70"/>
<circle cx="121.3" cy="335.9" r="0.50" fill="#2fae31" fill-opacity="0.68"/>
<circle cx="119.6" cy="334.3" r="0.60" fill="#2fae31" fill-opacity="0.65"/>
<circle cx="113.9" cy="334.8" r="0.57" fill="#2fae31" fill-opacity="0.42"/>
<circle cx="115.3" cy="333.4" r="0.55" fill="#2fae31" fill-opacity="0.47"/>
<circle cx="119.7" cy="334.3" r="0.63" fill="#2fae31" fill-opacity="0.49"/>
<circle cx="121.2" cy="336.7" r="0.46" fill="#2fae31" fill-opacity="0.69"/>
<circle cx="119.1" cy="334.4" r="0.46" fill="#2fae31" fill-opacity="0.59"/>
<circle cx="117.7" cy="335.6" r="0.47" fill="#2fae31" fill-opacity="0.64"/>
<circle cx="115.9" cy="336.0" r="0.55" fill="#2fae31" fill-opacity="0.46"/>
<circle cx="119.2" cy="335.2" r="0.60" fill="#2fae31" fill-opacity="0.52"/>
<circle cx="121.8" cy="334.7" r="0.36" fill="#2fae31" fill-opacity="0.37"/>
<circle cx="118.2" cy="336.3" r="0.36" fill="#2fae31" fill-opacity="0.37"/>
<circle cx="116.7" cy="334.6" r="0.79" fill="#2fae31" fill-opacity="0.56"/>
<circle cx="121.9" cy="336.0" r="0.76" fill="#2fae31" fill-opacity="0.57"/>
<circle cx="116.0" cy="334.0" r="0.57" fill="#2fae31" fill-opacity="0.34"/>
<circle cx="122.7" cy="335.7" r="0.44" fill="#2fae31" fill-opacity="0.50"/>
<circle cx="121.7" cy="334.6" r="0.61" fill="#2fae31" fill-opacity="0.34"/>
<circle cx="116.2" cy="333.3" r="0.58" fill="#2fae31" fill-opacity="0.58"/>
</g>
<circle cx="96.5" cy="329.8" r="1.0" fill="#04100a" opacity="0.9"/>
<circle cx="100.3" cy="333.5" r="0.9" fill="#04100a" opacity="0.9"/>
<circle cx="94.8" cy="333.6" r="0.7" fill="#04100a" opacity="0.9"/>
<circle cx="101.8" cy="327.8" r="0.8" fill="#04100a" opacity="0.9"/>
<ellipse cx="110.2" cy="331.9" rx="6.2" ry="5.8" fill="#2b2ff2" filter="url(#bl2)"/>
</g>
<g clip-path="url(#clip5)">
<ellipse cx="190.5" cy="317.5" rx="14" ry="9" fill="#186a1c" opacity="0.5" filter="url(#bl3)" transform="rotate(-15 190.5 317.5)"/>
<ellipse cx="192.2" cy="315.8" rx="10" ry="7" fill="#2fae31" opacity="0.85" filter="url(#bl1)" transform="rotate(-10 192.2 315.8)"/>
<ellipse cx="190.2" cy="320.2" rx="8.6" ry="4.4" fill="#4fe04f" opacity="0.95" filter="url(#bl1)" transform="rotate(-8 190.2 320.2)"/>
<g filter="url(#bl5)">
<path d="M192.0 323.7 L190.5 325.5 L192.7 326.8 L193.3 327.2 L192.0 329.3" fill="none" stroke="#2fae31" stroke-width="0.71" stroke-opacity="0.28" stroke-linecap="round"/>
<path d="M194.3 323.0 L195.9 325.3 L198.4 324.9 L199.8 326.1 L199.1 330.5" fill="none" stroke="#2fae31" stroke-width="0.57" stroke-opacity="0.39" stroke-linecap="round"/>
<path d="M195.1 315.9 L198.0 316.4 L199.0 314.2 L201.5 313.1 L203.2 312.9" fill="none" stroke="#2fae31" stroke-width="0.69" stroke-opacity="0.23" stroke-linecap="round"/>
<path d="M188.7 319.8 L186.4 319.9 L184.4 322.0 L182.1 322.4 L182.5 325.4" fill="none" stroke="#2fae31" stroke-width="0.49" stroke-opacity="0.19" stroke-linecap="round"/>
<path d="M197.6 319.1 L199.2 320.4 L201.4 318.3 L202.7 321.3 L204.9 321.9" fill="none" stroke="#2fae31" stroke-width="0.47" stroke-opacity="0.17" stroke-linecap="round"/>
<path d="M193.2 322.7 L193.0 324.9 L194.7 326.6 L194.0 328.1 L194.9 328.4" fill="none" stroke="#2fae31" stroke-width="0.66" stroke-opacity="0.22" stroke-linecap="round"/>
<path d="M186.6 314.5 L186.8 312.9 L184.0 312.8 L184.0 311.4 L183.3 309.9" fill="none" stroke="#2fae31" stroke-width="0.58" stroke-opacity="0.28" stroke-linecap="round"/>
<path d="M188.9 315.2 L186.4 312.9 L186.7 310.5 L186.9 308.6 L181.5 308.4" fill="none" stroke="#2fae31" stroke-width="0.43" stroke-opacity="0.24" stroke-linecap="round"/>
<path d="M196.2 316.5 L197.4 314.0 L200.0 315.8 L200.5 311.5 L203.7 313.7" fill="none" stroke="#2fae31" stroke-width="0.57" stroke-opacity="0.43" stroke-linecap="round"/>
<path d="M189.1 313.1 L190.8 311.0 L188.4 309.1 L188.1 307.1 L190.7 303.9" fill="none" stroke="#2fae31" stroke-width="0.59" stroke-opacity="0.29" stroke-linecap="round"/>
<path d="M187.6 321.8 L187.6 322.8 L186.0 323.2 L187.4 324.6 L184.3 325.1" fill="none" stroke="#2fae31" stroke-width="0.67" stroke-opacity="0.20" stroke-linecap="round"/>
<path d="M190.3 315.2 L189.7 312.9 L190.8 311.8 L190.5 310.2 L191.2 308.2" fill="none" stroke="#2fae31" stroke-width="0.77" stroke-opacity="0.27" stroke-linecap="round"/>
<path d="M189.4 316.2 L187.1 315.3 L186.3 314.8 L183.8 314.0 L182.5 312.6" fill="none" stroke="#2fae31" stroke-width="0.58" stroke-opacity="0.23" stroke-linecap="round"/>
<path d="M189.0 325.7 L185.9 324.8 L186.9 326.3 L186.2 326.0 L188.2 327.4" fill="none" stroke="#2fae31" stroke-width="0.51" stroke-opacity="0.18" stroke-linecap="round"/>
<path d="M195.3 318.5 L197.4 318.0 L200.4 318.8 L201.6 319.1 L203.2 322.2" fill="none" stroke="#2fae31" stroke-width="0.44" stroke-opacity="0.28" stroke-linecap="round"/>
<path d="M189.3 317.7 L187.5 317.1 L185.1 316.9 L184.5 315.7 L182.0 317.0" fill="none" stroke="#2fae31" stroke-width="0.59" stroke-opacity="0.24" stroke-linecap="round"/>
<path d="M191.0 312.4 L191.8 312.4 L193.3 310.8 L192.7 309.6 L193.2 308.6" fill="none" stroke="#2fae31" stroke-width="0.54" stroke-opacity="0.35" stroke-linecap="round"/>
<path d="M191.5 322.2 L191.6 324.1 L191.7 326.1 L193.2 327.0 L194.6 327.5" fill="none" stroke="#2fae31" stroke-width="0.59" stroke-opacity="0.23" stroke-linecap="round"/>
<path d="M185.4 315.1 L184.3 314.9 L181.7 314.4 L179.1 315.8 L177.5 313.4" fill="none" stroke="#2fae31" stroke-width="0.73" stroke-opacity="0.35" stroke-linecap="round"/>
<path d="M194.2 324.4 L194.6 324.4 L196.1 325.1 L196.2 325.4 L195.7 326.5" fill="none" stroke="#2fae31" stroke-width="0.59" stroke-opacity="0.37" stroke-linecap="round"/>
<path d="M191.5 314.6 L190.4 312.8 L191.5 312.2 L189.1 311.3 L188.4 309.6" fill="none" stroke="#2fae31" stroke-width="0.74" stroke-opacity="0.34" stroke-linecap="round"/>
<path d="M191.3 319.7 L190.3 322.4 L193.3 324.9 L194.1 328.7 L193.2 331.7" fill="none" stroke="#2fae31" stroke-width="0.79" stroke-opacity="0.42" stroke-linecap="round"/>
<path d="M189.6 317.4 L187.4 316.0 L184.3 315.6 L182.6 313.2 L180.8 310.8" fill="none" stroke="#2fae31" stroke-width="0.41" stroke-opacity="0.33" stroke-linecap="round"/>
<path d="M186.3 311.7 L185.0 311.2 L183.1 312.4 L183.1 309.8 L183.9 309.7" fill="none" stroke="#2fae31" stroke-width="0.71" stroke-opacity="0.17" stroke-linecap="round"/>
<path d="M189.1 321.5 L189.2 323.1 L189.5 325.1 L190.9 326.6 L189.4 327.3" fill="none" stroke="#2fae31" stroke-width="0.59" stroke-opacity="0.26" stroke-linecap="round"/>
<path d="M185.7 315.2 L184.9 315.6 L184.8 313.9 L184.9 311.9 L182.4 313.2" fill="none" stroke="#2fae31" stroke-width="0.47" stroke-opacity="0.18" stroke-linecap="round"/>
</g>
<ellipse cx="193.2" cy="314.2" rx="8.0" ry="5.4" fill="#2b2ff2" filter="url(#bl2)" transform="rotate(-6 193.2 314.2)"/>
</g>
<text transform="translate(18.90,222.40)" font-size="10.1" text-anchor="start" font-weight="normal" fill="#f6f6f6">AIFM2</text>
<text transform="translate(90.60,222.40)" font-size="10.1" text-anchor="start" font-weight="normal" fill="#f6f6f6">COX7B2</text>
<text transform="translate(165.40,220.60)" font-size="10.1" text-anchor="start" font-weight="normal" fill="#f6f6f6">MRPL39</text>
<text transform="translate(20.60,294.80)" font-size="10.1" text-anchor="start" font-weight="normal" fill="#f6f6f6">APOOL</text>
<text transform="translate(94.50,294.10)" font-size="10.1" text-anchor="start" font-weight="normal" fill="#f6f6f6">CPT1B</text>
<text transform="translate(164.40,293.20)" font-size="10.1" text-anchor="start" font-weight="normal" fill="#f6f6f6">PLGRKT</text>
<text transform="translate(75.20,230.60)" font-size="6.9" text-anchor="end" font-weight="normal" fill="#2e60c6">Hoechst</text>
<text transform="translate(75.20,238.90)" font-size="6.8" text-anchor="end" font-weight="normal" fill="#2fae3a">MitoTracker</text>
<text transform="translate(207.40,333.40)" font-size="7.4" text-anchor="middle" font-weight="normal" fill="#f6f6f6">50 µm</text>
<rect x="188.2" y="336.9" width="31.2" height="3.1" fill="#fff"/>
<text transform="translate(9.60,201.80)" font-size="20.5" text-anchor="start" font-weight="bold" fill="#000">b.</text>
<rect x="262.20" y="323.20" width="5.2" height="7.10" fill="#ececec" stroke="#a8a8a8" stroke-width="0.5"/>
<text transform="translate(267.10,331.60) rotate(-90)" font-size="6.5" text-anchor="end" font-weight="normal" fill="#000" textLength="26.6" lengthAdjust="spacingAndGlyphs">NMNAT3</text>
<rect x="268.70" y="321.40" width="5.2" height="8.90" fill="#ececec" stroke="#a8a8a8" stroke-width="0.5"/>
<text transform="translate(273.61,331.60) rotate(-90)" font-size="6.5" text-anchor="end" font-weight="normal" fill="#000" textLength="16.5" lengthAdjust="spacingAndGlyphs">PDK3</text>
<rect x="275.21" y="319.20" width="5.2" height="11.10" fill="#ececec" stroke="#a8a8a8" stroke-width="0.5"/>
<text transform="translate(280.11,331.60) rotate(-90)" font-size="6.5" text-anchor="end" font-weight="normal" fill="#000" textLength="23.9" lengthAdjust="spacingAndGlyphs">SLC8B1</text>
<rect x="281.71" y="315.80" width="5.2" height="14.50" fill="#3fc650" stroke="#35b045" stroke-width="0.5"/>
<text transform="translate(286.62,331.60) rotate(-90)" font-size="6.5" text-anchor="end" font-weight="normal" fill="#000" textLength="32.7" lengthAdjust="spacingAndGlyphs">NonTarget</text>
<rect x="288.22" y="313.10" width="5.2" height="17.20" fill="#ececec" stroke="#a8a8a8" stroke-width="0.5"/>
<text transform="translate(293.12,331.60) rotate(-90)" font-size="6.5" text-anchor="end" font-weight="normal" fill="#000" textLength="22.3" lengthAdjust="spacingAndGlyphs">BRI3BP</text>
<rect x="294.72" y="312.60" width="5.2" height="17.70" fill="#ececec" stroke="#a8a8a8" stroke-width="0.5"/>
<text transform="translate(299.62,331.60) rotate(-90)" font-size="6.5" text-anchor="end" font-weight="normal" fill="#000" textLength="17.9" lengthAdjust="spacingAndGlyphs">DMPK</text>
<rect x="301.23" y="311.50" width="5.2" height="18.80" fill="#9dc3e6" stroke="#8ab0d2" stroke-width="0.5"/>
<text transform="translate(306.13,331.60) rotate(-90)" font-size="6.5" text-anchor="end" font-weight="normal" fill="#000" textLength="24.5" lengthAdjust="spacingAndGlyphs">ATP5G3</text>
<rect x="307.74" y="307.50" width="5.2" height="22.80" fill="#ececec" stroke="#a8a8a8" stroke-width="0.5"/>
<text transform="translate(312.64,331.60) rotate(-90)" font-size="6.5" text-anchor="end" font-weight="normal" fill="#000" textLength="20.7" lengthAdjust="spacingAndGlyphs">RARS2</text>
<rect x="314.24" y="305.40" width="5.2" height="24.90" fill="#ececec" stroke="#a8a8a8" stroke-width="0.5"/>
<polygon points="316.84,300.15 317.37,301.57 318.88,301.64 317.70,302.58 318.10,304.04 316.84,303.20 315.58,304.04 315.98,302.58 314.80,301.64 316.31,301.57" fill="#111"/>
<text transform="translate(319.14,331.60) rotate(-90)" font-size="6.5" text-anchor="end" font-weight="normal" fill="#000" textLength="27.7" lengthAdjust="spacingAndGlyphs">DNAJC28</text>
<rect x="320.75" y="304.30" width="5.2" height="26.00" fill="#ececec" stroke="#a8a8a8" stroke-width="0.5"/>
<text transform="translate(325.65,331.60) rotate(-90)" font-size="6.5" text-anchor="end" font-weight="normal" fill="#000" textLength="18.9" lengthAdjust="spacingAndGlyphs">AIFM1</text>
<rect x="327.25" y="303.30" width="5.2" height="27.00" fill="#ececec" stroke="#a8a8a8" stroke-width="0.5"/>
<polygon points="329.85,298.05 330.38,299.47 331.89,299.54 330.71,300.48 331.11,301.94 329.85,301.10 328.59,301.94 328.99,300.48 327.81,299.54 329.32,299.47" fill="#111"/>
<text transform="translate(332.15,331.60) rotate(-90)" font-size="6.5" text-anchor="end" font-weight="normal" fill="#000" textLength="16.6" lengthAdjust="spacingAndGlyphs">KARS</text>
<rect x="333.75" y="301.70" width="5.2" height="28.60" fill="#ececec" stroke="#a8a8a8" stroke-width="0.5"/>
<polygon points="336.36,296.45 336.89,297.87 338.40,297.94 337.21,298.88 337.62,300.34 336.36,299.50 335.09,300.34 335.50,298.88 334.31,297.94 335.82,297.87" fill="#111"/>
<text transform="translate(338.66,331.60) rotate(-90)" font-size="6.5" text-anchor="end" font-weight="normal" fill="#000" textLength="16.4" lengthAdjust="spacingAndGlyphs">CRY1</text>
<rect x="340.26" y="301.40" width="5.2" height="28.90" fill="#ececec" stroke="#a8a8a8" stroke-width="0.5"/>
<polygon points="342.86,296.15 343.39,297.57 344.90,297.64 343.72,298.58 344.12,300.04 342.86,299.20 341.60,300.04 342.00,298.58 340.82,297.64 342.33,297.57" fill="#111"/>
<text transform="translate(345.16,331.60) rotate(-90)" font-size="6.5" text-anchor="end" font-weight="normal" fill="#000" textLength="21.0" lengthAdjust="spacingAndGlyphs">PCBD2</text>
<rect x="346.76" y="298.70" width="5.2" height="31.60" fill="#ececec" stroke="#a8a8a8" stroke-width="0.5"/>
<polygon points="349.37,293.45 349.90,294.87 351.41,294.94 350.22,295.88 350.63,297.34 349.37,296.50 348.10,297.34 348.51,295.88 347.32,294.94 348.83,294.87" fill="#111"/>
<text transform="translate(351.67,331.60) rotate(-90)" font-size="6.5" text-anchor="end" font-weight="normal" fill="#000" textLength="21.0" lengthAdjust="spacingAndGlyphs">ASAH2</text>
<rect x="353.27" y="298.50" width="5.2" height="31.80" fill="#9dc3e6" stroke="#8ab0d2" stroke-width="0.5"/>
<polygon points="355.87,293.25 356.40,294.67 357.91,294.74 356.73,295.68 357.13,297.14 355.87,296.30 354.61,297.14 355.01,295.68 353.83,294.74 355.34,294.67" fill="#111"/>
<text transform="translate(358.17,331.60) rotate(-90)" font-size="6.5" text-anchor="end" font-weight="normal" fill="#000" textLength="23.8" lengthAdjust="spacingAndGlyphs">PRSS35</text>
<rect x="359.77" y="297.70" width="5.2" height="32.60" fill="#ececec" stroke="#a8a8a8" stroke-width="0.5"/>
<polygon points="362.38,292.45 362.91,293.87 364.42,293.94 363.23,294.88 363.64,296.34 362.38,295.50 361.11,296.34 361.52,294.88 360.33,293.94 361.84,293.87" fill="#111"/>
<text transform="translate(364.68,331.60) rotate(-90)" font-size="6.5" text-anchor="end" font-weight="normal" fill="#000" textLength="34.5" lengthAdjust="spacingAndGlyphs">TMEM126B</text>
<rect x="366.28" y="297.40" width="5.2" height="32.90" fill="#ececec" stroke="#a8a8a8" stroke-width="0.5"/>
<polygon points="368.88,292.15 369.41,293.57 370.92,293.64 369.74,294.58 370.14,296.04 368.88,295.20 367.62,296.04 368.02,294.58 366.84,293.64 368.35,293.57" fill="#111"/>
<text transform="translate(371.18,331.60) rotate(-90)" font-size="6.5" text-anchor="end" font-weight="normal" fill="#000" textLength="28.6" lengthAdjust="spacingAndGlyphs">RNF144B</text>
<rect x="372.78" y="295.30" width="5.2" height="35.00" fill="#c55a11" stroke="#b65310" stroke-width="0.5"/>
<polygon points="375.38,290.05 375.92,291.47 377.43,291.54 376.24,292.48 376.65,293.94 375.38,293.10 374.12,293.94 374.53,292.48 373.34,291.54 374.85,291.47" fill="#111"/>
<text transform="translate(377.69,331.60) rotate(-90)" font-size="6.5" text-anchor="end" font-weight="normal" fill="#000" textLength="29.3" lengthAdjust="spacingAndGlyphs">NDUFAF7</text>
<rect x="379.29" y="295.30" width="5.2" height="35.00" fill="#ececec" stroke="#a8a8a8" stroke-width="0.5"/>
<polygon points="381.89,290.05 382.42,291.47 383.93,291.54 382.75,292.48 383.15,293.94 381.89,293.10 380.63,293.94 381.03,292.48 379.85,291.54 381.36,291.47" fill="#111"/>
<text transform="translate(384.19,331.60) rotate(-90)" font-size="6.5" text-anchor="end" font-weight="normal" fill="#000" textLength="24.7" lengthAdjust="spacingAndGlyphs">MRPL45</text>
<rect x="385.79" y="295.30" width="5.2" height="35.00" fill="#c55a11" stroke="#b65310" stroke-width="0.5"/>
<rect x="385.79" y="318.7" width="5.2" height="11.60" fill="#843c0c"/>
<polygon points="388.39,290.05 388.93,291.47 390.44,291.54 389.25,292.48 389.66,293.94 388.39,293.10 387.13,293.94 387.54,292.48 386.35,291.54 387.86,291.47" fill="#111"/>
<text transform="translate(390.69,331.60) rotate(-90)" font-size="6.5" text-anchor="end" font-weight="normal" fill="#000" textLength="25.4" lengthAdjust="spacingAndGlyphs">NDUFS5</text>
<rect x="392.30" y="287.80" width="5.2" height="42.50" fill="#ececec" stroke="#a8a8a8" stroke-width="0.5"/>
<polygon points="394.90,282.55 395.43,283.97 396.94,284.04 395.76,284.98 396.16,286.44 394.90,285.60 393.64,286.44 394.04,284.98 392.86,284.04 394.37,283.97" fill="#111"/>
<text transform="translate(397.20,331.60) rotate(-90)" font-size="6.5" text-anchor="end" font-weight="normal" fill="#000" textLength="22.6" lengthAdjust="spacingAndGlyphs">OGDHL</text>
<rect x="398.80" y="286.80" width="5.2" height="43.50" fill="#ececec" stroke="#a8a8a8" stroke-width="0.5"/>
<polygon points="401.40,281.55 401.94,282.97 403.45,283.04 402.26,283.98 402.67,285.44 401.40,284.60 400.14,285.44 400.55,283.98 399.36,283.04 400.87,282.97" fill="#111"/>
<text transform="translate(403.70,331.60) rotate(-90)" font-size="6.5" text-anchor="end" font-weight="normal" fill="#000" textLength="25.0" lengthAdjust="spacingAndGlyphs">STARD3</text>
<rect x="405.31" y="286.50" width="5.2" height="43.80" fill="#ececec" stroke="#a8a8a8" stroke-width="0.5"/>
<polygon points="407.91,281.25 408.44,282.67 409.95,282.74 408.77,283.68 409.17,285.14 407.91,284.30 406.65,285.14 407.05,283.68 405.87,282.74 407.38,282.67" fill="#111"/>
<text transform="translate(410.21,331.60) rotate(-90)" font-size="6.5" text-anchor="end" font-weight="normal" fill="#000" textLength="28.3" lengthAdjust="spacingAndGlyphs">FASTKD5</text>
<rect x="411.81" y="285.40" width="5.2" height="44.90" fill="#ececec" stroke="#a8a8a8" stroke-width="0.5"/>
<polygon points="414.42,280.15 414.95,281.57 416.46,281.64 415.27,282.58 415.68,284.04 414.42,283.20 413.15,284.04 413.56,282.58 412.37,281.64 413.88,281.57" fill="#111"/>
<text transform="translate(416.72,331.60) rotate(-90)" font-size="6.5" text-anchor="end" font-weight="normal" fill="#000" textLength="24.3" lengthAdjust="spacingAndGlyphs">APOPT1</text>
<rect x="418.32" y="284.60" width="5.2" height="45.70" fill="#ececec" stroke="#a8a8a8" stroke-width="0.5"/>
<polygon points="420.92,279.35 421.45,280.77 422.96,280.84 421.78,281.78 422.18,283.24 420.92,282.40 419.66,283.24 420.06,281.78 418.88,280.84 420.39,280.77" fill="#111"/>
<text transform="translate(423.22,331.60) rotate(-90)" font-size="6.5" text-anchor="end" font-weight="normal" fill="#000" textLength="31.7" lengthAdjust="spacingAndGlyphs">SLC25A51</text>
<rect x="424.82" y="283.80" width="5.2" height="46.50" fill="#ececec" stroke="#a8a8a8" stroke-width="0.5"/>
<rect x="424.82" y="288" width="5.2" height="42.30" fill="#c9c9c9" stroke="#a8a8a8" stroke-width="0.5"/>
<polygon points="427.43,278.55 427.96,279.97 429.47,280.04 428.28,280.98 428.69,282.44 427.43,281.60 426.16,282.44 426.57,280.98 425.38,280.04 426.89,279.97" fill="#111"/>
<text transform="translate(429.73,331.60) rotate(-90)" font-size="6.5" text-anchor="end" font-weight="normal" fill="#000" textLength="29.2" lengthAdjust="spacingAndGlyphs">FAM195A</text>
<rect x="431.33" y="279.00" width="5.2" height="51.30" fill="#c55a11" stroke="#b65310" stroke-width="0.5"/>
<polygon points="433.93,273.75 434.46,275.17 435.97,275.24 434.79,276.18 435.19,277.64 433.93,276.80 432.67,277.64 433.07,276.18 431.89,275.24 433.40,275.17" fill="#111"/>
<text transform="translate(436.23,331.60) rotate(-90)" font-size="6.5" text-anchor="end" font-weight="normal" fill="#000" textLength="29.3" lengthAdjust="spacingAndGlyphs">NDUFAF4</text>
<rect x="437.83" y="268.80" width="5.2" height="61.50" fill="#ececec" stroke="#a8a8a8" stroke-width="0.5"/>
<polygon points="440.44,263.55 440.97,264.97 442.48,265.04 441.29,265.98 441.70,267.44 440.44,266.60 439.17,267.44 439.58,265.98 438.39,265.04 439.90,264.97" fill="#111"/>
<text transform="translate(442.74,331.60) rotate(-90)" font-size="6.5" text-anchor="end" font-weight="normal" fill="#000" textLength="28.2" lengthAdjust="spacingAndGlyphs">METTL17</text>
<rect x="444.34" y="265.80" width="5.2" height="64.50" fill="#767171" stroke="#6a6666" stroke-width="0.5"/>
<polygon points="446.94,260.55 447.47,261.97 448.98,262.04 447.80,262.98 448.20,264.44 446.94,263.60 445.68,264.44 446.08,262.98 444.90,262.04 446.41,261.97" fill="#111"/>
<text transform="translate(449.24,331.60) rotate(-90)" font-size="6.5" text-anchor="end" font-weight="normal" fill="#000" textLength="26.3" lengthAdjust="spacingAndGlyphs">TMEM11</text>
<rect x="450.85" y="256.60" width="5.2" height="73.70" fill="#ececec" stroke="#a8a8a8" stroke-width="0.5"/>
<polygon points="453.45,251.35 453.98,252.77 455.49,252.84 454.30,253.78 454.71,255.24 453.45,254.40 452.18,255.24 452.59,253.78 451.40,252.84 452.91,252.77" fill="#111"/>
<text transform="translate(455.75,331.60) rotate(-90)" font-size="6.5" text-anchor="end" font-weight="normal" fill="#000" textLength="9.8" lengthAdjust="spacingAndGlyphs">AIP</text>
<rect x="457.35" y="250.30" width="5.2" height="80.00" fill="#ff1e0e" stroke="#e81a0c" stroke-width="0.5"/>
<polygon points="459.95,245.05 460.48,246.47 461.99,246.54 460.81,247.48 461.21,248.94 459.95,248.10 458.69,248.94 459.09,247.48 457.91,246.54 459.42,246.47" fill="#111"/>
<text transform="translate(462.25,331.60) rotate(-90)" font-size="6.5" text-anchor="end" font-weight="normal" fill="#000" textLength="36.6" lengthAdjust="spacingAndGlyphs">MFN2 gRNA</text>
<rect x="463.86" y="228.00" width="5.2" height="102.30" fill="#767171" stroke="#6a6666" stroke-width="0.5"/>
<polygon points="466.46,222.75 466.99,224.17 468.50,224.24 467.31,225.18 467.72,226.64 466.46,225.80 465.19,226.64 465.60,225.18 464.41,224.24 465.92,224.17" fill="#111"/>
<text transform="translate(468.76,331.60) rotate(-90)" font-size="6.5" text-anchor="end" font-weight="normal" fill="#000" textLength="29.5" lengthAdjust="spacingAndGlyphs">MRPS18C</text>
<rect x="470.36" y="203.00" width="5.2" height="127.30" fill="#767171" stroke="#6a6666" stroke-width="0.5"/>
<polygon points="472.96,197.75 473.49,199.17 475.00,199.24 473.82,200.18 474.22,201.64 472.96,200.80 471.70,201.64 472.10,200.18 470.92,199.24 472.43,199.17" fill="#111"/>
<text transform="translate(475.26,331.60) rotate(-90)" font-size="6.5" text-anchor="end" font-weight="normal" fill="#000" textLength="24.5" lengthAdjust="spacingAndGlyphs">TIMM8A</text>
<line x1="260.4" y1="197.5" x2="260.4" y2="330.7" stroke="#444" stroke-width="0.9"/>
<line x1="260" y1="330.5" x2="482.6" y2="330.5" stroke="#444" stroke-width="0.9"/>
<text transform="translate(258.60,206.40)" font-size="8.0" text-anchor="end" font-weight="normal" fill="#111">0.03</text>
<text transform="translate(258.60,249.30)" font-size="8.0" text-anchor="end" font-weight="normal" fill="#111">0.02</text>
<text transform="translate(258.60,292.00)" font-size="8.0" text-anchor="end" font-weight="normal" fill="#111">0.01</text>
<text transform="translate(258.60,334.00)" font-size="8.0" text-anchor="end" font-weight="normal" fill="#111">0</text>
<text transform="translate(240.30,267.50) rotate(-90)" font-size="11.3" text-anchor="middle" font-weight="normal" fill="#111">Anomaly Score<tspan font-size="8" dy="2.2" dx="0.4">P</tspan></text>
<polygon points="269.60,203.30 270.17,204.82 271.79,204.89 270.52,205.90 270.95,207.46 269.60,206.57 268.25,207.46 268.68,205.90 267.41,204.89 269.03,204.82" fill="#111"/>
<text transform="translate(273.20,212.00)" font-size="7.2" text-anchor="start" font-weight="normal" fill="#111">p &lt; 0.001</text>
<text transform="translate(220.80,204.30)" font-size="20.5" text-anchor="start" font-weight="bold" fill="#000">d.</text>
<line x1="537.6" y1="42.5" x2="521.5" y2="64.5" stroke="#4f74d4" stroke-width="0.65"/>
<line x1="560" y1="85" x2="548.5" y2="107" stroke="#4f74d4" stroke-width="0.65"/>
<line x1="626.5" y1="77.6" x2="650.2" y2="80.4" stroke="#4f74d4" stroke-width="0.65"/>
<line x1="610.5" y1="117" x2="598" y2="150" stroke="#4f74d4" stroke-width="0.65"/>
<line x1="516.1" y1="249.6" x2="541.7" y2="259.6" stroke="#4f74d4" stroke-width="0.65"/>
<circle cx="568.7" cy="14.8" r="1.65" fill="#e49550"/>
<circle cx="575.7" cy="17.0" r="1.65" fill="#e49550"/>
<circle cx="573.9" cy="20.7" r="1.65" fill="#e49550"/>
<circle cx="576.1" cy="21.1" r="1.65" fill="#e49550"/>
<circle cx="578.9" cy="16.3" r="1.65" fill="#e49550"/>
<circle cx="565.2" cy="22.8" r="1.65" fill="#e49550"/>
<circle cx="566.3" cy="27.8" r="1.65" fill="#e49550"/>
<circle cx="568.0" cy="30.4" r="1.65" fill="#e49550"/>
<circle cx="567.0" cy="33.0" r="1.65" fill="#e49550"/>
<circle cx="568.7" cy="35.9" r="1.65" fill="#e49550"/>
<circle cx="567.6" cy="38.0" r="1.65" fill="#e49550"/>
<circle cx="562.6" cy="39.8" r="1.65" fill="#e49550"/>
<circle cx="577.8" cy="32.6" r="1.65" fill="#e49550"/>
<circle cx="580.0" cy="34.3" r="1.65" fill="#e49550"/>
<circle cx="578.9" cy="37.0" r="1.65" fill="#e49550"/>
<circle cx="582.2" cy="38.0" r="1.65" fill="#e49550"/>
<circle cx="585.4" cy="35.9" r="1.65" fill="#e49550"/>
<circle cx="587.6" cy="38.7" r="1.65" fill="#e49550"/>
<circle cx="577.4" cy="35.4" r="1.65" fill="#e49550"/>
<circle cx="522.4" cy="34.3" r="1.65" fill="#e49550"/>
<circle cx="521.3" cy="37.0" r="1.65" fill="#e49550"/>
<circle cx="524.6" cy="39.8" r="1.65" fill="#e49550"/>
<circle cx="523.0" cy="41.3" r="1.65" fill="#e49550"/>
<circle cx="525.7" cy="43.0" r="1.65" fill="#e49550"/>
<circle cx="527.8" cy="44.6" r="1.65" fill="#e49550"/>
<circle cx="525.2" cy="46.1" r="1.65" fill="#e49550"/>
<circle cx="530.0" cy="46.1" r="1.65" fill="#e49550"/>
<circle cx="526.7" cy="48.9" r="1.65" fill="#e49550"/>
<circle cx="537.6" cy="42.4" r="1.65" fill="#e49550"/>
<circle cx="543.0" cy="43.5" r="1.65" fill="#e49550"/>
<circle cx="555.0" cy="42.4" r="1.65" fill="#e49550"/>
<circle cx="571.3" cy="42.4" r="1.65" fill="#e49550"/>
<circle cx="543.0" cy="51.1" r="1.65" fill="#e49550"/>
<circle cx="550.7" cy="50.0" r="1.65" fill="#e49550"/>
<circle cx="553.9" cy="48.9" r="1.65" fill="#e49550"/>
<circle cx="551.7" cy="53.9" r="1.65" fill="#e49550"/>
<circle cx="546.3" cy="56.1" r="1.65" fill="#e49550"/>
<circle cx="557.8" cy="52.6" r="1.65" fill="#e49550"/>
<circle cx="563.7" cy="52.2" r="1.65" fill="#e49550"/>
<circle cx="564.8" cy="50.4" r="1.65" fill="#e49550"/>
<circle cx="570.2" cy="50.4" r="1.65" fill="#e49550"/>
<circle cx="572.4" cy="46.7" r="1.65" fill="#e49550"/>
<circle cx="569.1" cy="55.4" r="1.65" fill="#e49550"/>
<circle cx="571.3" cy="57.0" r="1.65" fill="#e49550"/>
<circle cx="567.0" cy="59.1" r="1.65" fill="#e49550"/>
<circle cx="568.0" cy="62.0" r="1.65" fill="#e49550"/>
<circle cx="565.9" cy="63.0" r="1.65" fill="#e49550"/>
<circle cx="531.7" cy="54.3" r="1.65" fill="#e49550"/>
<circle cx="532.2" cy="57.6" r="1.65" fill="#e49550"/>
<circle cx="530.4" cy="58.7" r="1.65" fill="#e49550"/>
<circle cx="536.1" cy="70.7" r="1.65" fill="#e49550"/>
<circle cx="552.8" cy="72.2" r="1.65" fill="#e49550"/>
<circle cx="556.5" cy="71.7" r="1.65" fill="#e49550"/>
<circle cx="546.3" cy="76.5" r="1.65" fill="#e49550"/>
<circle cx="539.8" cy="78.3" r="1.65" fill="#e49550"/>
<circle cx="576.1" cy="37.0" r="1.65" fill="#e49550"/>
<circle cx="533.9" cy="76.5" r="1.65" fill="#e49550"/>
<circle cx="535.4" cy="78.7" r="1.65" fill="#e49550"/>
<circle cx="547.0" cy="78.7" r="1.65" fill="#e49550"/>
<circle cx="549.6" cy="78.3" r="1.65" fill="#e49550"/>
<circle cx="540.9" cy="80.4" r="1.65" fill="#e49550"/>
<circle cx="543.0" cy="82.0" r="1.65" fill="#e49550"/>
<circle cx="552.8" cy="80.4" r="1.65" fill="#e49550"/>
<circle cx="546.3" cy="84.1" r="1.65" fill="#e49550"/>
<circle cx="555.0" cy="85.7" r="1.65" fill="#e49550"/>
<circle cx="563.7" cy="84.8" r="1.65" fill="#e49550"/>
<circle cx="564.8" cy="82.0" r="1.65" fill="#e49550"/>
<circle cx="539.8" cy="90.0" r="1.65" fill="#e49550"/>
<circle cx="549.1" cy="89.6" r="1.65" fill="#e49550"/>
<circle cx="553.9" cy="91.7" r="1.65" fill="#e49550"/>
<circle cx="559.3" cy="89.6" r="1.65" fill="#e49550"/>
<circle cx="557.2" cy="93.5" r="1.65" fill="#e49550"/>
<circle cx="564.8" cy="94.3" r="1.65" fill="#e49550"/>
<circle cx="559.3" cy="97.2" r="1.65" fill="#e49550"/>
<circle cx="531.7" cy="104.3" r="1.65" fill="#e49550"/>
<circle cx="602.6" cy="33.7" r="1.65" fill="#ea72e4"/>
<circle cx="595.7" cy="39.8" r="1.65" fill="#ea72e4"/>
<circle cx="602.2" cy="43.5" r="1.65" fill="#ea72e4"/>
<circle cx="609.8" cy="41.7" r="1.65" fill="#ea72e4"/>
<circle cx="615.2" cy="40.7" r="1.65" fill="#ea72e4"/>
<circle cx="595.0" cy="43.5" r="1.65" fill="#ea72e4"/>
<circle cx="623.9" cy="43.5" r="1.65" fill="#ea72e4"/>
<circle cx="602.2" cy="46.7" r="1.65" fill="#ea72e4"/>
<circle cx="603.3" cy="48.3" r="1.65" fill="#ea72e4"/>
<circle cx="603.3" cy="56.1" r="1.65" fill="#ea72e4"/>
<circle cx="609.1" cy="56.5" r="1.65" fill="#ea72e4"/>
<circle cx="621.7" cy="53.3" r="1.65" fill="#ea72e4"/>
<circle cx="637.0" cy="53.3" r="1.65" fill="#ea72e4"/>
<circle cx="634.8" cy="54.3" r="1.65" fill="#ea72e4"/>
<circle cx="623.9" cy="57.6" r="1.65" fill="#ea72e4"/>
<circle cx="629.3" cy="56.5" r="1.65" fill="#ea72e4"/>
<circle cx="620.2" cy="59.1" r="1.65" fill="#ea72e4"/>
<circle cx="633.7" cy="59.8" r="1.65" fill="#ea72e4"/>
<circle cx="607.6" cy="61.3" r="1.65" fill="#ea72e4"/>
<circle cx="608.7" cy="63.0" r="1.65" fill="#ea72e4"/>
<circle cx="614.1" cy="63.5" r="1.65" fill="#ea72e4"/>
<circle cx="598.9" cy="61.5" r="1.65" fill="#ea72e4"/>
<circle cx="607.2" cy="65.2" r="1.65" fill="#ea72e4"/>
<circle cx="642.4" cy="62.0" r="1.65" fill="#ea72e4"/>
<circle cx="645.7" cy="60.9" r="1.65" fill="#ea72e4"/>
<circle cx="647.8" cy="63.0" r="1.65" fill="#ea72e4"/>
<circle cx="632.6" cy="65.2" r="1.65" fill="#ea72e4"/>
<circle cx="616.7" cy="67.4" r="1.65" fill="#ea72e4"/>
<circle cx="620.7" cy="67.4" r="1.65" fill="#ea72e4"/>
<circle cx="629.3" cy="69.1" r="1.65" fill="#ea72e4"/>
<circle cx="640.2" cy="71.3" r="1.65" fill="#ea72e4"/>
<circle cx="644.1" cy="70.0" r="1.65" fill="#ea72e4"/>
<circle cx="626.7" cy="73.9" r="1.65" fill="#ea72e4"/>
<circle cx="625.0" cy="76.1" r="1.65" fill="#ea72e4"/>
<circle cx="628.3" cy="78.3" r="1.65" fill="#ea72e4"/>
<circle cx="617.4" cy="72.2" r="1.65" fill="#ea72e4"/>
<circle cx="626.1" cy="78.7" r="1.65" fill="#ea72e4"/>
<circle cx="622.8" cy="80.4" r="1.65" fill="#ea72e4"/>
<circle cx="609.8" cy="82.0" r="1.65" fill="#ea72e4"/>
<circle cx="628.3" cy="82.6" r="1.65" fill="#ea72e4"/>
<circle cx="633.7" cy="83.0" r="1.65" fill="#ea72e4"/>
<circle cx="637.0" cy="84.8" r="1.65" fill="#ea72e4"/>
<circle cx="621.7" cy="85.2" r="1.65" fill="#ea72e4"/>
<circle cx="614.8" cy="89.1" r="1.65" fill="#ea72e4"/>
<circle cx="626.1" cy="90.7" r="1.65" fill="#ea72e4"/>
<circle cx="632.6" cy="89.1" r="1.65" fill="#ea72e4"/>
<circle cx="607.6" cy="91.7" r="1.65" fill="#ea72e4"/>
<circle cx="604.3" cy="93.5" r="1.65" fill="#ea72e4"/>
<circle cx="626.1" cy="93.5" r="1.65" fill="#ea72e4"/>
<circle cx="631.5" cy="93.9" r="1.65" fill="#ea72e4"/>
<circle cx="571.3" cy="97.6" r="1.65" fill="#5f84f2"/>
<circle cx="574.6" cy="102.2" r="1.65" fill="#5f84f2"/>
<circle cx="579.6" cy="110.2" r="1.65" fill="#5f84f2"/>
<circle cx="585.4" cy="112.4" r="1.65" fill="#5f84f2"/>
<circle cx="579.6" cy="116.7" r="1.65" fill="#5f84f2"/>
<circle cx="582.2" cy="122.6" r="1.65" fill="#5f84f2"/>
<circle cx="587.6" cy="122.2" r="1.65" fill="#5f84f2"/>
<circle cx="586.5" cy="118.3" r="1.65" fill="#5f84f2"/>
<circle cx="547.4" cy="124.3" r="1.65" fill="#5f84f2"/>
<circle cx="563.7" cy="124.8" r="1.65" fill="#5f84f2"/>
<circle cx="553.9" cy="132.0" r="1.65" fill="#5f84f2"/>
<circle cx="560.9" cy="133.0" r="1.65" fill="#5f84f2"/>
<circle cx="539.8" cy="134.6" r="1.65" fill="#5f84f2"/>
<circle cx="544.1" cy="137.0" r="1.65" fill="#5f84f2"/>
<circle cx="557.2" cy="137.4" r="1.65" fill="#5f84f2"/>
<circle cx="561.5" cy="135.2" r="1.65" fill="#5f84f2"/>
<circle cx="580.0" cy="129.8" r="1.65" fill="#5f84f2"/>
<circle cx="585.4" cy="132.0" r="1.65" fill="#5f84f2"/>
<circle cx="549.6" cy="140.0" r="1.65" fill="#5f84f2"/>
<circle cx="559.3" cy="140.0" r="1.65" fill="#5f84f2"/>
<circle cx="563.7" cy="140.0" r="1.65" fill="#5f84f2"/>
<circle cx="567.0" cy="139.6" r="1.65" fill="#5f84f2"/>
<circle cx="568.0" cy="141.7" r="1.65" fill="#5f84f2"/>
<circle cx="581.1" cy="141.7" r="1.65" fill="#5f84f2"/>
<circle cx="545.2" cy="147.2" r="1.65" fill="#5f84f2"/>
<circle cx="553.9" cy="148.3" r="1.65" fill="#5f84f2"/>
<circle cx="587.6" cy="148.3" r="1.65" fill="#5f84f2"/>
<circle cx="580.4" cy="118.3" r="1.65" fill="#5f84f2"/>
<circle cx="589.8" cy="118.3" r="1.65" fill="#5f84f2"/>
<circle cx="595.7" cy="121.1" r="1.65" fill="#5f84f2"/>
<circle cx="585.9" cy="122.2" r="1.65" fill="#5f84f2"/>
<circle cx="590.2" cy="127.6" r="1.65" fill="#5f84f2"/>
<circle cx="584.8" cy="129.8" r="1.65" fill="#5f84f2"/>
<circle cx="588.0" cy="130.9" r="1.65" fill="#5f84f2"/>
<circle cx="591.3" cy="129.1" r="1.65" fill="#5f84f2"/>
<circle cx="579.3" cy="146.1" r="1.65" fill="#5f84f2"/>
<circle cx="589.8" cy="131.3" r="1.65" fill="#5f84f2"/>
<circle cx="543.9" cy="141.1" r="1.65" fill="#5f84f2"/>
<circle cx="549.3" cy="142.6" r="1.65" fill="#5f84f2"/>
<circle cx="546.1" cy="148.7" r="1.65" fill="#5f84f2"/>
<circle cx="545.0" cy="154.8" r="1.65" fill="#5f84f2"/>
<circle cx="548.7" cy="154.8" r="1.65" fill="#5f84f2"/>
<circle cx="563.5" cy="142.2" r="1.65" fill="#5f84f2"/>
<circle cx="565.7" cy="144.3" r="1.65" fill="#5f84f2"/>
<circle cx="574.3" cy="143.3" r="1.65" fill="#5f84f2"/>
<circle cx="574.3" cy="156.3" r="1.65" fill="#5f84f2"/>
<circle cx="576.5" cy="160.0" r="1.65" fill="#5f84f2"/>
<circle cx="575.4" cy="163.9" r="1.65" fill="#5f84f2"/>
<circle cx="570.4" cy="168.3" r="1.65" fill="#5f84f2"/>
<circle cx="569.6" cy="175.9" r="1.65" fill="#5f84f2"/>
<circle cx="577.6" cy="173.7" r="1.65" fill="#5f84f2"/>
<circle cx="575.4" cy="180.2" r="1.65" fill="#5f84f2"/>
<circle cx="578.7" cy="179.1" r="1.65" fill="#5f84f2"/>
<circle cx="568.9" cy="182.4" r="1.65" fill="#5f84f2"/>
<circle cx="555.9" cy="183.5" r="1.65" fill="#5f84f2"/>
<circle cx="560.2" cy="187.4" r="1.65" fill="#5f84f2"/>
<circle cx="562.4" cy="188.3" r="1.65" fill="#5f84f2"/>
<circle cx="565.2" cy="186.7" r="1.65" fill="#5f84f2"/>
<circle cx="558.0" cy="189.6" r="1.65" fill="#5f84f2"/>
<circle cx="568.3" cy="191.7" r="1.65" fill="#5f84f2"/>
<circle cx="563.0" cy="195.4" r="1.65" fill="#5f84f2"/>
<circle cx="569.6" cy="197.0" r="1.65" fill="#5f84f2"/>
<circle cx="574.3" cy="193.9" r="1.65" fill="#5f84f2"/>
<circle cx="578.7" cy="182.4" r="1.65" fill="#5f84f2"/>
<circle cx="579.3" cy="151.3" r="1.65" fill="#5f84f2"/>
<circle cx="593.5" cy="165.7" r="1.65" fill="#5f84f2"/>
<circle cx="585.9" cy="168.3" r="1.65" fill="#5f84f2"/>
<circle cx="584.1" cy="170.4" r="1.65" fill="#5f84f2"/>
<circle cx="583.3" cy="172.6" r="1.65" fill="#5f84f2"/>
<circle cx="582.6" cy="175.2" r="1.65" fill="#5f84f2"/>
<circle cx="597.4" cy="174.8" r="1.65" fill="#5f84f2"/>
<circle cx="583.7" cy="185.7" r="1.65" fill="#5f84f2"/>
<circle cx="575.0" cy="192.2" r="1.65" fill="#5f84f2"/>
<circle cx="584.1" cy="191.1" r="1.65" fill="#5f84f2"/>
<circle cx="533.9" cy="134.6" r="1.65" fill="#e5605a"/>
<circle cx="533.3" cy="138.0" r="1.65" fill="#e5605a"/>
<circle cx="523.5" cy="140.2" r="1.65" fill="#e5605a"/>
<circle cx="525.7" cy="143.9" r="1.65" fill="#e5605a"/>
<circle cx="524.6" cy="146.5" r="1.65" fill="#e5605a"/>
<circle cx="523.5" cy="148.7" r="1.65" fill="#e5605a"/>
<circle cx="535.2" cy="154.8" r="1.65" fill="#e5605a"/>
<circle cx="532.0" cy="157.0" r="1.65" fill="#e5605a"/>
<circle cx="529.8" cy="159.1" r="1.65" fill="#e5605a"/>
<circle cx="525.4" cy="160.7" r="1.65" fill="#e5605a"/>
<circle cx="524.3" cy="163.9" r="1.65" fill="#e5605a"/>
<circle cx="514.6" cy="169.3" r="1.65" fill="#e5605a"/>
<circle cx="522.2" cy="167.2" r="1.65" fill="#e5605a"/>
<circle cx="523.9" cy="169.3" r="1.65" fill="#e5605a"/>
<circle cx="527.6" cy="167.8" r="1.65" fill="#e5605a"/>
<circle cx="526.1" cy="171.5" r="1.65" fill="#e5605a"/>
<circle cx="528.3" cy="174.8" r="1.65" fill="#e5605a"/>
<circle cx="537.0" cy="168.9" r="1.65" fill="#e5605a"/>
<circle cx="509.6" cy="172.6" r="1.65" fill="#e5605a"/>
<circle cx="506.5" cy="174.8" r="1.65" fill="#e5605a"/>
<circle cx="505.2" cy="177.0" r="1.65" fill="#e5605a"/>
<circle cx="509.1" cy="179.1" r="1.65" fill="#e5605a"/>
<circle cx="515.7" cy="179.6" r="1.65" fill="#e5605a"/>
<circle cx="541.3" cy="175.9" r="1.65" fill="#e5605a"/>
<circle cx="534.1" cy="178.7" r="1.65" fill="#e5605a"/>
<circle cx="532.6" cy="181.3" r="1.65" fill="#e5605a"/>
<circle cx="543.9" cy="183.5" r="1.65" fill="#e5605a"/>
<circle cx="501.1" cy="180.9" r="1.65" fill="#e5605a"/>
<circle cx="500.0" cy="183.0" r="1.65" fill="#e5605a"/>
<circle cx="502.6" cy="182.4" r="1.65" fill="#e5605a"/>
<circle cx="507.4" cy="184.6" r="1.65" fill="#e5605a"/>
<circle cx="497.8" cy="186.1" r="1.65" fill="#e5605a"/>
<circle cx="499.3" cy="188.3" r="1.65" fill="#e5605a"/>
<circle cx="500.9" cy="190.4" r="1.65" fill="#e5605a"/>
<circle cx="502.6" cy="192.2" r="1.65" fill="#e5605a"/>
<circle cx="504.8" cy="193.9" r="1.65" fill="#e5605a"/>
<circle cx="521.1" cy="185.7" r="1.65" fill="#e5605a"/>
<circle cx="527.6" cy="184.6" r="1.65" fill="#e5605a"/>
<circle cx="530.9" cy="183.5" r="1.65" fill="#e5605a"/>
<circle cx="529.8" cy="187.8" r="1.65" fill="#e5605a"/>
<circle cx="536.3" cy="186.7" r="1.65" fill="#e5605a"/>
<circle cx="537.8" cy="191.1" r="1.65" fill="#e5605a"/>
<circle cx="541.7" cy="192.2" r="1.65" fill="#e5605a"/>
<circle cx="545.7" cy="190.0" r="1.65" fill="#e5605a"/>
<circle cx="490.7" cy="192.6" r="1.65" fill="#e5605a"/>
<circle cx="491.7" cy="195.4" r="1.65" fill="#e5605a"/>
<circle cx="492.8" cy="197.0" r="1.65" fill="#e5605a"/>
<circle cx="495.0" cy="194.3" r="1.65" fill="#e5605a"/>
<circle cx="533.5" cy="196.1" r="1.65" fill="#e5605a"/>
<circle cx="537.8" cy="196.1" r="1.65" fill="#e5605a"/>
<circle cx="537.0" cy="199.1" r="1.65" fill="#e5605a"/>
<circle cx="493.9" cy="203.5" r="1.65" fill="#e5605a"/>
<circle cx="495.7" cy="204.1" r="1.65" fill="#e5605a"/>
<circle cx="498.3" cy="206.3" r="1.65" fill="#e5605a"/>
<circle cx="496.5" cy="207.8" r="1.65" fill="#e5605a"/>
<circle cx="503.0" cy="210.0" r="1.65" fill="#e5605a"/>
<circle cx="501.5" cy="211.7" r="1.65" fill="#e5605a"/>
<circle cx="510.2" cy="213.9" r="1.65" fill="#e5605a"/>
<circle cx="504.8" cy="216.1" r="1.65" fill="#e5605a"/>
<circle cx="496.1" cy="215.0" r="1.65" fill="#e5605a"/>
<circle cx="510.2" cy="216.5" r="1.65" fill="#e5605a"/>
<circle cx="530.9" cy="209.6" r="1.65" fill="#e5605a"/>
<circle cx="526.5" cy="214.3" r="1.65" fill="#e5605a"/>
<circle cx="521.7" cy="217.2" r="1.65" fill="#e5605a"/>
<circle cx="500.9" cy="217.8" r="1.65" fill="#e5605a"/>
<circle cx="503.7" cy="214.8" r="1.65" fill="#e5605a"/>
<circle cx="503.7" cy="218.3" r="1.65" fill="#e5605a"/>
<circle cx="499.3" cy="219.8" r="1.65" fill="#e5605a"/>
<circle cx="502.6" cy="221.3" r="1.65" fill="#e5605a"/>
<circle cx="511.7" cy="222.0" r="1.65" fill="#e5605a"/>
<circle cx="528.3" cy="219.8" r="1.65" fill="#e5605a"/>
<circle cx="523.9" cy="222.0" r="1.65" fill="#e5605a"/>
<circle cx="496.5" cy="226.7" r="1.65" fill="#e5605a"/>
<circle cx="624.6" cy="104.1" r="1.65" fill="#70b8e2"/>
<circle cx="632.6" cy="104.8" r="1.65" fill="#70b8e2"/>
<circle cx="634.8" cy="105.9" r="1.65" fill="#70b8e2"/>
<circle cx="633.3" cy="108.7" r="1.65" fill="#70b8e2"/>
<circle cx="637.0" cy="107.4" r="1.65" fill="#70b8e2"/>
<circle cx="644.1" cy="108.5" r="1.65" fill="#70b8e2"/>
<circle cx="619.6" cy="111.3" r="1.65" fill="#70b8e2"/>
<circle cx="645.7" cy="113.5" r="1.65" fill="#70b8e2"/>
<circle cx="610.4" cy="116.1" r="1.65" fill="#70b8e2"/>
<circle cx="613.0" cy="118.3" r="1.65" fill="#70b8e2"/>
<circle cx="610.9" cy="118.9" r="1.65" fill="#70b8e2"/>
<circle cx="604.3" cy="120.4" r="1.65" fill="#70b8e2"/>
<circle cx="618.5" cy="120.0" r="1.65" fill="#70b8e2"/>
<circle cx="621.7" cy="118.9" r="1.65" fill="#70b8e2"/>
<circle cx="625.0" cy="117.4" r="1.65" fill="#70b8e2"/>
<circle cx="619.6" cy="122.2" r="1.65" fill="#70b8e2"/>
<circle cx="622.8" cy="123.3" r="1.65" fill="#70b8e2"/>
<circle cx="638.0" cy="122.2" r="1.65" fill="#70b8e2"/>
<circle cx="644.6" cy="121.1" r="1.65" fill="#70b8e2"/>
<circle cx="645.7" cy="124.3" r="1.65" fill="#70b8e2"/>
<circle cx="643.5" cy="127.6" r="1.65" fill="#70b8e2"/>
<circle cx="617.4" cy="132.0" r="1.65" fill="#70b8e2"/>
<circle cx="623.3" cy="130.4" r="1.65" fill="#70b8e2"/>
<circle cx="625.0" cy="133.5" r="1.65" fill="#70b8e2"/>
<circle cx="621.1" cy="137.0" r="1.65" fill="#70b8e2"/>
<circle cx="627.2" cy="136.3" r="1.65" fill="#70b8e2"/>
<circle cx="628.3" cy="139.1" r="1.65" fill="#70b8e2"/>
<circle cx="633.3" cy="138.5" r="1.65" fill="#70b8e2"/>
<circle cx="622.8" cy="142.8" r="1.65" fill="#70b8e2"/>
<circle cx="640.2" cy="139.6" r="1.65" fill="#70b8e2"/>
<circle cx="642.4" cy="139.1" r="1.65" fill="#70b8e2"/>
<circle cx="628.3" cy="141.1" r="1.65" fill="#70b8e2"/>
<circle cx="626.7" cy="154.1" r="1.65" fill="#70b8e2"/>
<circle cx="630.4" cy="152.6" r="1.65" fill="#70b8e2"/>
<circle cx="634.1" cy="149.8" r="1.65" fill="#70b8e2"/>
<circle cx="640.2" cy="149.8" r="1.65" fill="#70b8e2"/>
<circle cx="623.9" cy="161.3" r="1.65" fill="#70b8e2"/>
<circle cx="625.4" cy="155.7" r="1.65" fill="#70b8e2"/>
<circle cx="552.2" cy="200.4" r="1.65" fill="#ead552"/>
<circle cx="552.6" cy="205.2" r="1.65" fill="#ead552"/>
<circle cx="558.0" cy="204.1" r="1.65" fill="#ead552"/>
<circle cx="555.9" cy="211.7" r="1.65" fill="#ead552"/>
<circle cx="548.3" cy="215.0" r="1.65" fill="#ead552"/>
<circle cx="553.7" cy="215.7" r="1.65" fill="#ead552"/>
<circle cx="561.3" cy="215.0" r="1.65" fill="#ead552"/>
<circle cx="566.7" cy="213.9" r="1.65" fill="#ead552"/>
<circle cx="567.8" cy="216.5" r="1.65" fill="#ead552"/>
<circle cx="553.7" cy="218.3" r="1.65" fill="#ead552"/>
<circle cx="578.7" cy="213.9" r="1.65" fill="#ead552"/>
<circle cx="582.0" cy="202.0" r="1.65" fill="#ead552"/>
<circle cx="581.5" cy="204.8" r="1.65" fill="#ead552"/>
<circle cx="588.5" cy="200.9" r="1.65" fill="#ead552"/>
<circle cx="583.3" cy="217.8" r="1.65" fill="#ead552"/>
<circle cx="552.2" cy="220.4" r="1.65" fill="#ead552"/>
<circle cx="570.0" cy="220.9" r="1.65" fill="#ead552"/>
<circle cx="542.2" cy="224.1" r="1.65" fill="#ead552"/>
<circle cx="546.5" cy="225.2" r="1.65" fill="#ead552"/>
<circle cx="550.0" cy="224.8" r="1.65" fill="#ead552"/>
<circle cx="548.7" cy="227.0" r="1.65" fill="#ead552"/>
<circle cx="558.7" cy="227.8" r="1.65" fill="#ead552"/>
<circle cx="571.1" cy="230.0" r="1.65" fill="#ead552"/>
<circle cx="563.0" cy="232.8" r="1.65" fill="#ead552"/>
<circle cx="553.7" cy="234.3" r="1.65" fill="#ead552"/>
<circle cx="549.3" cy="236.5" r="1.65" fill="#ead552"/>
<circle cx="576.5" cy="237.8" r="1.65" fill="#ead552"/>
<circle cx="542.8" cy="240.4" r="1.65" fill="#ead552"/>
<circle cx="552.2" cy="243.7" r="1.65" fill="#ead552"/>
<circle cx="576.5" cy="245.9" r="1.65" fill="#ead552"/>
<circle cx="562.4" cy="248.0" r="1.65" fill="#ead552"/>
<circle cx="566.7" cy="249.1" r="1.65" fill="#ead552"/>
<circle cx="568.9" cy="251.3" r="1.65" fill="#ead552"/>
<circle cx="548.3" cy="250.2" r="1.65" fill="#ead552"/>
<circle cx="550.9" cy="254.6" r="1.65" fill="#ead552"/>
<circle cx="538.5" cy="253.9" r="1.65" fill="#ead552"/>
<circle cx="542.8" cy="253.5" r="1.65" fill="#ead552"/>
<circle cx="541.3" cy="256.1" r="1.65" fill="#ead552"/>
<circle cx="539.6" cy="257.8" r="1.65" fill="#ead552"/>
<circle cx="542.8" cy="256.7" r="1.65" fill="#ead552"/>
<circle cx="565.7" cy="253.5" r="1.65" fill="#ead552"/>
<circle cx="563.0" cy="255.7" r="1.65" fill="#ead552"/>
<circle cx="576.5" cy="256.7" r="1.65" fill="#ead552"/>
<circle cx="551.5" cy="257.8" r="1.65" fill="#ead552"/>
<circle cx="546.5" cy="263.9" r="1.65" fill="#ead552"/>
<circle cx="568.3" cy="263.9" r="1.65" fill="#ead552"/>
<circle cx="557.4" cy="267.6" r="1.65" fill="#ead552"/>
<circle cx="572.2" cy="267.6" r="1.65" fill="#ead552"/>
<circle cx="542.8" cy="272.0" r="1.65" fill="#ead552"/>
<circle cx="567.8" cy="277.0" r="1.65" fill="#ead552"/>
<circle cx="571.1" cy="282.8" r="1.65" fill="#ead552"/>
<circle cx="573.9" cy="286.1" r="1.65" fill="#ead552"/>
<circle cx="579.8" cy="261.1" r="1.65" fill="#ead552"/>
<circle cx="590.7" cy="224.1" r="1.65" fill="#ead552"/>
<circle cx="595.7" cy="228.5" r="1.65" fill="#ead552"/>
<circle cx="583.7" cy="232.4" r="1.65" fill="#ead552"/>
<circle cx="577.6" cy="248.7" r="1.65" fill="#ead552"/>
<circle cx="588.0" cy="248.0" r="1.65" fill="#ead552"/>
<circle cx="581.5" cy="261.1" r="1.65" fill="#ead552"/>
<circle cx="528.3" cy="256.1" r="1.65" fill="#8aeaaa"/>
<circle cx="526.1" cy="261.1" r="1.65" fill="#8aeaaa"/>
<circle cx="527.6" cy="262.2" r="1.65" fill="#8aeaaa"/>
<circle cx="534.1" cy="260.4" r="1.65" fill="#8aeaaa"/>
<circle cx="532.6" cy="267.6" r="1.65" fill="#8aeaaa"/>
<circle cx="528.7" cy="272.0" r="1.65" fill="#8aeaaa"/>
<circle cx="533.0" cy="272.0" r="1.65" fill="#8aeaaa"/>
<circle cx="524.3" cy="274.1" r="1.65" fill="#8aeaaa"/>
<circle cx="529.1" cy="275.2" r="1.65" fill="#8aeaaa"/>
<circle cx="536.3" cy="274.8" r="1.65" fill="#8aeaaa"/>
<circle cx="521.1" cy="280.7" r="1.65" fill="#8aeaaa"/>
<circle cx="524.3" cy="280.7" r="1.65" fill="#8aeaaa"/>
<circle cx="522.2" cy="282.8" r="1.65" fill="#8aeaaa"/>
<circle cx="531.3" cy="281.7" r="1.65" fill="#8aeaaa"/>
<circle cx="536.3" cy="281.3" r="1.65" fill="#8aeaaa"/>
<circle cx="527.6" cy="283.9" r="1.65" fill="#8aeaaa"/>
<circle cx="524.3" cy="285.0" r="1.65" fill="#8aeaaa"/>
<circle cx="519.6" cy="286.1" r="1.65" fill="#8aeaaa"/>
<circle cx="551.5" cy="288.7" r="1.65" fill="#8aeaaa"/>
<circle cx="521.1" cy="288.3" r="1.65" fill="#8aeaaa"/>
<circle cx="534.3" cy="285.4" r="1.65" fill="#8aeaaa"/>
<circle cx="528.9" cy="291.3" r="1.65" fill="#8aeaaa"/>
<circle cx="537.0" cy="290.4" r="1.65" fill="#8aeaaa"/>
<circle cx="538.7" cy="291.3" r="1.65" fill="#8aeaaa"/>
<circle cx="536.1" cy="294.8" r="1.65" fill="#8aeaaa"/>
<circle cx="539.8" cy="296.3" r="1.65" fill="#8aeaaa"/>
<circle cx="539.1" cy="299.6" r="1.65" fill="#8aeaaa"/>
<circle cx="537.0" cy="302.8" r="1.65" fill="#8aeaaa"/>
<circle cx="521.7" cy="309.3" r="1.65" fill="#8aeaaa"/>
<circle cx="524.6" cy="312.6" r="1.65" fill="#8aeaaa"/>
<circle cx="526.1" cy="314.3" r="1.65" fill="#8aeaaa"/>
<circle cx="525.2" cy="315.9" r="1.65" fill="#8aeaaa"/>
<circle cx="543.0" cy="309.3" r="1.65" fill="#8aeaaa"/>
<circle cx="546.3" cy="312.2" r="1.65" fill="#8aeaaa"/>
<circle cx="548.5" cy="313.0" r="1.65" fill="#8aeaaa"/>
<circle cx="551.3" cy="313.0" r="1.65" fill="#8aeaaa"/>
<circle cx="536.1" cy="317.0" r="1.65" fill="#8aeaaa"/>
<circle cx="537.6" cy="319.1" r="1.65" fill="#8aeaaa"/>
<circle cx="543.5" cy="318.7" r="1.65" fill="#8aeaaa"/>
<circle cx="547.8" cy="318.0" r="1.65" fill="#8aeaaa"/>
<circle cx="527.8" cy="320.2" r="1.65" fill="#8aeaaa"/>
<circle cx="538.3" cy="322.4" r="1.65" fill="#8aeaaa"/>
<circle cx="528.9" cy="325.7" r="1.65" fill="#8aeaaa"/>
<circle cx="537.0" cy="325.7" r="1.65" fill="#8aeaaa"/>
<circle cx="542.0" cy="325.2" r="1.65" fill="#8aeaaa"/>
<circle cx="538.3" cy="328.3" r="1.65" fill="#8aeaaa"/>
<circle cx="533.3" cy="330.4" r="1.65" fill="#8aeaaa"/>
<circle cx="540.9" cy="331.7" r="1.65" fill="#8aeaaa"/>
<circle cx="543.0" cy="332.6" r="1.65" fill="#8aeaaa"/>
<circle cx="545.2" cy="332.2" r="1.65" fill="#8aeaaa"/>
<circle cx="549.6" cy="329.6" r="1.65" fill="#8aeaaa"/>
<circle cx="550.7" cy="331.7" r="1.65" fill="#8aeaaa"/>
<circle cx="544.8" cy="334.8" r="1.65" fill="#8aeaaa"/>
<circle cx="548.5" cy="333.3" r="1.65" fill="#8aeaaa"/>
<circle cx="599.3" cy="248.0" r="1.65" fill="#b36ef2"/>
<circle cx="601.1" cy="255.2" r="1.65" fill="#b36ef2"/>
<circle cx="602.2" cy="257.4" r="1.65" fill="#b36ef2"/>
<circle cx="601.5" cy="260.0" r="1.65" fill="#b36ef2"/>
<circle cx="595.0" cy="258.9" r="1.65" fill="#b36ef2"/>
<circle cx="594.1" cy="261.1" r="1.65" fill="#b36ef2"/>
<circle cx="594.6" cy="263.3" r="1.65" fill="#b36ef2"/>
<circle cx="603.3" cy="264.3" r="1.65" fill="#b36ef2"/>
<circle cx="590.7" cy="267.6" r="1.65" fill="#b36ef2"/>
<circle cx="596.7" cy="268.3" r="1.65" fill="#b36ef2"/>
<circle cx="588.5" cy="271.3" r="1.65" fill="#b36ef2"/>
<circle cx="595.0" cy="272.0" r="1.65" fill="#b36ef2"/>
<circle cx="600.7" cy="272.0" r="1.65" fill="#b36ef2"/>
<circle cx="599.3" cy="274.8" r="1.65" fill="#b36ef2"/>
<circle cx="602.2" cy="275.7" r="1.65" fill="#b36ef2"/>
<circle cx="593.5" cy="276.3" r="1.65" fill="#b36ef2"/>
<circle cx="591.3" cy="279.6" r="1.65" fill="#b36ef2"/>
<circle cx="583.7" cy="280.7" r="1.65" fill="#b36ef2"/>
<circle cx="589.1" cy="282.4" r="1.65" fill="#b36ef2"/>
<circle cx="592.4" cy="282.8" r="1.65" fill="#b36ef2"/>
<circle cx="601.5" cy="282.8" r="1.65" fill="#b36ef2"/>
<circle cx="560.0" cy="299.6" r="1.65" fill="#b36ef2"/>
<circle cx="553.9" cy="304.3" r="1.65" fill="#b36ef2"/>
<circle cx="557.2" cy="303.5" r="1.65" fill="#b36ef2"/>
<circle cx="555.7" cy="306.5" r="1.65" fill="#b36ef2"/>
<circle cx="553.9" cy="307.2" r="1.65" fill="#b36ef2"/>
<circle cx="572.4" cy="296.3" r="1.65" fill="#b36ef2"/>
<circle cx="578.9" cy="297.8" r="1.65" fill="#b36ef2"/>
<circle cx="587.6" cy="296.3" r="1.65" fill="#b36ef2"/>
<circle cx="571.3" cy="301.7" r="1.65" fill="#b36ef2"/>
<circle cx="573.5" cy="304.3" r="1.65" fill="#b36ef2"/>
<circle cx="586.5" cy="302.8" r="1.65" fill="#b36ef2"/>
<circle cx="565.9" cy="305.7" r="1.65" fill="#b36ef2"/>
<circle cx="575.7" cy="306.5" r="1.65" fill="#b36ef2"/>
<circle cx="582.2" cy="308.3" r="1.65" fill="#b36ef2"/>
<circle cx="572.4" cy="309.3" r="1.65" fill="#b36ef2"/>
<circle cx="564.8" cy="310.9" r="1.65" fill="#b36ef2"/>
<circle cx="572.4" cy="312.6" r="1.65" fill="#b36ef2"/>
<circle cx="588.3" cy="312.6" r="1.65" fill="#b36ef2"/>
<circle cx="561.5" cy="316.5" r="1.65" fill="#b36ef2"/>
<circle cx="568.0" cy="319.1" r="1.65" fill="#b36ef2"/>
<circle cx="571.3" cy="318.7" r="1.65" fill="#b36ef2"/>
<circle cx="573.9" cy="320.2" r="1.65" fill="#b36ef2"/>
<circle cx="583.9" cy="319.1" r="1.65" fill="#b36ef2"/>
<circle cx="569.6" cy="322.4" r="1.65" fill="#b36ef2"/>
<circle cx="565.9" cy="324.6" r="1.65" fill="#b36ef2"/>
<circle cx="571.3" cy="326.7" r="1.65" fill="#b36ef2"/>
<circle cx="569.6" cy="328.3" r="1.65" fill="#b36ef2"/>
<circle cx="562.2" cy="328.3" r="1.65" fill="#b36ef2"/>
<circle cx="576.7" cy="329.6" r="1.65" fill="#b36ef2"/>
<circle cx="569.1" cy="331.1" r="1.65" fill="#b36ef2"/>
<circle cx="570.2" cy="333.3" r="1.65" fill="#b36ef2"/>
<circle cx="567.0" cy="334.3" r="1.65" fill="#b36ef2"/>
<circle cx="588.7" cy="320.2" r="1.65" fill="#b36ef2"/>
<circle cx="600.7" cy="292.0" r="1.65" fill="#b36ef2"/>
<circle cx="596.7" cy="293.0" r="1.65" fill="#b36ef2"/>
<circle cx="598.5" cy="294.1" r="1.65" fill="#b36ef2"/>
<circle cx="593.5" cy="300.0" r="1.65" fill="#b36ef2"/>
<circle cx="596.7" cy="300.0" r="1.65" fill="#b36ef2"/>
<circle cx="595.7" cy="302.2" r="1.65" fill="#b36ef2"/>
<circle cx="595.7" cy="305.0" r="1.65" fill="#b36ef2"/>
<circle cx="582.6" cy="310.0" r="1.65" fill="#b36ef2"/>
<circle cx="589.8" cy="311.5" r="1.65" fill="#b36ef2"/>
<circle cx="591.3" cy="312.6" r="1.65" fill="#b36ef2"/>
<circle cx="573.5" cy="15.7" r="1.7" fill="#000"/>
<circle cx="549.6" cy="85.2" r="1.7" fill="#000"/>
<circle cx="555.4" cy="123.7" r="1.7" fill="#000"/>
<circle cx="570.9" cy="145.4" r="1.7" fill="#000"/>
<circle cx="624.3" cy="86.7" r="1.7" fill="#000"/>
<circle cx="596.1" cy="117.2" r="1.7" fill="#000"/>
<text transform="translate(542.50,12.20)" font-size="8.15" text-anchor="start" font-weight="normal" fill="#141414">DIABLO</text>
<text transform="translate(527.50,20.20)" font-size="8.15" text-anchor="start" font-weight="normal" fill="#141414">SLC16A7</text>
<text transform="translate(578.80,13.80)" font-size="8.15" text-anchor="start" font-weight="normal" fill="#141414">COMT</text>
<text transform="translate(515.50,31.50)" font-size="8.15" text-anchor="start" font-weight="normal" fill="#141414">NDUFAF2</text>
<text transform="translate(491.00,48.50)" font-size="8.15" text-anchor="start" font-weight="normal" fill="#141414">ROMO1</text>
<text transform="translate(507.00,71.50)" font-size="8.15" text-anchor="start" font-weight="normal" fill="#141414">AIFM2</text>
<text transform="translate(559.50,75.50)" font-size="10.7" text-anchor="start" font-weight="normal" fill="#141414">Non-Target</text>
<text transform="translate(618.50,41.50)" font-size="8.15" text-anchor="start" font-weight="normal" fill="#141414">CASQ1</text>
<text transform="translate(640.50,56.00)" font-size="8.15" text-anchor="start" font-weight="normal" fill="#141414">COX4I1</text>
<text transform="translate(652.50,83.00)" font-size="8.15" text-anchor="start" font-weight="bold" fill="#141414">MFN2</text>
<text transform="translate(498.00,107.50)" font-size="8.15" text-anchor="start" font-weight="normal" fill="#141414">YWHAQ</text>
<text transform="translate(527.80,113.60)" font-size="8.15" text-anchor="start" font-weight="bold" fill="#141414">NDUFS5</text>
<text transform="translate(607.00,111.00)" font-size="8.15" text-anchor="start" font-weight="normal" fill="#141414">AIP</text>
<text transform="translate(650.50,116.50)" font-size="8.15" text-anchor="start" font-weight="normal" fill="#141414">ISOC2</text>
<text transform="translate(647.00,129.00)" font-size="8.15" text-anchor="start" font-weight="normal" fill="#141414">FASTKD5</text>
<text transform="translate(505.00,138.00)" font-size="8.15" text-anchor="start" font-weight="normal" fill="#141414">TK2</text>
<text transform="translate(506.50,164.50)" font-size="8.15" text-anchor="start" font-weight="normal" fill="#141414">NIT1</text>
<text transform="translate(476.00,189.50)" font-size="8.15" text-anchor="start" font-weight="normal" fill="#141414">UNG</text>
<text transform="translate(584.50,156.80)" font-size="8.15" text-anchor="start" font-weight="bold" fill="#141414">NDUFAF7</text>
<text transform="translate(634.80,148.60)" font-size="8.15" text-anchor="start" font-weight="bold" fill="#141414">TMEM11</text>
<text transform="translate(628.00,163.00)" font-size="8.15" text-anchor="start" font-weight="normal" fill="#141414">DIMT1</text>
<text transform="translate(617.50,172.50)" font-size="8.15" text-anchor="start" font-weight="normal" fill="#141414">FAM195A</text>
<text transform="translate(590.00,184.00)" font-size="8.15" text-anchor="start" font-weight="normal" fill="#141414">COQ9</text>
<text transform="translate(577.50,199.00)" font-size="8.15" text-anchor="start" font-weight="normal" fill="#141414">TMEM126B</text>
<text transform="translate(487.00,237.50)" font-size="8.15" text-anchor="start" font-weight="normal" fill="#141414">MAPT</text>
<text transform="translate(497.00,250.00)" font-size="8.15" text-anchor="start" font-weight="bold" fill="#141414">NDUFAF4</text>
<text transform="translate(597.50,231.00)" font-size="8.15" text-anchor="start" font-weight="normal" fill="#141414">NOL3</text>
<text transform="translate(608.50,269.00)" font-size="8.15" text-anchor="start" font-weight="normal" fill="#141414">HIGD2A</text>
<text transform="translate(494.00,290.00)" font-size="8.15" text-anchor="start" font-weight="normal" fill="#141414">NOL3</text>
<text transform="translate(518.50,305.50)" font-size="8.15" text-anchor="start" font-weight="normal" fill="#141414">PHB</text>
<text transform="translate(497.50,313.00)" font-size="8.15" text-anchor="start" font-weight="normal" fill="#141414">MPC1</text>
<text transform="translate(502.50,336.00)" font-size="8.15" text-anchor="start" font-weight="normal" fill="#141414">MCCD1</text>
<text transform="translate(598.00,309.00)" font-size="8.15" text-anchor="start" font-weight="normal" fill="#141414">GFM1</text>
<text transform="translate(575.00,338.00)" font-size="8.15" text-anchor="start" font-weight="normal" fill="#141414">DNM1L</text>
<text transform="translate(551.00,344.50)" font-size="8.15" text-anchor="start" font-weight="normal" fill="#141414">AADAT</text>
<text transform="translate(511.30,14.10)" font-size="20.5" text-anchor="start" font-weight="bold" fill="#000">e.</text>
</svg>
</body></html>
